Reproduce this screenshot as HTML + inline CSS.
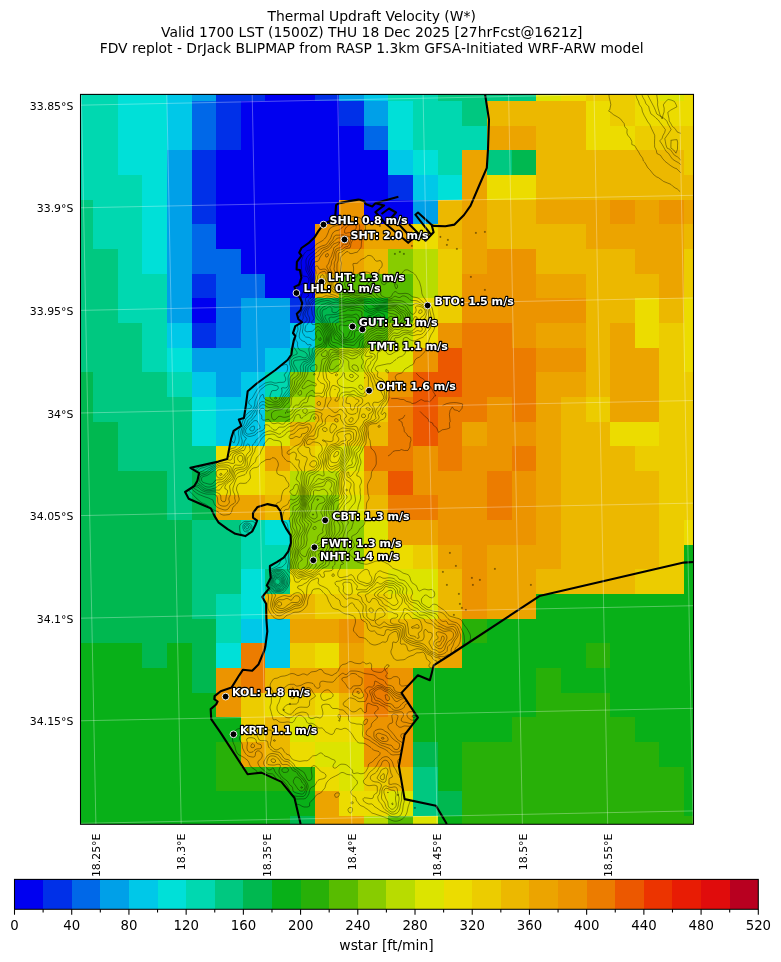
<!DOCTYPE html>
<html lang="en"><head><meta charset="utf-8"><title>Thermal Updraft Velocity (W*)</title>
<style>html,body{margin:0;padding:0;background:#fff}body{width:781px;height:962px;overflow:hidden}svg{display:block}text{font-family:"DejaVu Sans","Liberation Sans",sans-serif}</style></head><body>
<svg width="781" height="962" viewBox="0 0 781 962">
<rect width="781" height="962" fill="#fff"/>
<g font-size="13.89" text-anchor="middle" fill="#000">
<text x="371.7" y="20.9">Thermal Updraft Velocity (W*)</text>
<text x="371.7" y="36.9">Valid 1700 LST (1500Z) THU 18 Dec 2025 [27hrFcst@1621z]</text>
<text x="371.7" y="52.9">FDV replot - DrJack BLIPMAP from RASP 1.3km GFSA-Initiated WRF-ARW model</text>
</g>
<defs><clipPath id="ax"><rect x="80.5" y="94.4" width="613" height="729.9"/></clipPath></defs>
<g shape-rendering="crispEdges">
<rect x="80.5" y="94.4" width="613" height="729.9" fill="#08b018"/>
<rect x="80" y="94" width="38" height="7" fill="#00d8b0"/>
<rect x="118" y="94" width="49" height="7" fill="#00e0d8"/>
<rect x="167" y="94" width="25" height="7" fill="#00c8e8"/>
<rect x="192" y="94" width="24" height="7" fill="#00a0e8"/>
<rect x="216" y="94" width="49" height="7" fill="#0030e8"/>
<rect x="265" y="94" width="50" height="7" fill="#0000f0"/>
<rect x="315" y="94" width="24" height="7" fill="#0030e8"/>
<rect x="339" y="94" width="25" height="7" fill="#00a0e8"/>
<rect x="364" y="94" width="24" height="7" fill="#00c8e8"/>
<rect x="388" y="94" width="50" height="7" fill="#00d8b0"/>
<rect x="438" y="94" width="98" height="7" fill="#00c880"/>
<rect x="536" y="94" width="25" height="7" fill="#dce400"/>
<rect x="561" y="94" width="25" height="7" fill="#ecdc00"/>
<rect x="586" y="94" width="49" height="7" fill="#eccc00"/>
<rect x="635" y="94" width="24" height="7" fill="#ecdc00"/>
<rect x="659" y="94" width="25" height="7" fill="#dce400"/>
<rect x="684" y="94" width="10" height="7" fill="#ecdc00"/>
<rect x="80" y="101" width="38" height="25" fill="#00d8b0"/>
<rect x="118" y="101" width="49" height="25" fill="#00e0d8"/>
<rect x="167" y="101" width="25" height="25" fill="#00c8e8"/>
<rect x="192" y="101" width="24" height="25" fill="#0068e8"/>
<rect x="216" y="101" width="25" height="25" fill="#0030e8"/>
<rect x="241" y="101" width="98" height="25" fill="#0000f0"/>
<rect x="339" y="101" width="25" height="25" fill="#0030e8"/>
<rect x="364" y="101" width="24" height="25" fill="#00a0e8"/>
<rect x="388" y="101" width="25" height="25" fill="#00e0d8"/>
<rect x="413" y="101" width="49" height="25" fill="#00d8b0"/>
<rect x="462" y="101" width="25" height="25" fill="#00c880"/>
<rect x="487" y="101" width="99" height="25" fill="#ecb800"/>
<rect x="586" y="101" width="24" height="25" fill="#ecdc00"/>
<rect x="610" y="101" width="25" height="25" fill="#eccc00"/>
<rect x="635" y="101" width="59" height="25" fill="#ecdc00"/>
<rect x="80" y="126" width="38" height="24" fill="#00d8b0"/>
<rect x="118" y="126" width="49" height="24" fill="#00e0d8"/>
<rect x="167" y="126" width="25" height="24" fill="#00c8e8"/>
<rect x="192" y="126" width="24" height="24" fill="#0068e8"/>
<rect x="216" y="126" width="25" height="24" fill="#0030e8"/>
<rect x="241" y="126" width="123" height="24" fill="#0000f0"/>
<rect x="364" y="126" width="24" height="24" fill="#0068e8"/>
<rect x="388" y="126" width="25" height="24" fill="#00e0d8"/>
<rect x="413" y="126" width="74" height="24" fill="#00d8b0"/>
<rect x="487" y="126" width="49" height="24" fill="#eca400"/>
<rect x="536" y="126" width="50" height="24" fill="#ecb800"/>
<rect x="586" y="126" width="49" height="24" fill="#ecdc00"/>
<rect x="635" y="126" width="59" height="24" fill="#eccc00"/>
<rect x="80" y="150" width="38" height="25" fill="#00d8b0"/>
<rect x="118" y="150" width="49" height="25" fill="#00e0d8"/>
<rect x="167" y="150" width="25" height="25" fill="#00a0e8"/>
<rect x="192" y="150" width="24" height="25" fill="#0030e8"/>
<rect x="216" y="150" width="172" height="25" fill="#0000f0"/>
<rect x="388" y="150" width="25" height="25" fill="#00c8e8"/>
<rect x="413" y="150" width="25" height="25" fill="#00e0d8"/>
<rect x="438" y="150" width="24" height="25" fill="#00d8b0"/>
<rect x="462" y="150" width="25" height="25" fill="#eca400"/>
<rect x="487" y="150" width="25" height="25" fill="#00c880"/>
<rect x="512" y="150" width="24" height="25" fill="#00b850"/>
<rect x="536" y="150" width="148" height="25" fill="#ecb800"/>
<rect x="684" y="150" width="10" height="25" fill="#eccc00"/>
<rect x="80" y="175" width="62" height="25" fill="#00d8b0"/>
<rect x="142" y="175" width="25" height="25" fill="#00e0d8"/>
<rect x="167" y="175" width="25" height="25" fill="#00a0e8"/>
<rect x="192" y="175" width="24" height="25" fill="#0030e8"/>
<rect x="216" y="175" width="172" height="25" fill="#0000f0"/>
<rect x="388" y="175" width="25" height="25" fill="#0030e8"/>
<rect x="413" y="175" width="25" height="25" fill="#00c8e8"/>
<rect x="438" y="175" width="24" height="25" fill="#00e0d8"/>
<rect x="462" y="175" width="25" height="25" fill="#eca400"/>
<rect x="487" y="175" width="49" height="25" fill="#ecdc00"/>
<rect x="536" y="175" width="158" height="25" fill="#ecb800"/>
<rect x="80" y="200" width="13" height="24" fill="#00c880"/>
<rect x="93" y="200" width="49" height="24" fill="#00d8b0"/>
<rect x="142" y="200" width="25" height="24" fill="#00e0d8"/>
<rect x="167" y="200" width="25" height="24" fill="#00a0e8"/>
<rect x="192" y="200" width="24" height="24" fill="#0030e8"/>
<rect x="216" y="200" width="123" height="24" fill="#0000f0"/>
<rect x="339" y="200" width="25" height="24" fill="#ec9400"/>
<rect x="364" y="200" width="49" height="24" fill="#0000f0"/>
<rect x="413" y="200" width="25" height="24" fill="#00a0e8"/>
<rect x="438" y="200" width="24" height="24" fill="#ecb800"/>
<rect x="462" y="200" width="25" height="24" fill="#eca400"/>
<rect x="487" y="200" width="49" height="24" fill="#ecb800"/>
<rect x="536" y="200" width="74" height="24" fill="#eca400"/>
<rect x="610" y="200" width="25" height="24" fill="#ec9400"/>
<rect x="635" y="200" width="24" height="24" fill="#eca400"/>
<rect x="659" y="200" width="25" height="24" fill="#ec9400"/>
<rect x="684" y="200" width="10" height="24" fill="#eca400"/>
<rect x="80" y="224" width="13" height="25" fill="#00c880"/>
<rect x="93" y="224" width="49" height="25" fill="#00d8b0"/>
<rect x="142" y="224" width="25" height="25" fill="#00e0d8"/>
<rect x="167" y="224" width="25" height="25" fill="#00a0e8"/>
<rect x="192" y="224" width="24" height="25" fill="#0068e8"/>
<rect x="216" y="224" width="99" height="25" fill="#0000f0"/>
<rect x="315" y="224" width="24" height="25" fill="#ec9400"/>
<rect x="339" y="224" width="25" height="25" fill="#ec7c00"/>
<rect x="364" y="224" width="49" height="25" fill="#eca400"/>
<rect x="413" y="224" width="25" height="25" fill="#ecdc00"/>
<rect x="438" y="224" width="24" height="25" fill="#ecb800"/>
<rect x="462" y="224" width="25" height="25" fill="#eca400"/>
<rect x="487" y="224" width="99" height="25" fill="#ecb800"/>
<rect x="586" y="224" width="98" height="25" fill="#eca400"/>
<rect x="684" y="224" width="10" height="25" fill="#ecb800"/>
<rect x="80" y="249" width="38" height="25" fill="#00c880"/>
<rect x="118" y="249" width="24" height="25" fill="#00d8b0"/>
<rect x="142" y="249" width="25" height="25" fill="#00e0d8"/>
<rect x="167" y="249" width="25" height="25" fill="#00a0e8"/>
<rect x="192" y="249" width="49" height="25" fill="#0068e8"/>
<rect x="241" y="249" width="74" height="25" fill="#0000f0"/>
<rect x="315" y="249" width="24" height="25" fill="#ec9400"/>
<rect x="339" y="249" width="25" height="25" fill="#eca400"/>
<rect x="364" y="249" width="24" height="25" fill="#ecb800"/>
<rect x="388" y="249" width="25" height="25" fill="#88cc00"/>
<rect x="413" y="249" width="25" height="25" fill="#b8dc00"/>
<rect x="438" y="249" width="24" height="25" fill="#eccc00"/>
<rect x="462" y="249" width="25" height="25" fill="#eca400"/>
<rect x="487" y="249" width="49" height="25" fill="#ec9400"/>
<rect x="536" y="249" width="99" height="25" fill="#ecb800"/>
<rect x="635" y="249" width="49" height="25" fill="#eca400"/>
<rect x="684" y="249" width="10" height="25" fill="#eccc00"/>
<rect x="80" y="274" width="38" height="24" fill="#00c880"/>
<rect x="118" y="274" width="49" height="24" fill="#00d8b0"/>
<rect x="167" y="274" width="25" height="24" fill="#00a0e8"/>
<rect x="192" y="274" width="24" height="24" fill="#0030e8"/>
<rect x="216" y="274" width="49" height="24" fill="#0068e8"/>
<rect x="265" y="274" width="50" height="24" fill="#0000f0"/>
<rect x="315" y="274" width="24" height="24" fill="#ecb800"/>
<rect x="339" y="274" width="74" height="24" fill="#58bc00"/>
<rect x="413" y="274" width="25" height="24" fill="#b8dc00"/>
<rect x="438" y="274" width="24" height="24" fill="#eccc00"/>
<rect x="462" y="274" width="74" height="24" fill="#ec9400"/>
<rect x="536" y="274" width="50" height="24" fill="#eca400"/>
<rect x="586" y="274" width="73" height="24" fill="#ecb800"/>
<rect x="659" y="274" width="25" height="24" fill="#eca400"/>
<rect x="684" y="274" width="10" height="24" fill="#eccc00"/>
<rect x="80" y="298" width="38" height="25" fill="#00c880"/>
<rect x="118" y="298" width="49" height="25" fill="#00d8b0"/>
<rect x="167" y="298" width="25" height="25" fill="#00a0e8"/>
<rect x="192" y="298" width="24" height="25" fill="#0000f0"/>
<rect x="216" y="298" width="25" height="25" fill="#0068e8"/>
<rect x="241" y="298" width="49" height="25" fill="#00a0e8"/>
<rect x="290" y="298" width="25" height="25" fill="#0030e8"/>
<rect x="315" y="298" width="24" height="25" fill="#00b850"/>
<rect x="339" y="298" width="25" height="25" fill="#28b008"/>
<rect x="364" y="298" width="24" height="25" fill="#08b018"/>
<rect x="388" y="298" width="25" height="25" fill="#58bc00"/>
<rect x="413" y="298" width="25" height="25" fill="#ecdc00"/>
<rect x="438" y="298" width="24" height="25" fill="#eccc00"/>
<rect x="462" y="298" width="124" height="25" fill="#ec9400"/>
<rect x="586" y="298" width="49" height="25" fill="#ecb800"/>
<rect x="635" y="298" width="24" height="25" fill="#ecdc00"/>
<rect x="659" y="298" width="25" height="25" fill="#ecb800"/>
<rect x="684" y="298" width="10" height="25" fill="#ecdc00"/>
<rect x="80" y="323" width="62" height="25" fill="#00c880"/>
<rect x="142" y="323" width="25" height="25" fill="#00d8b0"/>
<rect x="167" y="323" width="25" height="25" fill="#00c8e8"/>
<rect x="192" y="323" width="24" height="25" fill="#0030e8"/>
<rect x="216" y="323" width="25" height="25" fill="#0068e8"/>
<rect x="241" y="323" width="49" height="25" fill="#00a0e8"/>
<rect x="290" y="323" width="25" height="25" fill="#00c8e8"/>
<rect x="315" y="323" width="49" height="25" fill="#28b008"/>
<rect x="364" y="323" width="24" height="25" fill="#58bc00"/>
<rect x="388" y="323" width="25" height="25" fill="#b8dc00"/>
<rect x="413" y="323" width="25" height="25" fill="#ecdc00"/>
<rect x="438" y="323" width="24" height="25" fill="#ec9400"/>
<rect x="462" y="323" width="50" height="25" fill="#ec7c00"/>
<rect x="512" y="323" width="24" height="25" fill="#ec9400"/>
<rect x="536" y="323" width="50" height="25" fill="#eca400"/>
<rect x="586" y="323" width="24" height="25" fill="#ecb800"/>
<rect x="610" y="323" width="25" height="25" fill="#eca400"/>
<rect x="635" y="323" width="24" height="25" fill="#ecdc00"/>
<rect x="659" y="323" width="25" height="25" fill="#eccc00"/>
<rect x="684" y="323" width="10" height="25" fill="#ecdc00"/>
<rect x="80" y="348" width="62" height="24" fill="#00c880"/>
<rect x="142" y="348" width="25" height="24" fill="#00d8b0"/>
<rect x="167" y="348" width="25" height="24" fill="#00e0d8"/>
<rect x="192" y="348" width="73" height="24" fill="#00a0e8"/>
<rect x="265" y="348" width="25" height="24" fill="#00c8e8"/>
<rect x="290" y="348" width="25" height="24" fill="#00c880"/>
<rect x="315" y="348" width="24" height="24" fill="#88cc00"/>
<rect x="339" y="348" width="25" height="24" fill="#b8dc00"/>
<rect x="364" y="348" width="49" height="24" fill="#dce400"/>
<rect x="413" y="348" width="25" height="24" fill="#ec9400"/>
<rect x="438" y="348" width="24" height="24" fill="#ec5800"/>
<rect x="462" y="348" width="74" height="24" fill="#ec7c00"/>
<rect x="536" y="348" width="50" height="24" fill="#ec9400"/>
<rect x="586" y="348" width="24" height="24" fill="#ecb800"/>
<rect x="610" y="348" width="49" height="24" fill="#eca400"/>
<rect x="659" y="348" width="25" height="24" fill="#eccc00"/>
<rect x="684" y="348" width="10" height="24" fill="#ecdc00"/>
<rect x="80" y="372" width="13" height="25" fill="#00b850"/>
<rect x="93" y="372" width="74" height="25" fill="#00c880"/>
<rect x="167" y="372" width="25" height="25" fill="#00d8b0"/>
<rect x="192" y="372" width="24" height="25" fill="#00c8e8"/>
<rect x="216" y="372" width="25" height="25" fill="#00a0e8"/>
<rect x="241" y="372" width="24" height="25" fill="#00c8e8"/>
<rect x="265" y="372" width="25" height="25" fill="#00d8b0"/>
<rect x="290" y="372" width="25" height="25" fill="#88cc00"/>
<rect x="315" y="372" width="24" height="25" fill="#ecdc00"/>
<rect x="339" y="372" width="25" height="25" fill="#dce400"/>
<rect x="364" y="372" width="24" height="25" fill="#eccc00"/>
<rect x="388" y="372" width="25" height="25" fill="#ec9400"/>
<rect x="413" y="372" width="49" height="25" fill="#ec5800"/>
<rect x="462" y="372" width="74" height="25" fill="#ec7c00"/>
<rect x="536" y="372" width="50" height="25" fill="#eca400"/>
<rect x="586" y="372" width="24" height="25" fill="#ecb800"/>
<rect x="610" y="372" width="49" height="25" fill="#eca400"/>
<rect x="659" y="372" width="35" height="25" fill="#eccc00"/>
<rect x="80" y="397" width="13" height="25" fill="#00b850"/>
<rect x="93" y="397" width="99" height="25" fill="#00c880"/>
<rect x="192" y="397" width="24" height="25" fill="#00e0d8"/>
<rect x="216" y="397" width="49" height="25" fill="#00c8e8"/>
<rect x="265" y="397" width="25" height="25" fill="#58bc00"/>
<rect x="290" y="397" width="25" height="25" fill="#b8dc00"/>
<rect x="315" y="397" width="24" height="25" fill="#ecb800"/>
<rect x="339" y="397" width="49" height="25" fill="#eccc00"/>
<rect x="388" y="397" width="25" height="25" fill="#ec7c00"/>
<rect x="413" y="397" width="25" height="25" fill="#ec5800"/>
<rect x="438" y="397" width="49" height="25" fill="#ec7c00"/>
<rect x="487" y="397" width="25" height="25" fill="#ec9400"/>
<rect x="512" y="397" width="24" height="25" fill="#ec7c00"/>
<rect x="536" y="397" width="25" height="25" fill="#eca400"/>
<rect x="561" y="397" width="25" height="25" fill="#ecb800"/>
<rect x="586" y="397" width="24" height="25" fill="#eccc00"/>
<rect x="610" y="397" width="49" height="25" fill="#eca400"/>
<rect x="659" y="397" width="35" height="25" fill="#eccc00"/>
<rect x="80" y="422" width="38" height="24" fill="#00b850"/>
<rect x="118" y="422" width="74" height="24" fill="#00c880"/>
<rect x="192" y="422" width="24" height="24" fill="#00e0d8"/>
<rect x="216" y="422" width="49" height="24" fill="#00c8e8"/>
<rect x="265" y="422" width="25" height="24" fill="#dce400"/>
<rect x="290" y="422" width="25" height="24" fill="#ecb800"/>
<rect x="315" y="422" width="49" height="24" fill="#eccc00"/>
<rect x="364" y="422" width="24" height="24" fill="#ecb800"/>
<rect x="388" y="422" width="25" height="24" fill="#ec7c00"/>
<rect x="413" y="422" width="25" height="24" fill="#ec5800"/>
<rect x="438" y="422" width="24" height="24" fill="#ec7c00"/>
<rect x="462" y="422" width="25" height="24" fill="#eca400"/>
<rect x="487" y="422" width="49" height="24" fill="#ec9400"/>
<rect x="536" y="422" width="25" height="24" fill="#eca400"/>
<rect x="561" y="422" width="49" height="24" fill="#ecb800"/>
<rect x="610" y="422" width="49" height="24" fill="#ecdc00"/>
<rect x="659" y="422" width="35" height="24" fill="#eccc00"/>
<rect x="80" y="446" width="38" height="25" fill="#00b850"/>
<rect x="118" y="446" width="98" height="25" fill="#00c880"/>
<rect x="216" y="446" width="49" height="25" fill="#ecdc00"/>
<rect x="265" y="446" width="25" height="25" fill="#eca400"/>
<rect x="290" y="446" width="25" height="25" fill="#eccc00"/>
<rect x="315" y="446" width="24" height="25" fill="#ecdc00"/>
<rect x="339" y="446" width="25" height="25" fill="#dce400"/>
<rect x="364" y="446" width="49" height="25" fill="#ec7c00"/>
<rect x="413" y="446" width="25" height="25" fill="#ec9400"/>
<rect x="438" y="446" width="24" height="25" fill="#ec7c00"/>
<rect x="462" y="446" width="50" height="25" fill="#ec9400"/>
<rect x="512" y="446" width="24" height="25" fill="#ec7c00"/>
<rect x="536" y="446" width="25" height="25" fill="#eca400"/>
<rect x="561" y="446" width="74" height="25" fill="#ecb800"/>
<rect x="635" y="446" width="59" height="25" fill="#eccc00"/>
<rect x="80" y="471" width="87" height="24" fill="#00b850"/>
<rect x="167" y="471" width="25" height="24" fill="#00c880"/>
<rect x="192" y="471" width="24" height="24" fill="#00b850"/>
<rect x="216" y="471" width="49" height="24" fill="#ecdc00"/>
<rect x="265" y="471" width="25" height="24" fill="#eccc00"/>
<rect x="290" y="471" width="49" height="24" fill="#b8dc00"/>
<rect x="339" y="471" width="25" height="24" fill="#ecdc00"/>
<rect x="364" y="471" width="24" height="24" fill="#eca400"/>
<rect x="388" y="471" width="25" height="24" fill="#ec5800"/>
<rect x="413" y="471" width="74" height="24" fill="#ec9400"/>
<rect x="487" y="471" width="25" height="24" fill="#ec7c00"/>
<rect x="512" y="471" width="24" height="24" fill="#ec9400"/>
<rect x="536" y="471" width="25" height="24" fill="#eca400"/>
<rect x="561" y="471" width="98" height="24" fill="#ecb800"/>
<rect x="659" y="471" width="35" height="24" fill="#eccc00"/>
<rect x="80" y="495" width="87" height="25" fill="#00b850"/>
<rect x="167" y="495" width="25" height="25" fill="#00c880"/>
<rect x="192" y="495" width="24" height="25" fill="#00b850"/>
<rect x="216" y="495" width="49" height="25" fill="#eca400"/>
<rect x="265" y="495" width="25" height="25" fill="#ecb800"/>
<rect x="290" y="495" width="49" height="25" fill="#88cc00"/>
<rect x="339" y="495" width="25" height="25" fill="#dce400"/>
<rect x="364" y="495" width="24" height="25" fill="#ecb800"/>
<rect x="388" y="495" width="50" height="25" fill="#ec7c00"/>
<rect x="438" y="495" width="49" height="25" fill="#ec9400"/>
<rect x="487" y="495" width="25" height="25" fill="#ec7c00"/>
<rect x="512" y="495" width="24" height="25" fill="#ec9400"/>
<rect x="536" y="495" width="25" height="25" fill="#eca400"/>
<rect x="561" y="495" width="98" height="25" fill="#ecb800"/>
<rect x="659" y="495" width="35" height="25" fill="#eccc00"/>
<rect x="80" y="520" width="112" height="25" fill="#00b850"/>
<rect x="192" y="520" width="49" height="25" fill="#00c880"/>
<rect x="241" y="520" width="24" height="25" fill="#00d8b0"/>
<rect x="265" y="520" width="25" height="25" fill="#00e0d8"/>
<rect x="290" y="520" width="74" height="25" fill="#88cc00"/>
<rect x="364" y="520" width="24" height="25" fill="#dce400"/>
<rect x="388" y="520" width="50" height="25" fill="#eca400"/>
<rect x="438" y="520" width="98" height="25" fill="#ec9400"/>
<rect x="536" y="520" width="25" height="25" fill="#eca400"/>
<rect x="561" y="520" width="98" height="25" fill="#ecb800"/>
<rect x="659" y="520" width="25" height="25" fill="#eccc00"/>
<rect x="684" y="520" width="10" height="25" fill="#ecdc00"/>
<rect x="80" y="545" width="112" height="24" fill="#00b850"/>
<rect x="192" y="545" width="49" height="24" fill="#00c880"/>
<rect x="241" y="545" width="49" height="24" fill="#00d8b0"/>
<rect x="290" y="545" width="74" height="24" fill="#88cc00"/>
<rect x="364" y="545" width="49" height="24" fill="#ecdc00"/>
<rect x="413" y="545" width="25" height="24" fill="#eccc00"/>
<rect x="438" y="545" width="24" height="24" fill="#eca400"/>
<rect x="462" y="545" width="25" height="24" fill="#ec9400"/>
<rect x="487" y="545" width="74" height="24" fill="#eca400"/>
<rect x="561" y="545" width="98" height="24" fill="#ecb800"/>
<rect x="659" y="545" width="25" height="24" fill="#eccc00"/>
<rect x="684" y="545" width="10" height="24" fill="#08b018"/>
<rect x="80" y="569" width="112" height="25" fill="#00b850"/>
<rect x="192" y="569" width="49" height="25" fill="#00c880"/>
<rect x="241" y="569" width="24" height="25" fill="#00e0d8"/>
<rect x="265" y="569" width="25" height="25" fill="#00c880"/>
<rect x="290" y="569" width="98" height="25" fill="#ecdc00"/>
<rect x="388" y="569" width="50" height="25" fill="#dce400"/>
<rect x="438" y="569" width="24" height="25" fill="#ecb800"/>
<rect x="462" y="569" width="25" height="25" fill="#ec9400"/>
<rect x="487" y="569" width="49" height="25" fill="#eca400"/>
<rect x="536" y="569" width="99" height="25" fill="#ecb800"/>
<rect x="635" y="569" width="49" height="25" fill="#eccc00"/>
<rect x="684" y="569" width="10" height="25" fill="#08b018"/>
<rect x="80" y="594" width="112" height="25" fill="#00b850"/>
<rect x="192" y="594" width="24" height="25" fill="#00c880"/>
<rect x="216" y="594" width="25" height="25" fill="#00d8b0"/>
<rect x="241" y="594" width="24" height="25" fill="#00e0d8"/>
<rect x="265" y="594" width="50" height="25" fill="#ecb800"/>
<rect x="315" y="594" width="73" height="25" fill="#eccc00"/>
<rect x="388" y="594" width="25" height="25" fill="#ecdc00"/>
<rect x="413" y="594" width="25" height="25" fill="#dce400"/>
<rect x="438" y="594" width="24" height="25" fill="#ecb800"/>
<rect x="462" y="594" width="25" height="25" fill="#ec9400"/>
<rect x="487" y="594" width="49" height="25" fill="#eca400"/>
<rect x="536" y="594" width="158" height="25" fill="#08b018"/>
<rect x="80" y="619" width="136" height="24" fill="#00b850"/>
<rect x="216" y="619" width="25" height="24" fill="#00d8b0"/>
<rect x="241" y="619" width="49" height="24" fill="#00c8e8"/>
<rect x="290" y="619" width="49" height="24" fill="#eca400"/>
<rect x="339" y="619" width="25" height="24" fill="#ec9400"/>
<rect x="364" y="619" width="74" height="24" fill="#ecb800"/>
<rect x="438" y="619" width="24" height="24" fill="#eca400"/>
<rect x="462" y="619" width="25" height="24" fill="#28b008"/>
<rect x="487" y="619" width="207" height="24" fill="#08b018"/>
<rect x="80" y="643" width="62" height="25" fill="#08b018"/>
<rect x="142" y="643" width="25" height="25" fill="#00b850"/>
<rect x="167" y="643" width="25" height="25" fill="#08b018"/>
<rect x="192" y="643" width="24" height="25" fill="#00b850"/>
<rect x="216" y="643" width="25" height="25" fill="#00e0d8"/>
<rect x="241" y="643" width="24" height="25" fill="#ec7c00"/>
<rect x="265" y="643" width="25" height="25" fill="#00c8e8"/>
<rect x="290" y="643" width="25" height="25" fill="#eccc00"/>
<rect x="315" y="643" width="24" height="25" fill="#ecdc00"/>
<rect x="339" y="643" width="25" height="25" fill="#eca400"/>
<rect x="364" y="643" width="74" height="25" fill="#ecb800"/>
<rect x="438" y="643" width="24" height="25" fill="#eca400"/>
<rect x="462" y="643" width="124" height="25" fill="#08b018"/>
<rect x="586" y="643" width="24" height="25" fill="#28b008"/>
<rect x="610" y="643" width="84" height="25" fill="#08b018"/>
<rect x="80" y="668" width="112" height="25" fill="#08b018"/>
<rect x="192" y="668" width="24" height="25" fill="#00b850"/>
<rect x="216" y="668" width="25" height="25" fill="#ec9400"/>
<rect x="241" y="668" width="24" height="25" fill="#ec7c00"/>
<rect x="265" y="668" width="25" height="25" fill="#ecb800"/>
<rect x="290" y="668" width="49" height="25" fill="#eca400"/>
<rect x="339" y="668" width="25" height="25" fill="#ec9400"/>
<rect x="364" y="668" width="24" height="25" fill="#ec7c00"/>
<rect x="388" y="668" width="25" height="25" fill="#ec9400"/>
<rect x="413" y="668" width="123" height="25" fill="#08b018"/>
<rect x="536" y="668" width="25" height="25" fill="#28b008"/>
<rect x="561" y="668" width="133" height="25" fill="#08b018"/>
<rect x="80" y="693" width="136" height="24" fill="#08b018"/>
<rect x="216" y="693" width="25" height="24" fill="#ec9400"/>
<rect x="241" y="693" width="24" height="24" fill="#eccc00"/>
<rect x="265" y="693" width="25" height="24" fill="#ecdc00"/>
<rect x="290" y="693" width="25" height="24" fill="#eccc00"/>
<rect x="315" y="693" width="24" height="24" fill="#ecdc00"/>
<rect x="339" y="693" width="25" height="24" fill="#ecb800"/>
<rect x="364" y="693" width="24" height="24" fill="#ec7c00"/>
<rect x="388" y="693" width="25" height="24" fill="#ec9400"/>
<rect x="413" y="693" width="123" height="24" fill="#08b018"/>
<rect x="536" y="693" width="74" height="24" fill="#28b008"/>
<rect x="610" y="693" width="84" height="24" fill="#08b018"/>
<rect x="80" y="717" width="161" height="25" fill="#08b018"/>
<rect x="241" y="717" width="24" height="25" fill="#eccc00"/>
<rect x="265" y="717" width="25" height="25" fill="#ecb800"/>
<rect x="290" y="717" width="25" height="25" fill="#dce400"/>
<rect x="315" y="717" width="49" height="25" fill="#ecdc00"/>
<rect x="364" y="717" width="49" height="25" fill="#ec9400"/>
<rect x="413" y="717" width="99" height="25" fill="#08b018"/>
<rect x="512" y="717" width="123" height="25" fill="#28b008"/>
<rect x="635" y="717" width="59" height="25" fill="#08b018"/>
<rect x="80" y="742" width="136" height="25" fill="#08b018"/>
<rect x="216" y="742" width="25" height="25" fill="#28b008"/>
<rect x="241" y="742" width="24" height="25" fill="#eca400"/>
<rect x="265" y="742" width="25" height="25" fill="#ecb800"/>
<rect x="290" y="742" width="25" height="25" fill="#ecdc00"/>
<rect x="315" y="742" width="49" height="25" fill="#dce400"/>
<rect x="364" y="742" width="49" height="25" fill="#ec9400"/>
<rect x="413" y="742" width="25" height="25" fill="#00b850"/>
<rect x="438" y="742" width="24" height="25" fill="#08b018"/>
<rect x="462" y="742" width="197" height="25" fill="#28b008"/>
<rect x="659" y="742" width="35" height="25" fill="#08b018"/>
<rect x="80" y="767" width="136" height="24" fill="#08b018"/>
<rect x="216" y="767" width="99" height="24" fill="#28b008"/>
<rect x="315" y="767" width="24" height="24" fill="#ecdc00"/>
<rect x="339" y="767" width="25" height="24" fill="#dce400"/>
<rect x="364" y="767" width="24" height="24" fill="#eccc00"/>
<rect x="388" y="767" width="25" height="24" fill="#ecb800"/>
<rect x="413" y="767" width="25" height="24" fill="#00c880"/>
<rect x="438" y="767" width="24" height="24" fill="#08b018"/>
<rect x="462" y="767" width="222" height="24" fill="#28b008"/>
<rect x="684" y="767" width="10" height="24" fill="#08b018"/>
<rect x="80" y="791" width="235" height="25" fill="#08b018"/>
<rect x="315" y="791" width="24" height="25" fill="#eca400"/>
<rect x="339" y="791" width="49" height="25" fill="#ecdc00"/>
<rect x="388" y="791" width="25" height="25" fill="#dce400"/>
<rect x="413" y="791" width="25" height="25" fill="#00c880"/>
<rect x="438" y="791" width="24" height="25" fill="#00b850"/>
<rect x="462" y="791" width="222" height="25" fill="#28b008"/>
<rect x="684" y="791" width="10" height="25" fill="#08b018"/>
<rect x="80" y="816" width="210" height="8" fill="#08b018"/>
<rect x="290" y="816" width="25" height="8" fill="#00b850"/>
<rect x="315" y="816" width="49" height="8" fill="#eca400"/>
<rect x="364" y="816" width="24" height="8" fill="#b8dc00"/>
<rect x="388" y="816" width="25" height="8" fill="#58bc00"/>
<rect x="413" y="816" width="25" height="8" fill="#dce400"/>
<rect x="438" y="816" width="24" height="8" fill="#08b018"/>
<rect x="462" y="816" width="232" height="8" fill="#28b008"/>
</g>
<g clip-path="url(#ax)"><defs><clipPath id="land"><path d="M360 199.7 L358.3 199.6 L349.1 201.1 L338.4 203.4 L336.1 205 L335.3 215.7 L331.5 220.3 L323.6 224.2 L318.4 231.1 L314.6 237.2 L309.2 242.6 L301.5 248 L299.2 252.6 L301.5 255.7 L296.9 261.8 L296.6 269.5 L299.9 270 L301.4 277.7 L299.1 284.6 L294.5 286.9 L296.4 292.6 L299.9 297.6 L302.2 303 L300.7 309.9 L296.8 313.8 L298.4 319.2 L302.2 322.2 L295.3 326.1 L293 333 L295.3 336 L293.7 340.7 L292.2 348.3 L291.4 354.5 L287.6 360 L275.4 370 L256.7 383.5 L247.7 391.2 L245.9 405.3 L243.9 418.1 L238.8 419.4 L241.3 425.8 L233.6 430.9 L231.1 438.6 L227.2 459.1 L218.3 461.6 L190.4 467.8 L199.1 473.1 L197.4 480.7 L194.3 486 L185.1 492 L188.7 498.7 L200 503.8 L210.8 508.4 L214.6 516.1 L218.4 522.3 L227.6 529.2 L235.3 533.8 L245.3 536.1 L252.2 531.5 L255.3 525.3 L257.1 520.7 L253 517.6 L253 513 L257.6 506.9 L267.6 504.1 L276.8 506.1 L280.6 511.5 L282.2 520.7 L286 528.4 L290.6 535.3 L290.9 543 L288.3 551.4 L283.7 557.6 L276.8 562.2 L269.9 566 L269.9 570 L270.7 577.7 L266.8 585.4 L269.1 588.4 L262.2 596.9 L266.1 603.8 L266.4 619.2 L267.3 631.4 L265.3 646.8 L264.5 650 L258.4 664.6 L252.2 670.7 L243 669.7 L239.2 675.3 L231.5 687.6 L220.7 691.2 L214.6 696.1 L214.3 699.2 L217.6 701.5 L216.1 704.5 L210.7 709.1 L211.2 719.1 L220.7 732.9 L247.6 774.2 L261.4 772.6 L281.4 781.9 L294.5 798 L300.6 824 L446.8 830 L446.8 824 L436 805.7 L404.6 799.1 L398.9 766.1 L404.6 734.9 L417.9 717.7 L401.5 692.9 L417.9 675.3 L429.9 680.3 L433.7 665.4 L449.9 655 L539.4 596.1 L683.7 562.6 L694 562 L700 562 L700 90 L485 90 L485.1 94.5 L489 119.7 L488 149.4 L486.8 167.9 L479.4 185 L470.6 205.7 L464 215 L454.5 224.6 L445.3 226.2 L433.7 225.9 L431.7 225 L409 224 L385 223 L375 212Z"/></clipPath></defs>
<g clip-path="url(#land)"><path d="M351 217L352 216.8L354 216.4L356 216.6L357.5 217L359 217.6L360 218L361.5 219L362.5 220L363.3 221L364 222.4L364.7 224L365 225.1L365.4 227L365.4 229L365.2 231L365 232.4L364.4 234L363.8 235L363 236.4L362.2 238L361.9 239L361.7 241L361.4 243L361.3 245L361.2 247L360.6 248L359.8 249L359 250L358 251.5L357 252.3L355 252.6L353.9 253L352 253.6L350 253.5L349 252.7L348 251.6L346 251.9L345.1 253L344 253.8L343 254.6L342 255.4L341 256.7L340.5 258L340.4 260L341 262L341.5 263L341.2 265L341 266.2L340.9 268L340.7 270L340.2 272L340.4 274L341.8 275L343 275.5L344 276.2L345.1 277L346.4 278L347.8 279L348.2 280L347.1 281L346 281.4L345 282.3L344.6 284L345 285.6L345.7 287L346.4 288L347 289L348 290.1L350 290.9L351 291.2L353 291.8L355 291.5L356.5 291L358 290.4L359 290L360.4 289L361.6 288L363 287L364 286.4L365 285.9L366.5 285L367.5 284L368.3 283L369 281.9L370 280.6L370.9 279L371.1 278L371 276.6L370.9 275L370 273L369 272.5L367 272.1L365 272L363 272.6L361 272.7L359 272.7L358 274L357.5 275L357 276.2L356 277.7L354.1 277L353.7 276L353.4 274L353.4 272L353.6 270L353.6 268L353.3 266L352.9 265L353 263.7L355 263.4L357 263.4L358 262.7L359 261.4L360 260.4L361 259.7L362.2 259L364 258.3L365 257.7L366 256.9L367 255.9L369 255.3L371 255.8L372 256.3L373 257.2L374 258.6L374.8 260L376 261L377 261.2L378.1 261L380 260.5L381 261.1L382 263L382.2 264L382.1 266L381.6 267L380.8 268L379.7 269L379 270.1L378.8 272L378.9 274L379.1 275L379.7 277L380.1 278L380.8 280L381 281L381.7 283L382.3 284L384 284.9L385.8 284L386.2 283L386 281.5L385.6 280L386 278.1L387 277.1L388 276.3L389 275.5L390 275L392 274.6L394 274.8L396 275L398 274.9L400 274.5L401.3 274L402.4 273L403 271.9L404 270.6L405 270L407 269.8L408 270L409.8 271L411 271.8L412 272.3L413.3 273L414.5 274L415.5 275L416.2 276L417 277.7L417.7 279L418.4 280L419.1 281L419.9 283L420.1 284L420.7 286L421 287.2L421.3 289L421.6 291L421.8 293L422 294L422.9 296L423.5 297L424.2 298L425 299.1L426 300.5L426.7 302L427.1 303L428 304.1L429.2 305L430.5 306L431.5 307L432.1 308L432.6 310L432.9 312L433.1 313L433.8 315L434 316.7L434.3 318L435 320L435.3 321L435.5 323L435.1 325L434.9 326L434.5 328L434 329.7L433.5 331L432.9 332L432 333.3L431 334.9L430.5 336L430 337.2L429.3 339L429 340L428.2 342L427.8 343L427.1 345L426.9 346L426.5 348L426 349.5L425.2 351L424.5 352L423.6 353L422.6 354L421.7 355L420.8 356L419.5 357L418 357.7L417 358.1L415.8 359L415 360L414.2 362L414 363L413 364.5L412 365L410 365.8L409 366.6L408 367.3L406.8 368L405 369L404 370L403.5 371L402.8 372L401.6 373L400 373.5L398 373.9L397 374.5L396 375.3L395.1 377L395.8 379L396.4 380L397 381.1L397.7 383L397.8 385L397.1 387L396.2 388L395 388.6L393 388.9L391.8 389L390.4 390L389.9 391L389 392.9L388.9 394L389 395L389.2 397L389 398L388.4 400L388 401L387 403L386.5 404L385.8 405L385 406.1L383.8 407L383 408.1L382.6 410L382 411.1L381 412.9L381 413.4L382 414.7L383.1 414L384 412.6L385.7 413L385.9 415L385.4 417L384.8 418L383.6 419L382 419.7L381 420L379.3 421L378.4 422L377.5 423L376 423.7L374 423.7L372 423.9L371 424.2L369.3 425L368.4 426L368 427.2L367.8 429L368 430.4L368.3 432L368.5 434L368.4 436L368.6 438L369.3 439L370 440.5L370.2 442L370.4 444L370.7 446L371 447.9L371.7 449L373 449.9L374 451L374.6 452L375.1 453L375.8 455L376 456L376.2 458L376.2 460L376.3 462L376.2 464L375.9 465L375 466.8L374.1 468L373.4 469L372.7 470L372 471.1L371.4 473L371.3 475L371.1 477L370.8 478L370 479.5L369.2 481L368.6 482L368 483.3L367.5 485L367.4 487L367.7 489L367.8 491L367.9 493L368.1 494L368.7 496L369 497.6L369 498.4L368.4 500L367.7 501L367 502L366.5 504L366.4 506L366.4 508L366 509.5L365.5 511L365 512.8L364.8 514L364.5 516L364.7 518L364.9 520L364.9 522L364.5 524L363.9 525L363 526L361.8 527L360.5 528L359.6 529L359 530.2L358 531.9L357.1 533L356 533.9L355 534.6L354 535L352.1 536L351.6 537L351.9 539L352.3 540L353 541.5L353.9 543L354.4 544L354.4 546L353.9 547L353 548.2L352 549.1L350.8 550L349.7 551L349 553L350 554.5L351 555.7L352 556.8L353 557.6L354 558.4L355 559.4L356 560.7L357 561.8L358 562.3L360 562.9L361 563.3L363 563.7L364.4 564L366 564.3L367.8 564L369 563.6L371 563L372 562.6L373.5 562L375 561.4L377 561L378 561L380 560.9L381.1 561L383 561.5L384.2 562L386 563L387 563.5L388.2 564L389.6 565L390.5 566L391.4 567L392.6 568L394 568.7L395 569.1L397 569.8L398 570.1L400 571L401 571.6L402 572.4L403 573.1L405 573.7L406.2 574L408 574.7L409 575.6L409.8 577L410.1 578L410.6 580L411 581L412 582.7L413 583.5L414 584L415.7 585L416.4 586L417 587.2L417.7 589L418 590.1L419 591.1L420 590.9L421.7 590L423 589.3L425 589.1L427 589.7L429 589.9L431 589.4L432.6 590L433.7 591L434.3 592L434.8 594L434.4 596L433.7 597L432 597.9L430 597.5L429 597L427.9 596L426.3 595L425.2 595L424 595.6L423 596.9L422.2 598L421.4 599L421.4 601L421.8 603L422.6 604L424 604.9L425 605.5L426 606.2L427 607L429 607.7L430.6 607L431 605.9L432 604.7L434 604.1L436 604.5L437.1 605L438.2 606L439.2 607L440.9 608L442 608.8L443 609.5L444 610.2L445 611L446 612L447 613.4L448 614.7L449 615.6L450 616.2L452 616.8L453 617L455 617.6L456.4 618L458 618.4L459.6 619L461 619.8L462 621L462.5 622L463 623.1L464 624.8L464.9 626L465.7 627L466.5 628L467.2 629L468 630.3L468.9 632L469.5 633L470 634L470.5 636L470.5 638L470.2 640L469.8 641L469 642.6L468.3 644L468 645L467.5 647L467.1 649L467 651L467 653L466.9 654L466.3 656L466 657.2L465.4 659L465 660L464 661.7L463 662.8L462 663.6L461 664.2L459.5 665L458 665.6L456.9 666L455 666.7L454 667.2L452.8 668L451.7 669L450.7 670L449.6 671L448.4 672L447 672.7L446 673.1L444 673.4L442 673.5L440 673.1L439 672.8L437 672L436 671.7L434.8 671L433.9 670L433 668.4L432 667.9L430 667.6L429 666.7L428.9 665L429.7 664L430.2 663L430 662L429 660.9L427.6 660L426.6 659L426 657L425.8 656L425 654.3L424.2 653L423 652L421 652.5L419 652.8L417 652.8L416 653.2L415 654L413.7 655L412 655.6L410.5 656L409 656.7L408 657.1L406.7 658L405.4 659L404 659.7L402 659.9L400 660L399 660.2L397 660.3L396 660L394.3 659L393.4 658L393 656.9L392 655.2L391.4 654L391 653L390.9 651L391.3 650L392 648.4L392.3 647L392.5 645L392.6 643L393 641.9L394 642.1L396 642.7L397 642L398 640.8L398.7 639L398.2 637L398 636L397.7 634L397 632.2L396 631.4L394 631.6L393 632.2L391.6 633L390.2 634L389.2 635L388.6 636L388 637.8L387.7 639L387.1 641L386.1 642L385 642.3L384 642L382.2 642L381 642.9L380 643.5L378.6 644L377 644.6L375.1 645L374.8 645L373 644.8L371 644L370 643.4L369 642.5L368 641.4L367 640.1L366 639.1L365 638.4L364 638L362 637.6L360 637.4L358.9 637L357.7 636L357 635L356 633.6L355 632.6L354 631.6L353.3 630L353.7 628L354.1 627L354.8 625L355.1 624L355.5 622L355.4 620L355 618L354.5 617L353.3 616L352 615.4L350.8 615L349 614.3L347 614.1L345.9 614L344 613.4L343 612.9L341.5 612L340.3 611L339 610.1L338 609.6L336 609.2L335 609L333 608.2L332 607.4L331.1 606L330.7 605L330 603.7L329 602L328.5 601L328 599.6L327.5 598L327 596.8L326 595.1L325 594.2L324 593.3L323 592.3L322.1 591L321.2 590L320 589.1L319 588.7L317 588.7L315 589L314 589.1L312.6 590L312 591.3L311.6 593L310.9 594L309.9 595L309 596.3L308.5 598L308 599.4L307.6 601L307.6 603L307.1 605L306.5 606L305.7 607L304.9 608L304 609L302.9 610L301.2 611L300 611.6L298.6 612L297 612.2L295 612.2L293 612.7L292 613.3L290.6 614L289 614.6L287.5 615L286 615.9L285 617L284 618L283 618.7L282 619L280 619.4L278 619.3L276.9 619L275 618.1L274 617.5L273 616.6L272 615.5L271 614.1L270.3 613L269.6 612L269 610.9L268.1 609L267.9 608L267.7 606L267.8 604L268 602.3L268.2 601L268.5 599L268.5 597L268.3 595L268 593.9L267.3 592L266.7 591L265.9 590L264.9 589L264 587.9L263 586L262.7 585L262.5 583L262.4 581L262.4 579L262.7 577L263 575.6L263.5 574L264 573L265 571.4L266 570.1L266.9 569L267.9 568L269 567.1L270 566.5L271.1 566L272.7 565L273.9 564L274.7 563L275.3 562L275.9 560L276 558.3L276.1 557L276.4 555L276.9 553L276.9 551L276.6 549L276.7 547L277 546L277.7 544L278 542.9L278.4 541L278.6 539L278.5 537L278.7 535L278 533.4L277 532.4L276 531.5L275 530.3L274.1 529L273.6 528L273 526L272.7 525L272 523.5L271 522L270.6 521L270.2 519L270.8 517L271.7 516L272.4 515L272.4 513L272.3 511L273 510L274.2 509L275.1 508L275.7 506L276 504.6L277 503L278 502.5L279.5 502L280.8 501L281.2 500L281.4 498L281.6 496L282 494.4L282.4 493L283 491.5L283.9 490L285 489.1L286 488.5L287.2 488L288.4 487L289 485.1L289 484.9L288.4 483L287.6 482L286.7 481L286 479.8L285.3 478L284.7 477L283.2 476L282 475.6L280 475.2L279 474.8L277.6 474L277 473L276.7 471L277 469L277.4 468L278 466.5L278.4 465L278.2 463L277.8 462L277 460.4L276 459.1L275 458.3L274 457.8L272 457.8L271 458.8L270 459.4L268 459.4L266 459.7L265 460.3L264 461.1L262.3 462L261 462.7L260 463.8L259.4 465L258.8 466L257.8 467L256 467.6L254 467.8L253 468.2L251.9 469L250.8 470L250 471.4L249.8 473L250 474.4L250.4 476L250.4 478L249.9 479L249 480.1L248 481.3L247 482.5L246 483.1L244 483.4L242 483.3L240 483.2L238.5 484L237.7 485L237 486.5L236.5 488L236.6 490L237 491.1L237.8 493L238.1 494L238.4 496L239 498L239.2 499L239 500.2L238 501.9L237.3 503L236.5 504L235.4 505L234.2 506L233.2 507L232.7 508L232.1 510L231.8 511L231 513L230.2 514L229 514.6L227 514.8L225.4 515L224 515.1L223 515L221 514.3L220 513.6L219 512.6L218 511.8L216.3 511L215 510.5L213.8 510L212.1 509L211 508.3L210 507.5L209 506.7L208 505.9L206.7 505L205 504L204 503.6L202.5 503L201 502.2L200 501.4L199 500.5L198 499.6L197 498.8L196 497.9L195 496.9L194 495.8L193 494.7L192 493.7L191 492.7L190 491.7L189 490.7L188 489.4L187.2 488L186.7 487L186 485.6L185.4 484L185.1 482L184.9 481L184.6 479L184.5 477L184.9 475L185.1 474L185.7 472L186.1 471L187 469.1L187.8 468L188.9 467L190 466.2L191 465.5L192 464.5L193 463.2L193.8 462L194.6 461L195.8 460L197 459.1L198 458.6L199.5 458L201 457.9L202 458.1L204 458.5L205.9 458L207 457.3L208 456.6L209.1 456L211 455L212 454.5L213.3 454L215 453.2L216 452.4L217 451.1L217.5 450L218.4 449L219.4 448L220.1 447L220.7 445L221 443.9L222 442L222.8 441L223.9 440L225 439.2L226 438.7L228 438.2L229.8 439L230.8 440L231.9 441L232.9 442L233.7 443L234.1 443L234.7 441L235.1 440L235.4 438L235.1 436L234.7 435L234.3 433L234.9 431L235.5 430L236.3 429L237.1 428L238 426.7L238.9 425L239.2 424L239.6 422L240 420L240.3 419L241 417.8L241.9 416L242.2 415L242.8 413L243.5 412L244.4 411L245.4 410L247 409L248 408.9L250 408.6L251 407.8L251.5 406L250.6 405L249.1 404L248.6 403L249 401L249.9 400L251 399.2L252 398.2L252.9 397L253.5 396L254 395L255 393.1L255.7 392L256.3 391L257 389.8L258 388.4L259 387.4L260 386.7L261.1 386L262.4 385L263.7 384L265 383.1L266 382.8L268 382.3L269.8 382L271 381.9L272 382.1L274 382.9L275 383.1L276.4 383L278 382.6L280 382.3L282 382.4L284 382.1L285 381.5L285.7 380L285.6 378L285 376.8L284.1 375L285 373.3L286 372.8L287 371.3L287.4 370L287.7 368L287.5 366L287 364.6L285 364.5L283.7 365L282 365.5L280 365.1L279.3 364L279 363L278.6 361L278.9 359L279.6 358L281 357.1L282 356.6L283.6 356L285 355L285.7 354L286.2 353L286.9 351L287.2 350L288 348.5L288.8 347L289.2 346L289 344.4L288 343.2L287 342.5L286 341.6L285.3 340L285.6 338L286 336.3L286.3 335L287 333L287.5 332L288 330.6L288.1 329L288 328L288 326L288.1 325L288.4 323L288.5 321L288.5 319L288.9 317L289.2 316L290 314.3L290.7 313L291.3 312L292 310L292.2 309L292.5 307L292.8 305L293.1 304L293.8 302L294.3 301L295 299.7L295.6 298L296 296L296.1 295L296.1 293L296.2 291L297 289L297.6 288L298.3 287L299.1 286L300.3 285L302 284L303 283.5L305 283.1L307 283.9L308.1 283L308.9 281L308.7 279L308 277.4L307 276.6L305 276.3L303 276.1L302.3 275L302 273.1L301.9 272L301.6 270L301.5 268L301.4 266L301.2 264L301.1 262L301.6 260L302.1 259L302.7 257L303 256L304 254L304.7 253L305.6 252L306.7 251L308 250.4L310 250.1L311 249.6L312 248.9L313 247.8L314 246.6L315 245.5L316 244.5L317 243.8L318.4 243L320 242.1L321 241.5L322 241L323.3 240L324.4 239L325.3 238L326.1 237L327 235.2L327.5 234L328 233L328.6 231L329 230L330 228.4L331 227.6L332 227L334 226.2L335 225.9L337 225.5L338.2 225L339.9 224L341 223.4L342 223L343.6 222L344.7 221L345.6 220L346.4 219L347.5 218L349 217.4L351 217ZM386 369.5L385.7 371L386.3 372L387.9 373L388.3 373L388.3 371L387.4 370L386 369.5ZM275 397.3L274.5 398L274.9 399L275 399.1L276 399.1L276.2 399L276.9 398L276 397.2L275 397.3ZM379 425L379.2 425L380.3 426L380 427.1L378 427.1L378 426.6L379 425ZM295 484.8L294.2 486L293.8 487L293.1 489L292 489.8L291 490.1L289.8 491L290 492.3L291 493.8L292 494.7L293 495.3L295 495.5L296 494.8L297 493L297.2 492L298 490L298.3 489L298.4 487L298 485.1L297 484.1L295 484.8ZM243.5 522L245 521.3L247 521.4L249 521.5L251 521.1L253 521.4L254 522L255 523.3L255.6 525L255.8 527L255.7 529L255.3 531L254.8 532L254 533.2L253 534.3L251.9 535L250 535.8L249 536L247 536L246 535.8L244 535.4L242.8 535L241.2 534L240.4 533L240 532L239.6 530L239.5 528L239.5 526L240 525L241 524L242.1 523L243.5 522ZM364 569.9L363 570.6L362 571.4L361 572.3L360 573.2L359 574.2L358 575.5L357.5 577L357.6 579L358.1 580L359.3 581L361 581.7L362.1 582L364 582.5L365 583L367 583.6L369 583.2L370 582.6L371 581.9L371.8 580L371.8 578L371 576.3L370 575L369.6 574L369.1 572L368.8 571L368 569.9L366 569.3L364 569.9ZM348.7 662L350 661.5L352 661.8L353 662.3L354.5 663L356 663.3L358 663.6L360 663.7L361.4 663L362.7 662L363.6 662L364.6 663L366 664L368 663.6L369.4 663L370.5 663L371.3 664L371.7 666L371.5 668L371.8 670L373 671L374 671.3L376 671.9L377 672.1L379 672.4L381 672.3L382 672L383.4 671L384.3 670L384.5 668L385 666.9L386 665.6L387 664.7L388.9 665L389.1 666L388.4 667L387.2 668L386 668.9L385.1 670L386 671.3L387 672.6L387.3 674L386.2 675L385.7 676L386 677.3L387 678.2L389 678.8L391 678.6L392 677.8L393 676.9L395 676.6L397 676.7L398 677.2L399 678.2L399.7 680L399.6 682L399.6 684L400.2 685L401.7 686L403 686.1L404 685.9L406 685.5L408 685.3L410 685.3L412 685.8L413 686.3L414.4 687L416 687.7L417 688.1L419 688.9L420 689.3L421.1 690L422.2 691L423 692L424 694L424.1 695L424.4 697L425 698.9L425.3 700L425.2 702L425.4 704L426 705.1L426.8 707L426.9 709L427 710L427.4 712L427.5 714L427.1 716L426.9 717L427 718.5L427.3 720L427.4 722L427.3 724L427.1 726L426.6 727L425.8 728L424.3 729L423 729.6L421 729.9L419 729.8L417.9 730L416.2 731L415.1 732L414 732.8L413 733.4L411.9 734L410.7 735L409.8 736L409 737.4L408.9 739L409.2 740L409.8 742L410 743.5L410.1 745L410.1 747L409.8 748L409 749.3L408 750.5L407 751.8L406.3 753L405.7 754L405 755.1L404 756.2L403 757.1L401.2 758L400 758.5L399 759L398 760L397.6 762L398 763.4L399 764.6L400 765.3L401.1 766L402.6 767L403.6 768L404.3 769L405 770.2L406 771.9L406.9 773L407.9 774L409 775L409.8 776L410.3 777L411 779L411.4 780L412 781.6L412.5 783L413 784.1L413.9 786L414.4 787L415 788.7L415.3 790L415.2 792L414.8 793L414 794.2L413 795.8L412.4 797L411.9 798L411 799.6L410.3 801L409.8 802L409.1 804L408.8 805L408.1 807L407.9 808L407.5 810L407.1 812L406.8 813L406 814.7L405.2 816L404.5 817L403.6 818L402.4 819L401 819.9L400 820.3L398 820.9L397 821.1L395 821.2L393.8 821L392 820.5L390.9 820L389 819.1L388 818.7L386.2 818L385 817.5L383.9 817L382 816.3L381 815.9L379 815.3L378 815L376 814.3L375 813.9L373 813.4L371.9 813L370.5 812L369.6 811L368.6 810L367 809L366 808.5L365 807.7L364 806.9L362 806.1L361 805.8L359.8 805L359 804L358 802.6L357 801.3L356.2 800L356 798.6L355.2 797L354 796.4L353 795.8L352 794.8L351 793.1L350.6 792L351 790.8L352 790L353 789L354 787.5L355 786.2L356 785.2L357 784.1L357.5 783L357.2 781L356.4 780L355.3 779L354.2 778L353.3 777L352.6 776L351.8 775L350 774.8L348 774.6L346.1 774L345 773.4L344 772.8L342 772.4L340.5 773L339.1 774L338 774.7L337 775.2L335.4 776L334 776.7L333 777.2L331.5 778L330 778.9L329 779.9L328 780.9L327.1 782L326.4 783L326 784.1L325.4 786L325 787.7L324.1 789L323.1 790L322.3 791L321.6 792L320.6 793L319 793.7L318 794L316.4 795L315.6 796L315 797L314 798.6L313 799.5L312 800.3L311 801.2L310 802.4L309.5 804L309.7 806L308 806.9L306.7 807L305 807L304 807L302 806.3L301 805.6L300 805L298 804.4L296 804.1L295 804L293 803.9L291 803.7L289.3 803L288 802L287.2 801L286.6 800L286 798.9L285 798L283.2 797L282 796.5L280.8 796L279 795.3L278 794.9L276.3 794L275.4 793L275 791.3L274.8 790L274.3 788L273.7 787L272.8 786L271 785L270 784.7L269.2 783L269.7 781L269 779.1L268 778.4L266.1 778L265 778L263 777.5L262 776.9L260.9 776L259.9 775L259 773.8L258 772.4L257 771.4L256 770.5L255 769.7L254 769L252.5 768L251.3 767L250.5 766L249.9 765L249.1 763L248.7 762L248 760.8L247 759.9L245.9 759L244.6 758L243.1 757L242 756.4L241 755.9L239.1 755L238 754.2L237.1 753L236.5 752L236 750.8L235.4 749L235.1 747L234.8 746L234 744.5L233.3 743L233 742L232.6 740L232.5 738L232.6 736L233 734.4L233.6 733L234.2 732L235 731L236 730L237.7 729L239 728.6L241 728.1L242 728L244 727.7L246 727.6L248 727.2L249 726.8L251 726.8L252 727.1L254 727.3L256 727.6L258 727.7L259.8 728L261 728.8L262 730L262.5 731L262.8 733L264 733L264.4 732L265.2 731L266.9 730L268 729.9L269.2 730L271 730.1L272 731.4L272.3 733L272.3 735L272 736L271.3 738L271.3 740L271 741L270.4 743L270.3 745L271 746.2L272 747.1L273 748.1L274 749.1L276 750L278 749.6L279 748.9L280.5 748L281.6 748L282.9 749L283.4 750L284 751.2L285 752.5L286 753.5L287 754.3L289 755L290 755.6L290.7 757L291.3 758L292.1 759L293.8 760L295 760.3L297 760.8L298 761.1L300 761.4L302 761.1L303 760.9L305 760.7L307 760.8L308.7 760L309.6 759L310.5 758L311.3 757L312.6 756L314 755.7L316 755.5L317.1 755L318.4 754L320 753L321 752.9L322 753.3L323 754.2L324 755.4L325 756.1L327 756.7L328 757L329.9 758L331 758.7L332 759.2L334 759.9L335 760.5L335.4 762L334.6 763L333.8 764L333 765.8L333 767L333.8 768L335 768.2L336 767.8L337.2 767L338.2 766L339.1 765L341 764.2L343 764.2L345 764.4L346.6 765L348 766L349 766.9L350 767.8L351 768.7L352 769.7L352.6 771L352.7 773L354 773.6L356 773.1L357 773L358 773L360 773.7L362 773.7L364 773.2L365 772.6L366 771.2L366.6 770L367.2 769L368 767.2L368.2 766L368.8 764L370 763L371 762.6L372.2 762L373.2 761L374.1 760L375 758.9L376.1 758L377.4 757L378.5 756L379.4 755L380.1 754L380 752.7L379 751.7L377.1 751L376 750.8L374 750.2L373 749.6L372 748.7L371 747.7L370 746.9L368.7 746L367.1 745L366 744.3L365 743.7L363 743.2L361 743.1L359.3 743L358 742.5L357 741.6L356 740.2L355.1 739L354.3 738L353.7 737L353 735.8L352 734.2L351.1 733L350.3 732L349.5 731L348.4 730L347 729L346 728.4L344 728.3L342.5 729L341 729.5L339 729.1L338 728.7L336 728.6L335 730L334.7 731L334 732.8L333 734L332 734.5L330 734.2L329 733.6L327.9 733L326 732.1L325 731.3L324.1 730L323.4 729L322.1 728L321 727.9L320 728.1L318.9 728L317.4 727L316.3 726L315.1 725L314 724.3L313 723.7L311 723.2L309 723.5L307.6 723L306.7 722L306 720.3L305.3 719L304.5 718L303.4 717L302.1 716L301 715.4L299 715.3L297.5 716L296.5 717L295.8 718L295 719.4L294.1 721L293.3 722L292 722.7L290 722.4L288.6 722L287 721.9L286 722.1L284 722.4L282 722.4L280 722.2L279 721.8L278 721L277 720L275 719.4L274 720.1L273 719.3L272.7 718L272.3 716L271.9 715L271.4 713L271 711.4L270.6 710L270 708L270.2 706L271 704L271.3 703L271.4 701L271.3 699L271.9 697L272.3 696L273 694.4L273.2 693L273 692L272 690.1L271.6 689L271 687.7L270.1 686L270.3 684L271 682.7L272 681L272.7 680L273.5 679L275 678.4L277 678.2L278 677.8L279.5 677L281 676.4L283 676.1L284.4 676L286 675.6L287.8 675L289 674.4L290 673.9L292 673.5L294 673.8L295 674.2L296.4 675L298 675.6L300 675.1L301 674.6L302.5 674L304 673.9L305 674.2L306.8 675L307.3 675L308.9 674L309.6 673L311 672.1L312 671.8L314 671.6L316 671.3L317 670.9L318.4 670L320 669.2L322 669.9L322.8 671L323.4 672L324.2 673L326 673.8L327 674L329 674.5L330 675.1L332 675.5L333 675L334.4 674L336 673.2L337 672.5L338 671.2L338.6 670L339 669L340 667L340.7 666L341.7 665L343 664.4L345 664.1L346 663.8L347.3 663L348.7 662ZM357 691.5L356.8 692L357 692.4L357.5 693L358 693.4L359 693.8L359.5 693L359 692.1L358.9 692L358 691.3L357 691.5ZM339 714.6L338 715L338 716.5L339 718L339.8 719L338.7 720L339 721.3L340 720.7L340 719L340.5 717L340.3 715L339 714.6ZM273.6 740L274 739.8L275 739.9L275.1 740L275.4 741L275 741.3L274 741.3L273.6 741L273.6 740ZM336.5 793L338 792.8L339.3 793L339.3 795L338.8 796L337.9 797L336 797.4L335 796.7L334.6 795L335 793.9L336.5 793ZM351.4 802L353 801.8L353.3 803L352.4 804L351.6 804L350.9 803L351.4 802ZM348.9 808L350 807.4L352 807.7L352.4 809L352.2 811L351.7 812L350.8 813L349.8 813L348.8 812L348 810.3L348 809.4L348.9 808ZM350.8 221L352 221L353 221.1L355 221.5L357 222L358 222.7L358.9 224L359.3 225L359.7 227L359.5 229L359 230.1L358 231.2L357 232.1L356 233.3L355 234.6L354.2 236L353.9 237L353.5 239L352.9 240L352 241.4L351.1 243L350.8 244L350.7 246L350 247.9L349 248.1L347 248.3L345.4 249L344.3 250L343.3 251L342 251.9L341 252.3L339 252.8L338.3 254L338.3 256L338.3 258L338.2 260L338 261L337.2 263L337 264L337 266L336.9 268L337 270L337.1 271L337 273L336.9 274L336.8 276L336 277.7L335.3 279L334.6 280L333.8 281L333 282.2L332.8 284L333 285.5L333.6 287L334.6 288L336 288.5L338 288.4L340 288L341 287.8L342 288L343.5 289L344.6 290L345.8 291L347 291.6L348.1 292L350 292.5L351.7 293L353 293.2L354.6 293L356 292.6L358 292L359 291.8L361 291.3L362 290.8L363.5 290L365 289.2L366 288.7L367.3 288L369 287.1L369.9 286L370.2 285L371 283.7L372.7 283L373.2 283L375 283.9L376 285L377 285.5L378.3 286L379.6 287L380.3 288L380.8 290L380.9 292L380.6 294L381 295.2L382 296L384 297L385 297.5L387 297.9L389 297.7L390.7 297L391.6 296L392 295L393 293.2L394 292.2L395 291.4L396.3 292L397.5 293L399 293.7L401 293.7L403 293.5L405 293.3L407 293.5L408.7 294L410 294.8L411 295.7L412 296.5L413 297L415 297.3L417 297.7L418 298L419.6 299L420.7 300L421.8 301L422.9 302L423.8 303L424.5 304L425.4 305L426.5 306L427.8 307L428.7 308L429.3 309L429.9 311L430.1 312L430.6 314L431 316L431 317L431.1 319L431.3 321L431.3 323L431 324.9L430.9 326L430.4 328L429.8 329L429 330L428 331L427 332.3L426 333.8L425.2 335L424.3 336L423.2 337L422 337.6L421 338L419 338.8L418 339.4L416.7 340L415 340.8L413 340.9L411 340.2L410 339.7L409 339L408 338L406 337.2L404 338L403.3 339L403.2 341L403 342.1L402.5 344L403 345.5L404 347L404.7 348L405.1 349L405.7 351L405.2 353L404.6 354L403.8 355L402.3 356L401 356.5L399.3 357L398 357.7L397 358.5L396 359.5L395 360.3L393.9 361L392.7 362L391.7 363L390 363.8L388 363.8L386.8 364L385 364.4L383 364.8L381.9 365L380 365.5L378 365.9L377 366.2L376 367L375.1 369L376 370.6L377.2 371L378 372L377.8 373L377.1 375L377.7 377L379 377.8L380 378.1L382 378.9L383 380L383.8 381L385 382L386 382.3L388 382.1L389 381.9L390.1 382L391.2 383L391 384.6L390 385.2L388 385.6L387 386L387 388L387.3 389L387 391L386.6 392L386.3 394L386.7 396L386.7 398L386.2 400L385.6 401L384.7 402L383.5 403L382.6 404L381.9 405L381.1 407L380.8 408L380 409.5L379 410.6L378 411.9L377.7 413L378 414.7L378.8 416L379.2 417L379 418.1L378 419.5L377 420.5L376 421.2L374 422L373 422.2L371 422.8L370 423.1L368.2 424L367.3 425L366.8 426L366.3 428L366.2 430L366.8 432L367 434L366.6 436L366.3 438L366.1 440L366 442L366 443L365.2 445L364.3 446L363.6 447L363 448L362.3 450L361.9 451L361 452.7L360 454L359.6 455L359.6 457L360 458.6L360.6 460L361 462L360.7 464L360 465.7L359.5 467L359 469L358.9 470L358.3 472L357.6 473L356.8 474L356.9 476L358 476.1L359.8 477L360.4 478L361 479.4L361.5 481L361.3 483L360.7 484L360 485L359.7 487L360 488L360.3 490L360.1 492L360.3 494L360.6 496L360.6 498L360.2 500L360 501L359.2 503L358.9 504L358.3 506L358 507.6L357.8 509L357.6 511L357.2 513L356.8 514L356 515.3L355 516.3L354 517L352.8 518L353 520L353.3 521L353.2 523L352.8 524L352.2 526L352 527L351.3 529L350.2 530L349 530.7L348 531.8L347.4 533L347 534.5L346.8 536L347 538L347.1 539L347.3 541L347.3 543L347 544.5L346.5 546L346 547.1L345.1 549L344.5 550L343.9 551L343 552.8L342.5 554L342 555.2L341.2 557L340.9 558L340.6 560L341 561.4L342 562.2L343.7 563L343 564.1L341 564.6L340.5 566L340.3 568L339.9 569L339 570.1L338 572L337.8 573L337.8 575L338.1 576L339 577.2L341 577.7L343 577.3L344.2 577L346 576.7L348 576.3L349 575.5L350 574.8L352 574.9L353 575.9L353.7 577L354.3 578L355 579.5L355.9 581L356.9 582L358 582.8L359 583.3L360.8 584L362 584.5L363.2 585L365 586L365.2 586L367 585.7L368.8 585L370 584.5L371 584L372.2 583L373.1 582L374 580L374.3 579L374.8 577L375 575.9L375.7 574L376.5 573L377.6 572L379 571L380 570.8L381 571L382.8 572L384 572.4L386 573L387 573.4L389 574L390 574.2L392 574.6L393.7 575L395 575.3L396.7 576L397.6 577L398.2 578L399 579.1L401 579.9L402 580L404 580.5L405 581.1L406 582.1L407 583.2L408 584.5L409 586L409.7 587L410.6 588L411.3 589L412 590.4L412.4 592L412.6 594L411.8 595L411 597L410.9 598L411.2 599L412 600L414 600.5L416 600.7L418 600.9L419 601.5L419.7 603L420.2 604L421 605.1L422 606L423.6 607L424.9 608L426 608.9L427 609.4L428.9 610L430 610.2L432 610.8L433 611.2L435 611.5L437 611.5L439 611.8L440 612.1L442 612.8L443 613.4L444 614.1L445 615.2L446 616.5L447 617.7L448 618.7L449 619.6L450 620.4L451 621.1L453 621.8L454 622.1L456 622.6L457 623.1L458.3 624L459.1 625L460 626.4L460.9 628L461.3 629L462 630.4L462.9 632L463.3 633L463.9 635L464.1 636L464.2 638L464.4 640L464.5 642L464 643.9L463.6 645L463 646.7L462.5 648L461.9 649L461 650L459.9 651L459 652.4L458.2 654L457.4 655L456 655.9L455 656.4L454 657.1L453 658L452 659L451 660L450 661.2L449 662.7L448 663.7L447 664.3L445.4 665L444 665.6L442.4 666L441 666.2L440 665.9L438.7 665L437.9 664L437.1 662L436.8 661L435 660.4L434 660L432.9 659L432 657L431 656L430 655.4L429 654.9L427.4 654L426.3 653L425.5 652L424.5 651L423 650.2L422 649.8L420 649.2L419 648.9L417 648.7L415.8 649L414 649.6L412.9 650L411 650.7L410 651.1L408.5 651L407.8 650L407.2 648L407 647L406 645.1L405 644.4L404 644L402.8 644L401 644.2L400.1 643L400.7 641L400.6 639L400 637.3L399.7 636L399.4 634L399 632L398.6 631L397.6 630L396 629.4L394 629.4L392.3 630L391 630.4L389.5 630L388 629.5L386 630L385.5 631L385.1 633L384.9 634L384 635.5L382 635.4L380.7 635L379 634.5L377.1 634L376.2 633L375.7 632L374.6 631L373.5 631L372 631.3L370.3 631L369 630.1L368.1 629L367.7 628L367.2 626L367 624.5L366.4 623L365.3 622L364 621.3L363 620.8L361.8 620L361 618.7L360.6 617L360.4 615L360 613.7L359.2 612L358.7 611L358 609.8L357 608.7L356 607.9L355 606.8L354.1 605L353.6 604L352.4 603L351.2 603L350 603.6L349 604.5L348 605.7L347 606.7L346 607.1L344 607.1L343 606.8L341.6 606L340.7 605L340.1 603L340 601.9L339.3 600L338 599L337 598.6L335.8 598L335 596.9L334 595.9L332.2 595L331 594.1L330.3 593L329.7 592L329 590.9L328 589.5L327 588.7L325.9 588L324 587L323 586.5L321.7 586L320 585.2L319 584.6L318 583L318.5 581L318.5 579L317.8 578L316.8 578L315 579L314 579.5L312.5 580L311 580.9L310 582L309.3 583L308.6 584L308 585L307.2 587L307 588L306.8 590L306.7 592L306.5 594L306.4 596L306 597.7L305.5 599L305 600L304.3 602L304 603.6L303.4 605L302.6 606L301.3 607L300 607.6L298.7 608L297 608.3L295 608.5L293.7 609L292 609.9L291 610.4L289.7 611L288 611.6L287 612L285.2 613L284 613.8L283 614.4L282 615L280 615.8L278 615.7L276.2 615L275 614.2L274 613.2L273.1 612L272.5 611L271.9 610L271.1 608L270.9 607L270.7 605L270.8 603L271 602L271.4 600L271.8 598L272 597L272.1 595L271.8 594L271 592.8L270 591.4L269.1 590L268.4 589L267.6 588L266.7 587L266 585.9L265.4 584L265.4 582L265.5 580L266 578L266.2 577L266.7 575L267 574L268 572L268.8 571L269.8 570L271 569.1L272 568.7L273.7 568L275 567.3L276 566.7L277.3 566L278.6 565L279.3 564L280 562.5L280.7 561L281.1 560L281.6 558L281.7 556L281.6 554L281.3 552L281 550.9L280.7 549L280.9 547L281.2 546L282 544.4L283 543.3L284 542.6L285 542L286 540.9L286.7 539L287 537.8L287.1 536L286.5 535L285.3 534L284.3 533L283.7 532L283.2 530L283.1 528L282.6 527L281.3 526L280 525.2L279.1 524L278.8 523L278.6 521L278.4 519L278.5 517L278.8 515L279 514L279.7 512L280.1 511L281 509.1L281.7 508L282.9 507L284 506.4L285 506L286.9 505L287.8 504L288.4 503L289 501.3L289.5 500L291 499L292.9 500L293.2 500L295 499.4L296 498.7L297 498L298 497L299 495.3L299.1 494L299.2 492L299.7 490L300 488.1L300.1 487L300 485L299.8 484L299 482.2L298 481.1L297 480.6L296.1 479L296.7 477L297.1 476L298 474.1L298.4 473L298 471.1L297.5 470L296.8 469L295.9 468L295 467L294 465.7L293 464.6L292 463.4L291 462.4L290 461.7L288 461.3L286.9 461L285.8 460L284.9 459L284 457.8L283 456.5L282.2 455L282 453.6L282 452L281.9 450L281.6 448L281.4 446L281.4 444L281 442.2L280 441.3L279 440.9L277 440.5L275 440.3L273.2 440L272 439.2L271 438.6L269 438.4L268 439.1L267 440.5L266 441.7L265 442.7L264.1 444L263.8 445L263.2 447L262.7 448L262 449.2L261.1 451L260.7 452L260 453.9L259.3 455L258.2 456L257.1 457L256.4 458L256 459.2L255.6 461L255 462.2L254 463.2L252.9 464L251.8 465L251 466L250 467.3L249 468.5L248 469.7L247.1 471L246.6 472L246 473.6L245 474.6L244 475L242 475.5L240.8 476L239 476.6L237.9 477L236.8 478L236 479.5L235.5 481L235 482L234.3 484L234 485L233.3 487L233 488.1L232.9 490L233.1 491L233.9 493L234.5 494L234.9 496L234.6 498L235 499.6L235.4 501L235 502.5L234 503.5L233 504L231.1 505L230.1 506L229.4 507L228.8 508L228 509.1L226 510L225 510L224 509.9L222 509.3L221 508.9L219 508.2L218 507.8L216.9 507L215.8 506L215 505L214 503.3L213.6 502L213 500.2L212 499.6L210.6 499L209 498.2L208 497.8L206 497.2L205 496.9L203 496.1L202 495.7L200.3 495L199 494.5L198 494L196.5 493L195.2 492L194 491.1L193 490.2L192 489.2L191.1 488L190.4 487L189.9 486L189 484.1L188.6 483L188.3 481L188.1 479L188.1 477L188.3 475L189 473L189.6 472L190.5 471L191.7 470L193 469.1L194 468.3L195 467.4L196 466.4L197 465.7L198.5 465L200 464.6L202 464.3L203.2 464L205 463L206 462.4L207 462L209 461.5L211 461.3L212 460.9L213.3 460L214.3 459L215.4 458L216.8 457L218 456.2L219 455.4L220 454.7L221.2 454L222.8 453L224 452L225 451.2L226 450.7L228 450.1L229 450L230.7 449L232 448.4L233.9 448L235 447.6L236 446.7L237 445.4L237.9 444L238.4 443L239 441.1L239.1 440L239.1 438L239 436.7L238.6 435L238.3 433L238.5 431L239 429.9L240 428.1L240.6 427L241.1 426L241.9 424L242.2 423L242.8 421L243.1 420L244 418.3L244.8 417L245.4 416L246.1 415L247 414L248 413L249.3 412L250.9 411L252 410L252.8 409L253.5 408L254 407L254.7 405L254.8 403L255 401.2L255.4 400L256 398.6L256.7 397L257.1 396L257.9 394L258.5 393L259 392L260 390.3L261 389.2L262 388.5L263 387.9L264 387L265 386L266.9 385L268 384.7L270 384.2L272 384.3L273.7 385L275 385.4L277 385.8L278 386.3L278.4 388L277.9 389L277 390L275 390.6L273 390.5L271.7 391L271 392.8L270.6 394L270 395.9L270 397L270.3 398L271.2 399L272.2 400L273.5 401L275 401.5L277 401.2L278 400.6L279 399.6L279.8 398L280.1 397L281 395L281.5 394L282 392.2L282 391L281.9 390L281.5 388L283 387.6L284.6 388L285.3 388L287 387.4L288 386.1L288.3 385L288.4 383L288.2 381L288 379L288.1 377L288.9 375L289.4 374L290 372.2L290.5 371L291 369.7L291 368.6L290.6 367L290 365.4L289.5 364L289.3 362L289.6 360L290.1 359L291 357.7L292 356.6L293 355.7L294.7 355L296 354.5L297.1 354L297.1 352L296.3 351L295.7 350L295 348.7L294 347.8L293.1 346L293.1 344L293 342.6L292.6 341L292.2 339L292.2 337L292.7 335L293 334L293.9 332L294.4 331L294.9 329L294.4 327L294 325L294 324L294.1 323L294.2 321L294.4 319L294.6 317L295 315.8L296 314.1L296.7 313L297.2 312L298 310.2L298.8 309L299.7 308L300.5 307L301.2 306L301.6 304L301.7 302L301.7 300L301.4 298L301.3 296L301.9 294L302.4 293L303 292L304 290.5L306 290.2L307.6 290L309 289.4L310 288.2L310.4 287L310.5 285L310.5 283L310.4 281L310.1 279L309.8 278L309 276.2L308.4 275L307.9 274L307 272.6L306.2 271L305.9 270L305.8 268L306 266.9L306.2 265L306 263L305.9 262L306 260L306.3 259L307 257.6L308 256.2L309 255.1L310 254.2L311 253.4L312 252.7L313 252L314.2 251L315.2 250L316.2 249L317.6 248L319 247.3L320 246.8L321.8 246L323 245.6L325 245.1L326 244.6L327 243.8L328 242.2L328.7 241L329.4 240L330.2 239L331 237.4L331.4 236L332 234.5L332.9 233L333.7 232L335 231.1L336 230.7L338 230.3L339.1 230L340.7 229L341.6 228L342.5 227L343.7 226L345 225.1L346 224.4L347 223.6L348 222.8L349 221.9L350.8 221ZM394.7 284L396 283.7L397 284.7L397.6 286L397.2 288L396 288.8L395.2 287L394.8 286L394.7 284ZM307 426.8L306 427.1L304 428L303 428.2L301 428.2L299 429L298 429.9L297 430.8L296 431.8L295 432.9L294 433.7L293 434.1L291 434.6L290 435.1L289 436.8L289 437.6L290 438.5L292 438.6L293.4 438L294.8 437L296 436.4L298 436.9L299 437.6L300.6 437L301.3 436L301.7 434L303 433.7L305 433.4L306 432.9L307.2 432L308 430.6L308.4 429L308 427L307 426.8ZM245.5 523L247 522.9L248 523.1L250 523.7L251 524.4L251.9 526L251.8 528L252 529.5L252 530.5L251.2 532L250 532.6L248 532L247 531.9L245 531.7L244 531L243.2 529L242.9 528L242.8 526L243.1 525L244 523.7L245.5 523ZM333 573.8L332 574.5L331.9 576L333 576.5L334.3 576L334 574L333 573.8ZM350.8 671L352 671L354 671L355 671L357 671.2L359 671.6L360.6 672L362 672.5L363 673L365 673.6L367 673.9L368 674L370 674.3L372 674.6L373.6 675L375 675.7L376 676.5L377 677.4L378 678.2L379.9 679L381 679.2L383 679.9L384 680.6L385 681.6L385.8 683L386.2 684L387.4 685L389 685.2L391 685.7L392 686.1L393.3 687L394 688.6L394.4 690L395.2 691L396.9 692L398 692.3L400 692.6L402 692.2L403 691.8L404.7 691L406 690.4L408 690.2L410 690.5L412 691L413 691.4L414.2 692L415.6 693L416.7 694L417.6 695L418.2 696L418.4 698L418.3 700L418.6 702L419 703.3L419.8 705L420.5 706L421.2 707L422 708.8L422.3 710L422.3 712L422 713.6L421.9 715L422 717L422.2 718L422.5 720L422.1 722L421.6 723L420.7 724L419.3 725L418 725.8L417 726.2L415.6 727L414 728L413 728.5L411.8 729L410 729.6L409 730L407.6 731L406.5 732L405 732.9L404 733.3L402 733.9L401 734.5L400.7 736L401.1 737L402 738.1L403 739.3L404 740.5L405 741.8L405.7 743L405.9 745L405.4 747L405 748L404 749.9L403.2 751L402.4 752L401.5 753L400.4 754L399 754.6L397 754.7L395 754.8L393 755L391 754.5L390 753.7L389 752.6L388 751.5L387 750.7L386 750L384.2 749L383 748.5L382 748L380 747.2L379 746.7L377.9 746L376.5 745L375.1 744L374 743.3L373 742.7L371.9 742L370.5 741L369 740L368 739.5L366.7 739L365 738.4L364 737.9L363 736.6L362.6 735L362.5 733L362.8 731L362.9 729L362.9 727L362.8 725L361 724.3L359 724.1L357 724.1L356 723.9L354 723.3L352 723.1L351 722.7L349.9 722L349 720.8L348.4 719L348.6 717L348.5 715L347.2 714L346 713L345.2 712L344.5 711L343 710L342 709.9L340 709.7L338.5 709L337 708.5L335 708.5L333 708.5L331.9 708L331 707L330 705.2L329 704.6L327 704.2L325 704.2L323 704.7L322 705L321.5 707L322 708.4L322.4 710L322.8 712L322.9 714L322.4 716L321.8 717L320.1 718L319.8 718L318 717.5L316 717.1L314 718L313 718.4L311 718.6L309.4 718L308.7 717L308.2 715L307.9 714L306.8 713L305 712.4L303 712.1L301 712.2L299 712.8L298 713.1L296 714L295 714.7L294 715.7L293 716.5L292 717.2L290 717.8L288 717.8L286 717.4L285 716.8L284 715.8L282.8 715L281 714.3L280 713.8L279 713L278 711.5L277.2 710L277 709L277 707L277.2 706L278 704.1L278.7 703L279.2 702L279.7 700L280 699L280.7 697L281 695L280.8 693L281 691.8L281.9 690L282.7 689L283.8 688L285 687.1L286 686.4L287 685.6L288 684.9L290 684.3L292 684.3L294 684.2L295 685.1L296.6 686L297.7 686L299 685.8L301 685.3L302 684.8L303.4 684L305 683.3L306 682.9L308 682.6L310 682.8L311.4 683L313 683.5L314 684.6L314.7 686L315.4 687L316.7 688L318 688.3L319.1 688L320 686.5L320 685.6L319.7 684L320 682.4L321 681.5L323 681.1L325 681.5L327 681.9L328.4 682L330 682.1L332 682.2L333 682L334.2 681L335 680L336 678.8L337 677.6L338 676.6L339 675.8L340 675L341.2 674L343 673L344.4 674L346 674.7L347.4 674L348.2 673L349 671.9L350.8 671ZM293 687.5L292 688.3L291.1 690L292 691.3L293 690.9L293.9 689L293 687.5ZM356 688.6L355 689.2L354 690.3L353.1 692L352.6 693L352.6 695L354 696L355 696.3L356.6 697L358 697.9L359 698.4L361 698.3L362 697.9L363.2 697L363.8 695L363 693.4L362.2 692L361.7 691L361 689.4L360 688.5L358 688.2L356 688.6ZM292 695.8L291 696.5L290.9 698L292 698.7L294 698.2L294.1 697L293.4 696L292 695.8ZM367 719L366 719.1L364.7 720L363.9 721L363.1 723L364 724.9L366 724L366.6 723L367.2 722L367.8 720L367 719ZM251.9 733L253 732.6L255 732.9L256 733.7L257 734.9L257.4 736L258 737.7L258.7 739L259.2 740L261 740.7L263 740.6L265 740.6L267 741L267.7 742L268 744L268.1 745L268.6 747L269.4 748L270.5 749L271.4 750L272.7 751L274 751.5L276 751.8L277.3 752L279 752.3L280.2 753L281.1 754L282 755.4L283 757L283.8 758L285 759L286 759.3L288 759.6L289 760L290.4 761L291.5 762L292.8 763L293.7 764L294.3 765L295 766.4L296 767.4L297 768.1L298.7 769L300 769.9L301 770.5L302 771L303.6 772L304.3 773L305 774.1L305.9 776L306.3 777L307 778.7L307.9 780L309 780.8L310.8 780L311.4 779L312 777L312 776L311.9 775L311.6 773L311.3 771L311.1 769L311.6 767L312.5 766L314 765.5L315.2 766L316.6 767L317.7 768L318.6 769L319.4 770L320.2 771L321.8 772L323 772.5L324.1 773L325.3 774L326 775.6L326 776.2L325 778L324 778.5L322.3 779L321 779.2L319 779.7L318 780.4L317 781.6L316.2 783L315.8 784L315 785.4L314 786.2L312 787L311 787.7L310.1 789L309.7 790L309.2 792L309 793.4L308.2 795L307.6 796L307 797L306 798.1L304 798.9L302 798.9L300 798.9L298.4 799L297 799.1L295.4 799L294 798.8L292 798.4L291 797.8L290 796.7L289 795.5L288 794.4L287 793.6L286 793L284.7 792L283.7 791L282.8 790L282 788.9L281 787.1L280.3 786L279.5 785L278.8 784L278.1 782L277.8 781L277 779.6L276 778.3L275.1 777L274.4 776L273.8 775L272.7 774L271 773.7L269 773.7L267.2 773L266 772.2L265 771.3L264 770.3L263 769.4L262 768.7L261 767.9L260 767L259 765.7L258.2 764L257.9 763L258 761.4L259 760.6L260 759.9L261 758.7L262 757L262.3 756L262.2 754L261.6 753L260.7 752L259.2 751L258 750.8L257 751L255.8 752L255.4 754L255.1 756L254.2 757L253 757.1L252 757L250 756.6L248.2 756L247 755.2L246 754.2L245.1 753L244.4 752L244 751L243 749L242.5 748L242.4 746L242.1 744L241.5 743L240.9 742L240 740.4L239.5 739L239.6 737L240.2 736L241.1 735L242.5 734L244 733.3L246 733.1L248 733.3L250 733.4L251.9 733ZM383.8 757L385 756.7L387 756.7L388 757.1L389.1 758L390.2 759L391.1 760L392 761.4L392.7 763L393 764.1L393.5 766L394 767.1L395 768.5L396 770L396.4 771L397 772.4L398 773.8L399 775L399.5 776L400 777.4L400.9 779L401.9 780L402.6 781L403 782.3L403.7 784L404.9 785L406 785.7L407 786.7L407.7 788L407.7 790L407.4 792L407 793.1L406 794.7L405.1 796L404.6 797L404.4 799L404.3 801L404 802.2L403.5 804L403.1 806L403 807L402.8 809L402.5 811L402 812.3L401.3 814L400.7 815L399.8 816L398 816.9L397 817.1L395 817L394 816.9L392 816.6L390.5 816L389 815.1L388 814.3L387 813.6L385.9 813L384 812.2L383 811.8L381.2 811L380 810.3L379 809.6L378 808.9L376.8 808L375 807L374 806.1L373.1 805L372.1 804L371 803.8L370 804L368.7 804L367 803.4L366 802.9L364.5 802L363.6 801L363 799.4L363 798.8L364 797.8L366 797.9L367 798L369 798.3L371 798.7L373 798.1L373.3 797L373.9 795L374.9 794L376 793.4L377 792.8L377.4 791L377.3 789L377.3 787L377 786L375 785.2L373 785.2L371 785.5L369 785.7L367 785.3L366 784.8L364.7 784L363.8 783L363.3 781L364 779.7L365 778.9L366 778L367 776.5L367.8 775L368.4 774L369.1 773L370 772L371.1 771L372.5 770L373.7 769L374.7 768L375.5 767L376.3 766L377 764.9L377.9 763L378.4 762L379 761L380 759.9L381 758.8L382 757.9L383.8 757ZM351.9 224L352.6 224L354 224.1L355.7 225L356.3 226L356.2 228L355.7 229L355 230L354 231L352.6 232L351 232.6L349 232.6L347 233L346 233.3L344.7 233L344.5 231L345 229.2L345.7 228L346.5 227L347.6 226L348.9 225L350 224.5L351.9 224ZM341.1 235L343 234.8L344 235.1L346 236L347 236.1L349 236.4L350 237.1L350.8 239L350.3 241L349.9 242L349.3 244L349 245.1L348 246.3L346 246.8L345 247.1L343.9 248L342.7 249L341 249.9L340 250L338 250.2L336.9 251L336 252.9L335.8 254L335.8 256L335.9 258L335.5 260L335 261L334.1 263L334.4 265L334.3 267L334 268.6L334 269.2L334.6 271L335.1 272L335.3 274L335 275.7L334.4 277L333.8 278L333 279.1L332 280.3L331.2 282L331.3 284L331.6 286L332 287.4L332.9 289L334 289.8L335 290.2L337 290.6L338.8 291L340 291.4L341.9 292L343 292.2L345 292.6L346.6 293L348 293.3L350 293.9L351 294.2L353 294.6L355 294.2L356 293.9L358 293.6L360 293.8L362 293.8L364 293.6L366 293.4L367.2 293L368.7 292L370 291.1L372 291.5L373.5 292L375 292.6L376 293.5L376.7 295L377.5 296L378.9 297L380 297.5L381.2 298L383 298.7L384 299.2L386 299.7L388 299.4L390 299L391 298.7L392.4 298L393.5 297L395 296.1L397 296.9L398 297.4L400 297.5L401 296.8L402.3 296L404 295.9L405 296.2L406.7 297L408 297.9L409 298.8L410 299.8L411 300.3L413 300.5L415 300.5L417 300.9L418 301.4L419 302.1L420.5 303L422 303.9L423 304.7L424 305.7L425 306.5L426 307.4L427 308.4L428 310L428.3 311L428.5 313L428.5 315L428.4 317L428.3 319L427.8 320L426 321L425 321.5L424 322.4L423.2 324L423.7 326L424.6 327L425.6 328L425.4 330L424.8 331L424 332.1L423 333.2L421.9 334L420 334.7L418 334.6L416 334.9L415 335.3L413 335.7L411 335.2L410 334.7L408.3 334L407 333.8L405.8 334L404 334.6L403 335L401.4 336L400 336.9L399 337.4L397 337.7L395 337.8L394 338.9L394 339.1L395 340.5L396 341.4L397 343L397.5 344L398 345.4L398.6 347L399 348.3L399.3 350L398 350.9L397 351.2L395 351.9L394 352.5L393 353.2L391.7 354L390 354.6L388 354.2L387 353.3L386.1 352L385.4 351L384.7 350L383 349.4L382 350.1L380.5 351L379 351.6L378 352L377.3 354L377.4 356L377.3 358L377 359.3L376.1 361L375.3 362L374.7 363L374 364.4L373.4 366L372.9 367L372 368.5L371.2 370L371.7 372L372.7 373L373.8 374L374.3 375L374.9 377L375.4 378L376.3 379L378 379.9L379 380.3L380.7 381L381.7 382L382.3 383L382.5 385L382 387L382.7 389L383.9 390L384.4 391L384.4 393L384.8 395L385.1 396L385.2 398L385 399L384 400.5L383 401.4L382 402.2L381 403.2L380 404.6L379.1 406L378.3 407L377.3 408L376.6 409L376 410.2L375.5 412L375.1 414L375.3 416L376 417.8L376 418.1L375 419.4L374 420.1L372 420.9L371 421.3L369.3 422L368 422.5L367 423.1L366 424.5L365.3 426L364.9 427L364.1 429L364.7 431L365.1 432L365.4 434L365 435.6L364.6 437L364.4 439L364.1 441L363.8 442L363 443.4L362 444.9L361.4 446L361 447L360.4 449L360 450L359 451.1L357.5 452L356.6 453L356.7 455L357 456L357.6 458L358 459.6L358.3 461L358.2 463L357.8 464L357 465.8L356.7 467L356.4 469L356 470.1L355 471.3L354 472.3L353 473.7L352.1 475L351 476L350 476.6L349 475L348.9 474L348.6 472L347.7 472L346.9 473L346.9 475L347 476.4L348 477.3L349.9 478L350.6 479L351.4 480L352.4 481L353.3 482L354 483.7L354.1 485L354 486L354 488L354 489L354.1 491L354.5 493L354.8 495L355 496.5L355.3 498L355.5 500L355.1 502L354.6 503L353.8 504L352.9 505L352 506L351 507.4L350 508.6L349 510L348.7 511L348 512.6L347.3 514L346.6 515L345.8 516L345 517.8L345 518.2L346 519.6L347 520.3L348 521.1L348.4 523L347.7 524L346.9 525L346.1 527L345.9 528L345.4 530L345 531.1L344.3 533L343.9 534L343.3 536L343 537.2L342 538.7L341 539.3L340 540.1L339.4 542L339 543.1L338.2 545L338.6 547L339 548.2L339.2 550L339 551.5L338.4 553L337.7 554L336.6 555L335.8 556L335 558L334.8 559L334.6 561L335 563L335 564L334.5 565L333.3 566L332.4 567L333 569L333 569.1L332 570.3L330 570.9L329 571.1L327 571.2L325 571.3L323.8 572L324 573.8L324.6 575L324.1 577L323 577.4L321.5 577L320.8 576L320 574.2L319 573.8L318 574L316.6 575L315.5 576L314.2 577L313 577.6L311.8 578L310 578.8L309 579.9L308.3 581L307.4 582L306 582.9L305 583.3L303.8 584L302.5 585L301 585.6L299 585.8L298 586.1L297.5 588L299 589L300 589.4L301.1 590L302.2 591L303 592.1L304 594L304.3 595L304.4 597L304 598.2L303.2 600L302.8 601L302.2 603L301.7 604L300.7 605L299 605.7L297 605.9L295.6 606L294 606.6L293 607.2L291.8 608L290 609L289 609.4L287.3 610L286 610.6L285 611.2L283.4 612L282 612.5L280 612.9L278 612.9L276.1 612L275.1 611L274.4 610L273.7 609L273 607.4L272.7 606L272.5 604L272.9 602L273.2 601L273.9 599L274.4 598L275 597L275.7 595L274.8 594L273.7 593L272.6 592L271.7 591L270.9 590L270 588.8L269 587.4L268 586.1L267.3 585L267 583.8L266.9 582L267 580.6L267.3 579L268 577.5L268.5 576L269 574L269.3 573L270 572L271.1 571L273 570L274 569.5L275.2 569L277 568.2L278 567.8L280 567.4L281.8 567L283 566.2L284 565.1L285 564.1L286 563L286.3 562L286 560L285.6 559L285.5 557L286 555.5L286.3 554L286 552.6L285 551L284.5 550L284.3 548L285 546.9L286.2 546L287.2 545L288 543L288.2 542L288.5 540L288.7 538L289 537L289.5 535L289.7 533L289.2 531L288.9 530L288.1 528L287.9 527L287.6 525L287 523.3L286 522.4L285 521.9L283 521.3L282 520.2L281.8 519L282 518L282.6 516L283 514L283.3 513L284 511.1L284.7 510L286 509.4L288 509.4L289 508.7L289.5 507L290 505.7L291 504.5L292 503.9L293.8 503L295 502.3L296 501.8L297.3 501L298.3 500L299 499L300 497.4L300.6 496L300.7 494L300.6 492L300.9 490L301.1 489L301.4 487L301.5 485L301.5 483L301.2 481L301 479.7L300.8 478L300.9 476L301.1 475L301.8 473L302 472L301.9 471L301 469.8L300 468.6L299.1 467L298.8 466L298.9 464L299.3 463L299.5 461L299 459.8L297 459.9L296 460L295.5 459L296 457.2L296.4 456L296.3 454L295.8 453L294 452L292 452.5L291 453.3L290 454.1L288 454.3L287 453.1L287 452.8L288 451L289 450.4L290 449.9L291.4 449L292.5 448L293.7 447L295 446.2L296 445.7L297.6 445L299 444.2L300 443.6L301 442.7L302 441.2L302.5 440L303 438.9L304 437.3L305 436.1L306 435.2L307 434.4L308 433.5L309 432.3L309.9 431L310.4 430L311 428.5L311.3 427L311 425.7L310 424.4L309 423.9L307.1 424L306 424.5L305 425.1L303 425.7L301 425.2L300 424.9L298.6 425L297.2 426L296.3 427L295.4 428L294.5 429L293.5 430L292 430.9L291 431.1L289 431.1L287.3 432L286.3 433L285.7 434L284.8 435L283.2 436L282 436.8L281 437.3L279 437.5L277.8 437L276.5 436L275.3 435L274 434.3L272 434L270 434.3L268 434.5L266 434.8L265 435.3L264 436.1L263 437.2L262 438.3L261 439.6L260.1 441L259.5 442L259 443.2L258.2 445L257.2 446L256 447L255.3 448L255 449.3L254.8 451L254 452.7L253.1 454L252.6 455L252 456.1L251.2 458L250.9 459L250.3 461L250 462.2L249.6 464L249 465.6L248.2 467L247.5 468L246.5 469L245.5 470L244 471L243 471.3L241 471.6L239.9 472L238 473L237 473.6L236 474.8L235.5 476L235 477.2L234.4 479L233.9 480L233 481.5L232 482.8L231 484L230.1 485L229.6 486L229.7 488L230 489.1L230.3 491L230.5 493L230.3 495L229.9 496L229 497.8L228.8 499L229 500.2L229.5 502L229 503.1L228 504.6L227 505.5L225.9 506L224 506.2L222.2 506L221 505.7L219.5 505L218.5 504L218 503L217.6 501L217.7 499L217.2 497L216.6 496L215.7 495L214 494.2L212 494.1L210 494.1L208 494.2L206 494L205 493.8L203 493.2L202 492.8L200.1 492L199 491.4L198 490.8L196.8 490L195.1 489L194 488.3L193 487.5L192 486.3L191.3 485L190.8 484L190.3 482L190 480L189.9 479L190 477.3L190.2 476L190.8 474L191.5 473L192.5 472L193.8 471L195 470.2L196 469.5L197 468.7L198 467.8L199.4 467L201 466.5L203 466.1L204 465.8L205.6 465L207 464.3L208 463.9L210 463.7L212 463.2L213 462.7L214 462L215.1 461L216.2 460L217.4 459L218.9 458L220 457.2L221 456.6L222 456L224 455.1L225 454.6L226 454L227.6 453L229 452.3L230 451.8L231.6 451L233 450.5L235 450.2L236 449.9L237.6 449L238.9 448L240 447.2L241 446.2L241.5 445L242 443.2L242.2 442L242.1 440L241.7 439L241.1 437L241 435.8L240.8 434L240.9 432L241 431L241.6 429L242 428L243 426L243.5 425L244 424L244.7 422L245 420.7L245.8 419L246.6 418L247.6 417L249 416L250 415L250.7 414L251.5 413L252.4 412L253.2 411L254 410L255 408.4L256 407L256.7 406L257.2 405L257.6 403L258 401.2L258.6 400L259.2 399L260 397.3L260.7 396L261.5 395L263 394.3L263.6 396L263.9 398L264.8 399L266 399.8L267 400.4L269 401L270 401.2L271.7 402L273 402.7L274 403L276 403.1L277 402.9L278.8 402L280 401L280.7 400L281.3 399L282 397.5L283 396L283.6 395L284.3 394L285 393L286 391.6L287 390.3L288 389L288.7 388L289.2 387L289.9 385L290.1 384L290.1 382L290 381L289.9 379L290 378L291 376.2L292 375.3L293 374.6L294 373.3L294.4 372L294.3 370L294 369L293 367.2L292.3 366L291.9 365L291.2 363L291.3 361L292 359.7L293 358.7L294.2 358L296 357.3L297.1 357L299 356.5L301 356.7L302 357.2L304 357.9L306 357.7L307 356.7L307.3 355L306.9 354L306 353L304.8 352L303 351.1L302 350.8L300 350.2L299 349.4L298.2 348L297.8 347L297.4 345L297.7 343L297 341.6L296 340.4L295.5 339L295.7 337L296 335.6L296.4 334L297 332.4L297.7 331L298 329.4L298 328.8L297.6 327L297.5 325L297.8 323L297.9 321L298 319.7L298.6 318L299.3 317L300 316L300.6 314L301 312.8L301.8 311L302.5 310L303.4 309L304.3 308L305.1 307L306 305.4L306.4 304L306.1 302L305.7 301L305.4 299L306 297.7L307 296.8L308.7 296L308 294.2L308 293.8L309 292.5L310 291.8L311 291L312 289L312.1 288L312.2 286L312.1 284L311.9 283L311.6 281L311.2 279L311 277.9L310.4 276L310 275L309.2 273L308.6 272L308 270.6L307.7 269L307.8 267L308 266L308.4 264L308.6 262L309 260.2L309.6 259L310.4 258L311.3 257L312.3 256L313.4 255L314.6 254L316 253L317 252.2L318 251.2L319 250.3L320 249.4L321 248.8L322.5 248L324 247.5L325.5 247L327 246.3L328 245.6L329 244.4L329.9 243L330.7 242L331.7 241L332.6 240L333.1 239L333.9 237L334.5 236L336 235.1L338 235.2L340 235.1L341.1 235ZM349 395.9L348 396.3L347 397.2L346.4 399L346 401L345.9 402L346.1 403L348 403.5L350 403.7L350.5 405L350.5 407L350.8 409L351.6 410L353 410.1L354 409.2L354.4 408L354.8 406L355.2 405L356 403.9L357.5 403L358.6 402L359 401L358.8 400L357 399.1L355.8 399L354.6 398L353.7 397L352 396L351 395.8L349 395.9ZM314 416.9L313.9 417L313.5 418L313.7 419L314 419.4L315 419.3L315.4 419L316 418L315.6 417L315 416.6L314 416.9ZM244.5 525L246 524L248 524.3L249.4 525L250.1 526L250.3 528L250 529.2L249 530.1L247 530.3L245.8 530L244.7 529L244 527L244.5 525ZM378 577L379 576.6L380.7 577L382 577.8L383 578.2L385 578.3L386.7 578L388 577.8L390 577.8L391.3 578L393 578.3L394.5 579L395.6 580L396.6 581L398 582L399 582.5L400.8 583L402 583.3L403.2 584L404.4 585L405.3 586L406 587L406.8 589L406.8 591L406.2 593L406.8 595L407.3 596L408 597.8L408.4 599L409 600.3L410 601.4L411 602L413 602.6L415 603L416 603.5L417 604.1L418 605L419 606L420 607L421.1 608L422.5 609L424 610L425 610.6L426 611.1L428 611.9L429 612.2L431 612.7L432.4 613L434 613.3L436 613.9L437 614.7L437.9 616L438.4 617L439 618.4L440 619.5L441 620.4L442 621.2L444 621.5L445 621L446 621.1L447.1 622L447.9 624L449 624.4L451 624.2L453 624.2L455 624.8L456 625.4L457 626.4L457.9 628L458.4 629L459 630.8L459.5 632L460 633.2L460.6 635L460.7 637L460.3 639L460.2 641L460 642L459.1 644L458.7 645L458 646L456.6 647L455.6 648L455 649.5L454.8 651L454 652.9L453.2 654L452.4 655L451.3 656L450 656.9L449 657.4L447.8 658L446.5 659L445.4 660L444.5 661L443 661.9L441.3 661L440.9 660L440 658.4L439 657.9L437 657.6L435 657L434 656.3L433 655.4L432 654.7L430.5 654L429 653.4L428 652.7L427 651.8L426 650.6L425 649.7L423.9 649L422 648L421 647.5L419.9 647L418 646.6L416 646.3L414.9 646L413 645.5L411.4 645L410 644.5L409 643.8L407.5 643L406 642.2L405 641.4L404 640.5L403 639.4L402 638L401.6 637L401.2 635L401.1 633L401 631.7L400.6 630L399.9 629L398 628.1L397 627.9L395 627.6L393 627.5L391 627.6L389 627.4L387.7 627L386 626.6L384 626.3L382.7 627L381 628L380 628L379 627.9L377 627L376 626.5L374 626.2L372 626L371 625.2L370.4 624L369.8 623L369 621.8L368 620.7L367 619.9L365.7 619L364.5 618L363.7 617L363 615L362.9 614L362.7 612L362.8 610L363.1 609L363.3 607L363 605.7L362 604.3L361 603L360.3 602L359.6 601L358.5 600L357 599.6L355 599.2L354 598.8L352 598L351 597.9L349 598L348 598.4L347 599.3L345.7 599L344.8 598L344 597L343 595.8L342 594.6L341 593.4L340 592.2L339.2 591L338.9 590L339 589L339 587.5L338 586.6L336.8 586L335.7 585L335 583.3L335 582.7L336 581.5L338 581.2L340 581.1L341 580.7L342.4 580L344 579.5L346 579.6L348 579.8L350 579.6L352 579.9L353 580.8L353.9 582L354.7 583L355.6 584L356.6 585L357.4 586L357 587.8L356.2 589L357 590L358 589.8L360 589.7L362 589.8L364 589.9L366 589.7L367.1 589L368 587.8L369 586.8L370.5 586L372 585.2L373 584.3L374 583L374.6 582L375.2 581L376 579.5L377 578.1L378 577ZM350.6 674L352 673.5L354 673.5L356 674L357 674.7L358 675.8L359 676.6L360 677L362 677.9L362.2 679L362.2 681L362 683L361.8 684L361 685.1L359 685.7L357 685.8L355 685.8L353.6 686L352 687L351.6 688L350.7 689L349.7 689L348.1 688L347.3 687L346.8 686L346 684.7L345 683.3L344 682.2L343 681.2L342 680L341.8 679L342.4 678L344 677.4L346 677.2L347 676.9L348.5 676L349.4 675L350.6 674ZM374.9 681L375.2 681L377 681.8L378 682.4L379 683.1L380.4 684L382 684.7L383 685.4L384 686.2L385 687L387 687.7L389 687.6L390.3 688L391.4 689L392.1 690L393 691.2L394 692.1L395.5 693L397 693.8L398 694.2L400 694.5L402 694.1L403 693.8L405 693.4L407 693.1L409 693.1L411 693.7L412 694.4L413 695.4L414 696.8L414.7 698L415.2 699L415.9 701L416.3 702L417 703.9L417.4 705L418 706L419 707.5L419.9 709L420.2 710L420.4 712L420.3 714L420.4 716L420.5 718L420.3 720L419.8 721L419 722L417.5 723L416 723.7L415 724.3L414 725L412 726L411 726.2L409 726.3L407 726.1L405.9 726L404.2 726L403 726.4L401.9 727L400 727.3L399 727L397.6 726L396.7 725L396 723L396.7 721L397.1 720L397.6 718L398 716.4L398 715.8L397 714.9L395 714.2L394 713.9L393 714.1L391.9 715L391.9 717L392.2 718L392.5 720L392.7 722L392 723.1L390 723.5L389 724.2L388 725.7L387.8 727L388.1 728L389 729.3L390 730.3L391 731.3L392 732.4L393 733.6L394 734.8L394.9 736L395.6 737L396.3 738L397 739.1L398 740L399.6 741L401 741.8L402 742.5L403 743.9L403.1 745L402.7 746L402 747.5L401.4 749L400.9 750L400 751.1L398.2 752L397 752.1L395 752L394 751.9L392.2 751L391.2 750L390.2 749L389 748.2L388 747.9L386 747L385 746.6L383.5 746L382 745.6L380.6 745L379 744L378 743.1L377 742.1L376 741.4L375 740.8L373.8 740L372.5 739L371.4 738L370.3 737L369 736.3L368 735.9L366.6 735L366 733.6L366 732.8L366.6 731L367.2 730L368.3 729L369.8 728L370.9 727L371.2 726L371.5 724L372 723L373 722L374.1 721L375.1 720L376.3 719L377.5 718L377 716L376 715.6L375 714.7L374.5 713L375 712L376.2 711L377.5 710L378.3 709L378 707L377 706.1L376 705.6L374 705.3L372.7 705L371 704.3L370 703.8L368 703.1L367 704L366.7 706L366.5 708L366.4 710L366.3 712L365 712.8L363.6 712L362.6 711L362 709.6L361 708.1L359 709L358 709.8L357 710.6L356 711.3L354 711.9L352 711.7L350.6 711L349.6 710L349 708.9L348 707.7L346.6 707L345 706.4L344 705.8L343 704L343 704L344 702.1L345 701.5L346 700.8L347 699.8L348 698.7L349.1 698L351 697.9L352 698.2L354 698.8L355 699.2L356.1 700L357.2 701L359 701.7L361 701.6L363 701.5L365 701.5L366 700.7L366.4 699L367 697.7L367.8 696L367.4 694L366.5 693L365.5 692L364.9 691L365 689.7L366 688.6L367 687.8L368 686.9L370 686.8L371 687.1L372.5 687L373.7 686L374.2 685L374.5 683L374.9 681ZM306.1 688L308 687.4L310 688L311 688.9L311.7 690L312.2 691L313 692.4L314 693.8L315 695L315.5 696L314.8 697L313.2 698L312 698.7L311 699.3L310 700.3L309.5 702L309.6 704L309.1 706L308 707L307 707.3L305 707.3L303 707.2L301 707.1L299 707.3L297.3 708L296 708.9L295 709.8L294 711L293.3 712L292.5 713L291.3 714L290 714.3L288 714L287 713.4L286 712.7L284.9 712L283.6 711L283 710L283 708.9L284 707.3L285 706.4L286 705.5L287 704.8L289 704.2L291 704.2L293 704.1L295 704.1L296.3 704L297.7 703L298.2 702L298.7 700L299 698.7L299.6 697L300.1 696L301 694.2L301.3 693L301.8 691L303 690.1L304 689.5L305 688.8L306.1 688ZM326.3 690L328 689.8L329 690.2L330 691.1L331 692.2L332 693.2L333 694.2L333.1 696L332.4 697L331.3 698L330 698.6L328.3 699L327 699.6L326 700.1L324 700.5L322.5 700L321.6 699L321 697.3L320.5 696L321 694.1L321.9 693L322.8 692L323.8 691L325 690.4L326.3 690ZM248.3 738L250 737.7L252 737.7L253.3 738L255 738.7L256 740L256.2 741L256.6 743L258 743.9L259 744L261 744.7L261.5 746L261.3 748L260 748.8L258 748.8L256.6 749L255 749.8L254 750.7L253 751.7L252 752.2L250 752.4L248.9 752L247.8 751L247.1 749L246.9 748L247 746.3L247.2 745L247.5 743L247 741.1L246.5 740L247 738.7L248.3 738ZM269.8 754L271 753.6L273 753.5L275 753.9L276 754.2L278 754.8L279 755.6L280 757L280.7 758L281.5 759L282.5 760L283.9 761L285 761.3L287 761.5L288.3 762L289.4 763L290.6 764L291.8 765L292.6 766L293.1 767L294 768.5L295 769.3L296.4 770L297.8 771L298.6 772L299.3 773L300 774.1L301 775.2L302 776.1L303 777.1L304 778.3L305 779.8L305.8 781L306.5 782L307.1 783L307.9 785L308.1 786L308 787.4L307.6 789L307 790.2L306.3 792L306 793.2L305.2 795L304.2 796L303 796.5L301 796.4L299 796.3L297 796.3L295 796.1L294 795.8L292.3 795L291.4 794L290.8 793L290 791.3L289.4 790L289 789L288 787L287.4 786L286.8 785L286 784L285 782.9L284 781.7L283 780.6L282 779.6L281 778.6L280 777.7L279 776.6L278 775.5L277 774.3L276 773.2L275.2 772L274.5 771L274 769L273.1 768L272.7 768L271.3 769L270.4 770L269 770.1L268 769.4L267 768.5L266 767.4L265 766.2L264.2 765L263.7 764L263.7 762L264.1 761L265 759.6L265.8 758L266.4 757L267.1 756L268.1 755L269.8 754ZM383 761L385 760.1L387 760.7L388 761.6L388.9 763L389.3 764L389.5 766L389.8 768L390 769L390.5 771L390.9 773L391.4 774L392.1 775L392.4 777L391 777.7L389.9 778L389 779.6L389 780.5L389 782L388.9 783L389 784.1L391 784.5L392.6 784L394 783.8L396 783.9L397 784.2L398.5 785L399.7 786L400.9 787L402 788L402.6 789L402.2 791L401.8 792L401.5 794L401.5 796L401.6 798L401.6 800L401.1 802L400.8 803L400.4 805L400.1 807L400 808L399.3 810L398.8 811L398 812.2L397 813.1L395 813.9L394 814.1L392 814.1L391 813.8L389.6 813L388.3 812L387 811.1L386 810.4L385 809.7L384 808.7L383 807.1L382.4 806L382 805L381 803.6L380 802.5L379 801.3L378.4 800L378 798.9L377.7 797L378 796L379 794.8L379.8 793L379.9 791L380 790L380.8 788L381.2 787L381.5 785L380.9 784L379.7 783L378 782.2L376.9 782L375 781.9L373 781.3L372 780.8L371 779.8L370.2 778L370.8 776L371.8 775L373 774.3L374 773.9L375.4 773L376.5 772L377.2 771L378 769.6L378.8 768L379.6 767L380.5 766L381.2 765L381.8 763L382.2 762L383 761ZM338.3 238L340 237.8L341.5 238L343 238.5L345 238.8L347 238.6L348.2 239L348.5 241L348 242.9L347.4 244L346 244.5L344.4 244L343.5 244L342.5 245L342 246.1L341 247.4L339 248L338 248.1L336 249L335.4 250L335 251.1L334.3 253L334 254.6L333.8 256L333.3 258L332.8 259L332 260.4L331.5 262L331.3 264L331 265.3L330 267L329.9 268L330.1 269L331 271L331.8 272L332.7 273L333.2 274L333 276L332.5 277L331.9 278L331 279.1L330 280.5L329.6 282L329.9 284L330.2 285L330.5 287L331 288.6L331.6 290L332.1 291L333.5 292L335 292.4L336.5 293L338 293.9L339 294.4L341 294.9L343 294.4L345 294.2L347 294.5L349 294.9L350 295.3L352 296L353 296.1L354 295.9L356 295.4L358 295.3L360 295.9L361 296.1L363 296.1L364 295.9L366 295.3L367 295L369 294.4L371 294.1L373 295L374 296L374.9 297L376 297.9L377 298.6L378 299.1L380 299.9L381 300.1L383 300.7L384 301L386 301.1L387 300.9L389 300.5L391 300.3L393 300.1L395 300.1L397 300.4L399 300.6L401 300.8L402 301L404 301.9L405 302.6L406 303.3L407 304.1L408.3 305L410 305.6L412 305.4L413 304.9L414.2 304L416 303.3L418 303.8L419 304.2L420.8 305L422 305.6L423 306.4L424 307.2L425 308L426 309.1L426.9 311L427 312L426.9 313L426.3 315L425.9 316L425.2 318L424.3 319L423.1 320L422.1 321L421.4 322L420.9 323L420.5 325L421 326.6L421.8 328L422.4 329L422 330.6L421 331.4L419.1 331L418 330.5L416.3 331L415 331.9L414 332.6L412.6 333L411 333L410 332.8L408 332.3L406 332.2L404 332.5L402.4 333L401 333.9L400 334.7L399 335.3L397 335.6L395 335.5L393 335.9L392 336.8L391.3 338L390.8 339L390 340.7L389 341.8L388 342.6L387 343.2L385 343.9L383 344L381 343.6L379 343.4L378.2 345L378.4 347L377 347.8L376 348.3L374.5 349L373 349.8L372 350.2L370.3 351L369.4 352L370 353.2L372 353.4L373.9 354L374.9 355L375.2 356L375 357.5L374 359L373 359.8L372 360.5L371 361.5L370.6 363L370 364.7L369 365.3L368 366L367.7 368L368 369.2L368.6 371L369.1 372L370 373.1L371 374.2L372 375.4L372.8 377L373.2 378L374 379.9L374.6 381L375 382.1L375.4 384L375.8 386L376.9 387L378 387.4L379 388.4L380 389.9L380.7 391L381.2 392L382 393.5L382.8 395L383.4 396L383.8 398L383 399.4L382 400.3L380.9 401L379.3 402L378 402.5L376 402.3L374 402.2L373 403L372.6 405L373.1 406L374 407.5L374.3 409L374.1 411L373.8 412L373 413.8L372.2 415L371.6 416L371.1 418L370.7 419L369.7 420L368 420.9L367 421.3L365.9 422L365 423.2L364.2 425L363.6 426L362.8 427L362 428.5L362 430L362.6 431L363.3 432L363.7 434L363.1 436L362.8 437L362.6 439L362.1 441L361.6 442L360.8 443L360 444.2L359.1 446L358.8 447L358 448.6L357 449.4L356 450.2L355 451.4L354.6 453L354.8 455L355.2 456L355.8 458L356 459L356.2 461L356 462.2L355.3 464L354.9 465L354 466.7L353 467.3L351 467.5L349.1 468L348 468.7L347 469.5L346 470.4L345 471.8L344.7 473L344.5 475L344.5 477L345 478.6L346 479.8L347 480.5L348 481L349.7 482L350.7 483L351.1 484L351 485.5L350.6 487L350 488.8L349.4 490L349.7 492L350.1 493L350.9 495L351.2 496L351.3 498L351 499.2L350 500.7L349 501.6L348 502.3L346.9 503L345.9 504L345 505L344 507L343.9 508L344 510L343 511.3L341 511.7L340.5 513L340.5 515L340 516.4L339.6 518L339.6 520L340.2 521L341.3 522L342.3 523L343 525L343.1 526L343.1 528L343 529.2L342.4 531L341.9 532L341 533.4L340 534.6L339 535.5L338 536.5L337 537.7L336.2 539L335.3 540L334 541L333 541.8L332.4 543L332.4 545L332.5 547L332.2 549L331.9 550L331.3 552L331 553L330.1 555L329.4 556L328.9 557L328.9 559L329.1 560L329.4 562L329.1 564L328.5 565L327.5 566L326 566.9L325 567.2L323 568L322 568.7L321 569.7L320 570.7L319 571.4L317.9 572L316.5 573L315.5 574L314.5 575L313 576L312 576.3L310 576.8L309 577.1L307.4 578L306.2 579L305 579.2L304 579L302.2 579L301 579.7L300 581L299 581.9L298 582.2L296 582.1L295 581.5L294.4 580L294.2 578L293.8 577L293 575.4L292 574.1L291 573.3L290 572.7L289 571.9L288 570.5L287.6 569L287.5 567L287.7 565L288.1 564L288.5 562L288.4 560L288.2 558L288.4 556L288.8 554L288.6 552L288.3 550L288.9 548L289.3 547L289.7 545L289.8 543L289.9 541L290 539L290.1 538L290.9 536L291.5 535L292 533.8L292.4 532L292 530.4L291.4 529L290.9 528L290.4 526L290.3 524L290 522.4L289.4 521L289.2 519L290 517.4L291 516.4L292 515.1L292.5 514L292.9 512L293 510L292.9 508L293 507L294 505.9L296 505L297 504.8L298.3 504L299.1 503L299.8 501L300.1 500L301 498L301.4 497L301.9 495L301.8 493L301.8 491L302 489.9L302.4 488L302.8 486L303 484.5L303.2 483L303.1 481L303 479.6L302.8 478L302.9 476L303 475L303.7 473L304.2 472L304.7 470L304.4 468L304.9 466L305.4 465L305.8 463L306.2 462L307 460L307.3 459L307 457.6L306 456.9L304 456.4L303 455.9L301.8 455L300.5 454L299.5 453L298.8 452L298 450.4L297.6 449L298.4 448L299.7 447L300.7 446L301.5 445L302.3 444L303 443L303.8 441L304.2 440L305 438.6L306 437.3L307 436.3L308 435.5L309 434.6L310 433.6L311 432.6L312 431.4L313 430.2L314 429L314.6 428L315.2 427L315.8 425L316.1 424L317 422.5L318 421.6L319 420L318.7 418L318.2 416L317.6 415L316.1 414L315 413.8L313.5 414L312.1 415L311.5 416L311 417.5L310.5 419L310 420L308 420.9L307 421.2L306 422L304.7 423L303 423.6L301 423.2L300 422.8L298 422.7L297 423.1L295.8 424L294.6 425L293 425.9L292 426.1L290 426.3L288.4 427L287.4 428L286.4 429L285.1 430L284 430.7L283 431.4L282 432.3L281 433.3L280 434.1L278.4 434L277 433.3L276 432.8L274 432.1L273 431.8L271 431.1L270 430.8L268.6 431L267 431.6L266 432L264 432.7L263 433.2L262 434.2L261 435.4L260 436.6L259 437.7L258 438.5L257 439.2L256 440.1L255.2 442L254.5 443L253.3 444L252.6 445L252.2 447L252.6 449L252.6 451L252 452.3L251 454L250.3 455L249.5 456L248.2 457L247.5 458L247 459.8L247 460.6L247.2 462L247.4 464L247 466L246.5 467L245.6 468L244 468.9L243 469.1L241 469.2L239 469.7L237.5 470L236 470.6L235 471.9L234.6 473L234.1 475L233.9 476L233.3 478L232.7 479L231.8 480L230.3 481L229 481.8L228 482.6L227 483.4L226 484.5L225.2 486L224.8 487L225 488.9L226 489L227.3 490L227.6 492L227 493.8L226.5 495L226.1 497L226 498L225.7 500L225 501.6L223 501.7L221.8 501L221 499.7L220.8 498L220.8 496L220 494.3L219 493.6L217.9 493L216 492.1L215 491.9L213 491.8L211 492L210 492.1L208 492.2L206 492.1L205 491.8L203 491L202 490.5L201 489.9L200 489L199 487.9L197.8 487L196 486.8L194 486.3L193 485.4L192.2 484L191.9 483L191.5 481L191.4 479L191.6 477L192 475.9L193 474L194 473L195 472.4L196 471.8L197.3 471L198.5 470L199.6 469L201 468.2L202 467.9L204 467.5L205.3 467L207 466.2L208 465.8L210 465.4L211.4 465L213 464.3L214 463.7L215 463L216.1 462L217.2 461L218.6 460L220 459.1L221 458.5L222 458L224 457.1L225 456.8L227 456.4L229 456.8L230 456L230.8 454L231.9 453L233 452.4L234.1 452L236 451.5L237.4 451L239 450L240 449.4L241 448.9L242.4 448L243.1 447L243.7 445L244 443L244.2 442L245 440.1L246 439.4L246.3 438L245 437.2L244 436.4L243 435L242.7 434L242.5 432L242.8 430L243.1 429L244 427.1L244.9 426L245.8 425L246.5 424L247 422.5L247.5 421L248.1 420L249.3 419L250.8 418L251.6 417L252.2 416L253 414.4L254 413L254.6 412L255.1 411L256 409.5L257 408L257.7 407L258.4 406L259 404.6L259.8 403L260.8 402L262 401.6L264 401.7L265 402.2L266.2 403L267.6 404L269 404.6L271 404.8L273 404.8L275 404.9L277 405L279 404.2L280 403.3L281 402.3L281.9 401L282.5 400L283.1 399L284 397.5L285 396.1L285.9 395L286.8 394L287.7 393L288.5 392L289.1 391L290 389.2L290.5 388L291 387L291.9 385L292.1 384L292.1 382L292.1 380L293 378.6L294 378L295.6 377L296.9 376L297.8 375L298.2 374L298 372L297.6 371L297 369.8L296 368L295.4 367L294.7 366L294 364.6L293.4 363L293.9 361L295 360.4L297 360.1L298.8 360L300 359.9L302 359.7L304 359.7L306 359.5L307.3 359L308.3 358L309 356.6L309.4 355L309.5 353L309 351.1L308.8 350L309 348.1L309.4 347L310.4 346L311.4 345L310 344.3L308 345L308 345L306.6 344L306 342.9L305 341.8L303 341.1L302 340.7L301 339.9L300 338.7L299.2 337L299.3 335L299.6 333L300 331.2L300.3 330L300.8 328L300.8 326L300.9 324L301 323L301.6 321L302.2 320L303 319L303.3 317L303 315L303 314L303.2 313L304 311.2L304.8 310L305.4 309L306.1 308L307 306.4L307.7 305L308 303.6L308.1 302L308.3 300L309.4 299L311 298.3L312 297.3L312.5 296L312.8 294L313.2 293L314 291.5L314.3 290L314 288.7L313.8 287L313.8 285L313.4 283L313 281.8L312.5 280L312.2 278L312 276.5L311.7 275L311 273.3L310.3 272L309.7 271L309.1 269L309.4 267L310 265.4L310.7 264L311 262.7L311.5 261L312.1 260L313.1 259L314.3 258L315.5 257L317 256.2L318 255.7L319.1 255L320.1 254L321 252.6L321.9 251L323 250L324 249.5L325.4 249L327 248.4L328 247.7L329 246.8L330 245.6L331 244L331.9 243L333 242.2L334 241.4L335 240.4L336 239.2L337 238.4L338.3 238ZM320 337.6L319 338.6L318.9 340L320 340.7L321.1 340L321 338.1L320 337.6ZM337 358.9L336 359.3L334 359.9L333 360.3L332 361.1L331.1 363L330.7 364L330 365.3L329.5 367L329.7 369L331 369.9L333 369.5L334 368.9L335 367.9L336 366.4L337 366L339 365.1L339.9 364L340.4 363L340.8 361L340 359.7L338.8 359L337 358.9ZM335 389L334.9 389L335 389.6L335.1 389L335 389ZM346 394.8L345 395L343.2 396L342.9 397L343.1 398L343.6 400L343.2 402L342.9 403L342.7 405L343.1 406L344 407L345.1 408L346 409.3L346.5 411L347 412.1L348 413.1L349.8 414L351 414.4L353 414.3L354.2 414L356 413.5L357 412.5L357.6 411L357.6 409L357.6 407L358 406L359.5 405L361 404.2L362 403.4L362.6 402L362.8 400L362 398.3L361 397.6L359.5 397L358 396.6L356.6 396L355 395.2L354 394.7L352 394.3L350 394.3L348 394.4L346 394.8ZM351 417.6L350 418.5L349 419.7L348.9 421L349.9 422L351 422.1L352 421.6L353 420.1L353.1 419L352.8 418L351 417.6ZM313 460.8L312 461.2L311 462L310 463.7L309.7 465L310.5 466L312 466.7L313 467.1L314.2 467L315.6 466L316.3 465L316.8 463L316 461.3L315 460.8L313 460.8ZM346 489.1L345.7 490L346 490.8L346.8 491L347 491L347 491L347.6 490L347 489.2L346 489.1ZM245.7 526L247 525.5L248.2 526L248.7 528L247 528.8L245.8 528L245.7 526ZM275.8 570L277 569.5L279 569.2L281 569.3L283 569.8L284 570.3L285 571.2L286 572.5L287 573.9L287.9 575L288.6 576L289.2 577L289.8 579L289.9 581L289.5 583L289 584.3L288.3 586L287.8 587L287 588.2L286 589.6L285 590.8L284 591.9L283 592.7L281.6 593L280 593.1L278.6 593L277 592.9L275 592.1L274 591.5L273 590.6L272 589.5L271 588.3L270.1 587L269.3 586L268.6 585L268 583.1L267.9 582L268 580.8L268.5 579L269 578L269.9 576L270.1 575L270.9 573L271.9 572L273 571.3L274 570.9L275.8 570ZM385.8 581L387 580.6L389 580.5L391 580.9L392 581.1L394 581.6L395 582.2L396.2 583L397.7 584L399 584.8L400 585.2L401.5 586L402.7 587L403.3 588L403.2 590L402.6 591L402.4 593L403.2 594L404.1 595L405 596.3L405.8 598L406.2 599L406.9 601L407.7 602L408.8 603L410 604L411 604.7L412 605.4L413 606.2L414 607.1L415.9 608L417 608.4L418 609.1L419 610.1L420 611.2L422 611.9L423 612.1L425 612.8L426 613.2L428 614L429 614.4L430.6 615L432 615.6L433 616.1L434 617.1L435 618.5L435.9 620L436.6 621L437.7 622L439 623L440 623.8L441 624.4L442 625L444 625.9L445 626.4L446.1 627L448 627.4L450 627L451 626.6L453 626.4L454.5 627L455.5 628L456.1 629L457 631L457.4 632L458 634L458.1 635L458 636L457 637.9L456.1 639L455.3 640L454.7 641L454 642.6L453.5 644L453 645.6L452.4 647L451.7 648L451 650L451.3 652L451 653.2L450 654.3L448 654.8L447 655.1L445.3 656L444 656.7L442 656.7L440 656.4L438 656.2L437 656L435.3 655L434 654.1L433 653.6L431.4 653L430 652.4L429 651.8L428 651L427 649.8L426 648.8L424.9 648L423.7 647L422.3 646L421 645.3L420 645L418 644.5L416 644.1L415 643.8L413 643.3L411.8 643L410 642.3L409 641.9L407 641L406 640.4L405 639.4L404 638.2L403.3 637L402.9 636L402.8 634L402.8 632L402.6 630L402 628.2L401 627.2L400 626.8L398 626.3L396 626L395 625.9L393 625.7L391 625.5L389 625.1L388 624.6L386.9 624L385.9 623L384.4 622L383.8 622L382.3 623L381.5 624L380.5 625L379 625.4L377.9 625L376.5 624L375.7 623L375 621L375 620.9L376.3 620L378 619.2L379 618.5L380 617.8L382 617.1L383 616.8L384.1 616L385 615L385 613.4L384.1 612L383.3 611L382.8 610L382 608.9L380 608.1L378 609L377 610L376.4 611L375.9 612L375.2 614L375.2 616L375 617.6L374.8 619L374 620.5L372 620.3L371 619.9L369.4 619L368 618L367.1 617L366.7 616L366.9 614L366.4 612L366 610.5L366 609L366.1 608L366.2 606L365.8 605L364.8 604L363.7 603L362.8 602L362 600.1L361.8 599L361.1 597L360 596.1L359 595.8L357.6 595L358 593L359 592.5L360.8 592L362 591.9L364 591.9L366 591.9L368 591.1L369 590.1L369.9 589L371 588L372 587.4L373 586.7L374 585.7L375 584.5L376 583.2L377 582.2L378.6 583L379.8 584L381 584L382 583.5L383 582.7L384 582L385.8 581ZM343.1 583L345 582.1L347 582.2L349 582.2L350.8 583L351.4 584L351.7 586L352 588L352.1 589L352.4 591L352.1 593L351.6 594L350 594.9L349 595L348 594.9L346 594.2L345 593.6L344 592.7L343.1 591L343.4 589L343.7 587L343 585L342.8 584L343.1 583ZM295.5 593L297 592.7L299 592.8L300 593.2L301 594L302 595.4L302.4 597L302 598.9L301.6 600L301 601.8L300.3 603L299 603.9L298 604.1L296 604.2L294 604.6L293 605L291.7 606L290.3 607L289 607.7L288 608.1L286 609L285 609.5L284 610L282 610.6L280 610.6L278 610.1L277 609.5L276 608.6L275 607.4L274.3 606L274.1 604L274.6 602L275 600.9L276 599.3L277 598.5L278 597.9L280 597L281 596.6L282.6 596L284 595.6L286 595.8L287 596.1L289 596.5L291 596.2L292 595.3L293 594.2L294 593.6L295.5 593ZM376.5 686L378 685.5L380 685.8L381 686L383 687L384 687.7L385 688.5L386.3 689L388 689.3L390 689.9L391 690.9L391.9 692L392.9 693L394 693.9L395 694.6L396 695.3L397.3 696L399 696.3L400.7 696L402 695.6L404 695.2L405.3 695L407 694.8L409 695L410 695.5L411 696.5L411.9 698L412.5 699L413 700L413.9 702L414.2 703L414.9 705L415.2 706L416 707.4L417 708.5L418 709.7L418.5 711L418.9 713L419 714.1L419.2 716L419.1 718L418.8 719L418 720.2L416.8 721L415 721.7L414 722.2L412.7 723L411 723.6L409 723.3L408 723L406 722.4L404 722.2L403 722L401.3 721L401.3 719L402 717.9L403 716.5L403.5 715L403.2 713L402 712L401 711.8L399 711.9L398 712.1L396 712.1L394.7 712L393 711.8L391 711.8L389 711.7L388 710.6L387 709.5L386 708.5L385 707.4L384 706.7L382.7 706L381 705.4L380 704.9L378.8 704L377 703.2L375 703.1L373.9 703L372.1 702L371.6 701L371.8 699L371.6 697L371 695.6L370.3 694L369.9 693L369.5 691L370.3 690L372 689.2L373 688.8L374.3 688L375.4 687L376.5 686ZM376.3 730L378 729.4L380 729.1L382 729.3L383.4 730L384.7 731L386 731.8L387 732.3L388.1 733L389.1 734L390 735.3L391 736.8L392 738L393 738.9L394 739.7L395 740.5L396 741.2L397.3 742L398.8 743L399.6 744L399.6 746L399 747.9L398.3 749L397 749.6L395 749.4L394 748.8L393 747.5L392.1 746L391 745.2L389.4 745L388 744.7L386 744L385 743.8L383 743.5L381.2 743L380 742.3L379 741.5L378 740.7L377 739.9L375.6 739L374.6 738L374 736.8L373.8 735L373.9 733L374 731.8L375 730.6L376.3 730ZM251.8 744L253 743.6L254 744.6L254.8 746L254 747.3L252 747.8L250.9 747L251 745.5L251.8 744ZM270.6 756L272 755.8L273.7 756L275 756.4L276.4 757L277.8 758L278.6 759L279.3 760L280 761L281 762.8L281.4 764L283 764.7L285 764.4L287 764.5L288 765L289.8 766L290.8 767L291.2 768L292 769.6L293 770.5L294.1 771L296 771.8L297 772.8L297.7 774L298.3 775L299.2 776L300.4 777L301.6 778L302.5 779L303.3 780L304 781.1L305 782.6L305.8 784L306.3 785L306.5 787L306 789L305.5 790L305 791L304 793L303 793.9L302 794.1L301 794L299 793.6L297 793.2L296 792.9L294 792L293.2 791L292.8 790L292.7 788L292 786.6L291 785.9L289.9 785L289 783.7L288 782L287.2 781L286 780.1L285 779.4L284 778.6L283 777.8L282 776.9L281 775.6L280 774L279.4 773L279 772L279 770.1L279.3 769L280 767.4L280.5 766L280 764.7L278 764.2L276 764.7L274.8 765L273 765.1L272 765L270 764.9L268 764.6L267 763.6L266.8 762L267.1 761L267.8 759L268.2 758L269 756.9L270.6 756ZM385.4 768L386.5 768L387.3 769L388 771L387.7 773L387 774.9L386.6 776L386.2 778L386.1 780L385.8 781L385 782.2L383 782.3L382 781.9L380.3 781L379 780.2L378 779.5L377 778L378 776L378.6 775L379.3 774L380 772.8L380.8 771L381.3 770L382.9 769L384 768.6L385.4 768ZM384.4 786L386 785.7L387 786.2L388.7 787L390 787.4L392 787.4L393.5 787L395 786.9L396 787.3L397 788.2L397.5 790L397.6 792L398 793.9L398.3 795L398.9 797L399.1 798L399 800L398.8 801L398.4 803L398.3 805L398 806.5L397.5 808L397 809L396 810.4L395 811.2L393.3 812L392 812.1L391 811.8L389.8 811L388.6 810L387.5 809L386.6 808L386 807L385.3 805L385 803.7L384.1 802L383.3 801L382.4 800L381.8 799L381.4 797L381.7 795L381.8 793L381.8 791L382 790L382.8 788L383.4 787L384.4 786ZM338.1 242L339.6 242L339 243.3L338 244.9L337 245.5L336 246.1L334.6 247L333.8 248L333.4 250L333 251.6L332.4 253L332 254.4L331.5 256L331 257.1L330 258.7L329.5 260L329 262L328.7 263L328 264.3L327 265.7L326.7 267L327.2 268L328 269.2L328.9 271L329.3 272L330 273.9L330.4 275L330.3 277L329.8 278L329 279.2L328 281L327.8 282L328 283.6L328.4 285L328.9 287L329.1 288L329.4 290L329.1 292L330 293.9L331 294.3L333 294.8L334 295L336 295.9L337 296.4L338 297L339.7 298L341 298.5L342.4 298L343.6 297L345 296.4L347 296.3L349 296.7L350 297.2L351.5 298L353 298.2L354 297.9L356 297.1L357 297L358 297.1L360 297.6L362 297.8L364 297.7L366 297.2L367 296.9L369 296.4L371 296.6L372 297.2L373 298.2L374 299.3L375 300.2L376.2 301L378 301.9L379 302.1L381 302.2L383 302.4L385 302.5L387 302.2L388 302L390 301.9L391 302.1L393 302.4L395 302.8L397 302.9L399 302.9L400 303L402 303.5L403.2 304L404.9 305L406 305.8L407 306.9L407.7 308L408.1 309L409 310.4L410 311.9L410.7 313L411.6 314L413 314.4L414 313.9L415 313L416 311.2L416.2 310L416 309L415.4 307L416.7 306L418 306L419 306.2L421 306.8L422 307.2L423.1 308L424.2 309L425 310L425.4 312L425 313.2L424 315L423.1 316L422 316.7L421 317.3L420.1 319L419.8 320L419 322L418.5 323L418 324L417 325.9L416.3 327L415.4 328L414.5 329L413.5 330L412 331L411 331.2L409.3 331L408 330.6L406 330.1L404 330.2L402 330.6L401 331L399.7 332L398.7 333L397 333.5L395.1 333L394 332.9L393 333.4L392 334.2L391 335.2L390 336.3L389 337.7L388.4 339L387.8 340L386.8 341L385 341.9L383 341.8L381 341.1L380 340.8L378 340.8L377 341.4L376 342.3L375 343.8L374.5 345L374 346.1L373 347.1L371.7 348L370 348.8L369 349.3L368 350.2L367 351.6L366.1 353L365.5 354L365 355L365.1 356L367 356.6L369 356.4L370.1 356L371.9 356L372.3 357L371 357.9L370 358.1L368 358.9L367 359.7L366.1 361L365.9 362L365.4 364L365 365.1L364.6 367L365 368L366 369.7L366.6 371L367.1 372L368 373.4L369 374.5L370 376L370.4 377L370.9 379L371 380L371.8 382L372.3 383L372.8 385L373 386.6L373.2 388L373.2 390L372 390.9L370 390.8L369 391L367.4 392L366.8 393L366.3 395L365.9 396L364 396.4L362.4 396L361 395.6L359.3 395L358 394.3L357 393.5L356 392.3L355 391.2L354 390.6L352 391L351 391.7L350 392.1L348 392.1L346 392L344 392.2L342 392.8L341 393.4L340 394.9L339.5 396L339.1 398L339 399L338 400.6L337 401.3L335.2 401L334.9 400L335.4 399L336.5 398L337.2 397L337.6 395L338 393.3L338.9 392L339.5 391L339.7 389L339 388L337.3 387L336 386.3L335 385.8L333 385.4L332 386L331 388L330.7 389L330.1 391L329.9 392L329.8 394L330 395.6L330.5 397L331 398.1L331 399.5L330.1 401L329.4 402L328.8 403L328 404.3L327.2 406L328 407.6L329 408.3L330.2 409L331.5 410L332.5 411L333.3 412L335 412.8L337 412.1L338 411.3L339 410.2L340 409L342 410L342.9 411L343.5 412L344.3 413L345.3 414L346.3 415L346.3 417L345 417.7L344.1 419L344.8 421L345.4 422L346.2 423L347.3 424L349 424.6L351 424.7L353 424.2L354 423.8L355.3 423L356 422L357 420.5L358 419.2L358.6 418L358.9 416L359 414.9L359.5 413L360 411L360.2 410L360.7 408L361.7 407L363 406.2L364 405.4L365 404.7L366 403.9L367.2 403L369 402.8L369.2 404L370 405.9L371 406.9L372 407.9L372.6 409L372.5 411L371.9 412L370.5 413L369 413.8L368.5 415L368.4 417L368 418.2L367 419.3L365.3 420L364 421L363.6 422L363 423.7L362.2 425L361.3 426L360.5 427L360 428.3L359.9 430L360.3 431L361 432L361.8 434L361.3 436L361 437.4L360.8 439L360 441L359.2 442L358.4 443L357.7 444L357 445.2L356 446.8L355 448L354 448.9L353.3 450L353 451.1L352.9 453L353 454.5L353.2 456L353 458L352.5 459L351.8 460L352 461.9L352.5 463L352 464.6L351 465.1L349 465.5L348 466.1L347 467.2L346 468.3L345 469.4L344 471L343.6 472L343 473.9L342.8 475L342.7 477L343 478.2L343.7 480L344.1 481L344.6 483L344.2 485L343.9 486L343.2 488L343.2 490L343.7 492L344.2 493L345 494L346.2 495L347 496.5L347 497.2L346 498.9L345.1 500L344.5 501L343.9 502L343 503.6L342 505L341.3 506L340.7 507L340 508L339 509.6L338.2 511L337.8 512L337.3 514L337.2 516L337.3 518L337.3 520L337.8 522L338.4 523L339.2 524L339.9 526L340 528L339.8 530L339 532L338.2 533L337.3 534L336.5 535L335.7 536L334.9 537L334 538L332.8 539L331.6 540L330.6 541L330 542L330 544L330.1 545L330 546.7L329.7 548L329 549.7L328.3 551L327.6 552L326.8 553L325.6 554L324 555L323.6 556L324 557L325 558.5L325.6 560L325.9 562L325.4 564L324.4 565L323 565.8L322 566.4L321 567.1L320 568L319 569.1L317.9 570L316.6 571L315.6 572L314.6 573L313.5 574L312 574.7L310.6 575L309 575.3L307 575.9L306 576.4L304 576.8L302.6 577L301 577.4L299.5 578L298 578.4L297 578L296 577L295 575.6L294 574L293.1 573L292 572.1L291 571.2L290.1 570L289.6 569L289.1 567L289.2 565L289.7 563L289.9 561L289.9 559L290 557.8L290.4 556L290.5 554L290.3 552L290.3 550L290.9 548L291.3 547L291.6 545L291.4 543L291.4 541L291.5 539L292 537.5L293 536.1L294 535.1L294.8 534L295.2 533L295 531L294.5 530L293.8 529L293 527.8L292.5 526L292.7 524L292.7 522L292.5 520L293 518.1L293.5 517L294.1 516L294.7 514L295 512L295.2 511L296 509.6L297 508.7L298 508L299 507L300 505.3L300.5 504L301 502L301.1 501L301.6 499L302 498L302.8 496L302.9 494L302.7 492L302.9 490L303.1 489L303.7 487L304.1 486L304.7 484L304.8 482L304.8 480L304.8 478L304.8 476L305 474.8L305.9 473L307 472.1L308 471.4L309.1 471L311 470.5L313 470.1L314 469.7L315.1 469L316.2 468L317 466.9L318 465.1L318.5 464L318.8 462L318 460.1L317.1 459L316.4 458L315.6 457L314 456.5L312 456L311.1 455L310.5 454L310 452.6L309.7 451L309.9 449L309 447.6L307 447.4L305.6 447L304.4 446L304.4 444L304.9 442L305.2 441L306 439.4L307 438.2L308 437.4L309 436.7L311 436.1L313 436.2L314 435.8L315 434.1L315.2 433L315.7 431L316.1 430L317 428.3L317.7 427L318.5 426L320 425L321 424.5L322 423.8L322.6 422L322.2 420L321.8 419L321 417L321.8 415L322.2 414L321.4 413L320 412.5L318.6 412L317 411.6L315 411.5L313 411.7L311.7 412L310 412.4L308.6 413L307.4 414L306.1 415L305 415.4L304 416.4L303 417.4L302 418.3L300.4 418L300.2 416L299.9 415L298 414.1L296.2 415L295.4 416L294.8 417L294.1 419L293.8 420L293 421.3L292 422.3L290.9 423L289 423.7L288 424.2L286.9 425L285.7 426L284 427L283 427.1L281 427.1L279 427.1L278 428L277 429.4L276 430.1L274 430.1L273 429.5L272 428.5L271 427.4L270 426.4L269 425.6L268 425L266 424.7L264.5 425L264.9 427L264.2 429L263.1 430L262 430.6L261 431.1L259 431.7L258 432.1L257 433L256 434.2L255 435L253 435.7L252 436L250 436.5L248 436.2L247 435.8L245.5 435L244.5 434L244 433L243.9 431L244.1 430L244.9 428L245.8 427L246.9 426L247.8 425L248.5 424L249 423L250 421.5L251 420.5L252 419.7L253 418.8L254 417.4L255 416L256 415.1L256.7 414L256.8 412L257 411L258 409.1L258.8 408L259.6 407L260.4 406L261.4 405L263 404.6L264.4 405L265.9 406L267 406.8L268 407.3L270 407.6L272 407.3L273 407L275 406.7L277 406.8L279 406.5L280 405.9L281 404.8L282 403.6L283 402.1L283.8 401L284.4 400L285.1 399L286 397.6L287 396.5L288 395.5L289 394.2L289.8 393L290.6 392L291.3 391L292 389.7L292.7 388L293.2 387L294 385.7L294.5 384L294.5 382L295 380.4L296 379.2L297 378.4L298 377.6L299 376.7L300 375.3L300.3 374L300.6 372L300.8 370L300.2 368L300.5 366L301.1 365L302 363.3L303 362.1L304 361.6L306 361.1L307 360.9L308.5 360L309.3 359L310 357.8L310.9 356L311.4 355L312 353.7L312.3 352L312.2 350L313 348.1L314 347.4L315 346.9L317 346.2L318 345.6L319.3 345L321 344.3L322 343.7L323 342.4L323.5 341L323.8 339L323.2 337L322.6 336L322 335L321 333L320.6 332L320 331L318.5 330L317.8 330L316.6 331L315.9 332L315.5 334L316 335L316.5 337L316 338.3L315 339.7L314 340.4L312.6 340L311.2 339L310 338L309 337.4L307 337.2L305.7 337L304.5 336L304 334.9L303 333.4L302.4 332L302.6 330L303 328.5L303.2 327L303.1 325L304 323L305 322.3L306 321.7L307 320.4L307.1 319L306.8 318L306 316.9L305 315.2L304.8 314L305.1 313L305.9 311L306.3 310L307 308.7L308 307.1L308.6 306L309 305L309.5 303L310 301.4L311 300.4L312 299.7L313 299L314 297.5L314.5 296L315 294.7L316 293.7L318 293.2L320 293.2L322 293.2L323 292.9L324.4 292L324.9 290L324 288.2L323 287.8L321 287.9L319.9 288L318 288.2L317 287.9L316 286.5L315.8 285L315.2 283L314.8 282L314 280.4L313.7 279L313.7 277L313.7 275L313 273L312.5 272L311.8 271L311 269.1L311 268.1L311.4 267L312.1 266L313 264.3L313.6 263L314.3 262L316 261.6L318 261.2L319 260.1L319.3 259L320 257.5L320.9 256L321.7 255L322.5 254L323.2 253L324.2 252L326 251L327 250.7L328.4 250L329.7 249L330.8 248L331.5 247L332 245.9L333 244.5L334 243.8L336 243.1L337 242.7L338.1 242ZM337 356L336 356.2L334.1 357L333 357.5L331.8 358L330.7 359L330 360.4L329.6 362L329 363.6L328.4 365L328 366L327.5 368L327.7 370L328.2 371L329 372L330.5 373L332 373.8L333.2 373L335 372.3L336.9 372L338 371L338.7 370L339.5 369L340.5 368L341.7 367L342.5 366L342.8 364L343.2 363L343.6 361L343 359.8L342 358.7L341 357.9L339.7 357L338 356.2L337 356ZM337 373.7L336.4 374L336 374.2L335 375L336 376L337 375.6L337.8 375L337.3 374L337 373.7ZM350 374.5L349.4 376L350 377.1L352 377.9L353.2 377L353.1 375L352 374.3L350 374.5ZM304 408.6L303 409.7L302.6 411L303 412.3L304 413.2L306 413.4L307 412L307.3 411L307 409.3L306 408.6L304 408.6ZM247.6 444L248.4 444L249.3 445L249.6 447L250 448.5L250.2 450L249.9 451L249 452.2L248 453L247 454.1L246.1 456L245.8 457L245.6 459L245.4 461L245.2 463L245 464.9L244.6 466L243.2 467L242 467.1L240 467.5L238 468L237 468L235 468.7L234.1 470L233.7 471L233.1 473L232.9 474L232.5 476L232 477.2L231 478.4L230 479.2L228.9 480L227.8 481L226.6 482L225.4 483L224.4 484L223.6 485L222.6 486L221.8 487L221 488.2L220 489.7L219 490.2L217 490.1L215 490L213 490.2L211 490.5L209 490.8L207 490.7L205 490.3L204 489.9L202.7 489L201.5 488L200.4 487L199.3 486L198 485.3L196 485.1L194.8 485L193.7 484L193 482.1L192.9 481L192.8 479L193 478L194 476.4L195.3 476L196.7 475L197.6 474L198.8 473L200 472.2L201 471.8L202.6 471L204 470.2L205 469.6L206.1 469L208 468.1L209 467.6L210.5 467L212 466.4L213 465.9L214.4 465L215.8 464L217 463L218 462.2L219 461.5L220.1 461L222 460.4L223.6 460L225 459.6L227 459.5L228.8 460L230 460.2L231 460L232 458.8L232.5 457L233 455L233.8 454L235 453.4L236 453L238 452.2L239 451.7L240.4 451L242 450.7L244 450.5L244.9 449L245.2 448L245.9 446L246.4 445L247.6 444ZM276.1 571L278 570.4L280 570.5L281.6 571L283 572L283.9 573L284.6 574L285.3 575L286 576L287 577.4L287.7 579L288 581L287.7 583L287.1 585L286.7 586L286 587.2L285 588.7L284 589.7L283 590.4L281.9 591L280 591.6L278 591.7L276 591.3L275 590.8L273.9 590L272.9 589L272 587.9L271 586.6L270 585.2L269.2 584L268.9 583L268.9 581L269.1 580L270 578L270.5 577L271 575.8L271.7 574L272.5 573L274 572L275 571.5L276.1 571ZM385.4 583L387 582.6L388.7 583L390 583.3L392 583.2L394 583.6L395 584.3L396 585.2L397.1 586L398.7 587L399.8 588L400.3 589L400 590.3L399.7 592L400 593.3L401 594.5L402 595.4L403 596.4L403.9 598L404.3 599L404.5 601L405 602.8L406 603.7L407 604.4L408 605.7L408.6 607L409.2 608L410.5 609L412 609.7L413 610.2L415 610.8L416 611.1L417.1 612L418 613.4L419 614.5L420 615.1L422 615.2L423.3 615L424.5 615L426 615.5L427 616L428.3 617L429.3 618L430.1 619L431 620.1L432 621L433.4 622L434.5 623L435.4 624L436.2 625L437.5 626L439 626.4L440.8 627L442 627.7L443 628.3L444.7 629L446 629.1L448 629.1L449.5 629L451 628.8L452.7 629L454 630L454.7 631L455.3 632L456 633.8L456.2 635L456 636L455 637.5L454 639L453.3 640L452.6 641L452 642L451 643.6L450 644.7L449 645.3L448 646.3L447.4 648L447.3 650L447 651.3L446 652.4L445 653L443.1 654L442 654.4L440 654.8L438 654.6L436.9 654L435.5 653L434 652.4L432.6 652L431 651.4L430 650.7L429 649.7L428 648.4L427 647.2L426 646L425 645.1L424 644.4L423 643.9L421 643.2L420 643L418 642.7L416 642.4L414.5 642L413 641.5L411.5 641L410 640.4L408.9 640L407 639.2L406 638.3L405 637L404.6 636L404.3 634L404.2 632L404.1 630L404 629L403.5 627L402.8 626L401 625.2L400 625L398 624.4L396 624.2L394 624.2L393 624L391 623L390.4 622L390.5 620L391 619L393 618.2L395 618.1L396 618L397.4 617L397.8 615L397 614L395 613.8L393.3 613L392 612.2L391 611.9L389 611.8L387 611.1L386 610L385.4 609L384.6 608L383.5 607L382 606.2L381 605.7L379.9 605L379 603.7L378.3 602L377.8 601L377 600L375.8 599L374 598.3L372 598.8L371.2 600L370.8 601L370 602.3L368 602.2L367 601.1L366.7 600L366.3 598L365.7 597L365.2 595L366.8 594L368 593.6L369 592.9L370.2 592L371.4 591L373 590L374 589.5L375 588.8L376 588L378 587.2L379.1 587L381 586.5L382 585.8L383 584.9L384 583.9L385.4 583ZM295 596L296 595.7L298 596L299 596.6L299.9 598L300 599L299.9 600L299 601.7L298 602.3L296 602.5L294 602.5L292 602.4L290.7 603L289.4 604L288 604.9L287 605.6L286 606.5L285 607.4L284 608.1L282 608.7L280 608.3L279 608L277 607.1L276 606L275.6 605L275.7 603L276.1 602L277 600.7L278.2 600L280 599.6L282 599.8L284 599.6L285 598.9L287 598.4L288.6 599L290 599.9L291 600.4L292 599.7L293 598.2L293.8 597L295 596ZM370.4 608L371.2 608L372.7 609L373.3 610L373 612L372 612.9L370.1 612L369.3 611L368.8 610L369 609L370.4 608ZM376.7 688L378 687.3L380 687.1L382 687.7L383 688.4L384 689.2L385.4 690L387 690.5L388.5 691L390 692L390.8 693L391.8 694L392.9 695L394 696L395 697L396 697.9L397 698.4L399 698.2L400 697.8L402 697.1L403 696.9L405 696.4L407 696.2L409 696.7L410 697.8L410.7 699L411.1 700L411.3 702L410.5 703L409 703.4L407 703.7L406 704L405 705.1L404.3 707L403.6 708L402 708.9L401 709.3L399 710L398 710.2L396 710.4L394 710.1L393 709.7L392 708.8L391 707.6L390 706.7L388.4 706L387 705.6L385.3 705L384 704.4L383 704L381.5 703L380.3 702L379 701.2L378 700.9L376 700.6L375 700L374.2 698L373.8 697L373 695.6L372.2 694L371.9 693L372 691.8L373 690.6L374 689.9L375.3 689L376.7 688ZM408.7 712L410 711.7L412 711.6L414 711.8L416 712L417 712.8L417.5 714L418 716L417.6 718L417 719L415 719.9L414 720.1L412 720.2L411 719.9L409.4 719L408.4 718L407.6 717L407 715.5L406.9 714L407.3 713L408.7 712ZM376.6 734L378 733.1L380 733.3L381.4 734L383 734.5L384.6 735L386 735.6L387 736.5L387.8 738L388.2 739L388 740.4L387 741.2L385 741.5L383 741.5L381.3 741L380 740.2L379 739.4L378 738.6L377 737.9L376 736.1L376 735.7L376.6 734ZM271.7 759L273 758.8L274.1 759L275.6 760L275.3 762L274 762.7L272 762.1L271.1 761L270.9 760L271.7 759ZM283.4 768L285 767.6L287 767.9L288 768.6L288.6 770L288 771.6L287 772.1L285 772.5L283 772.2L282 771.1L281.8 770L282.2 769L283.4 768ZM382.9 774L384 773.7L384.4 775L384.3 777L384.1 779L383 779.9L381 779.2L380.2 778L380.7 776L381.6 775L382.9 774ZM295.6 777L297 777L298 777.5L299 778.2L300.1 779L301 780.2L301.8 782L302.4 783L303.5 784L304.4 785L305 786.3L305 787.6L304.5 789L303.8 790L302.5 791L301 791.1L300 790.8L298.8 790L297.9 789L297 787.7L296 786.2L295.2 785L294.4 784L293.6 783L293.2 781L294 779.4L294.8 778L295.6 777ZM384.7 789L386 788.2L388 788.6L389 789L391 790L392 790.2L394 790.4L395 791.2L395.7 793L396 795L395.6 797L395.5 799L395.7 801L396 802.2L396.3 804L396.1 806L395.5 807L394.7 808L393.4 809L392 809.4L391 809L389.7 808L388.8 807L388 805L388 804L387.7 802L387 800.8L386 799L385.6 798L385 796L384.7 795L384 793L383.9 792L384 790.5L384.7 789ZM326.3 254L328 253.6L328.6 255L328 256.1L327 257L325.9 257L325.4 255L326.3 254ZM315.8 266L317 265.9L318 266.5L318.6 268L319 269L321 269.6L323 269.1L325 269.1L326.6 270L327.3 271L327.8 273L328 274L328.3 276L328 277.5L327.4 279L326.9 280L326.1 282L325.8 283L325 284.5L324 285.2L322 285.7L320 285.5L319 285L318 284L317 282.3L316.4 281L315.8 280L315.4 278L315.7 276L316 274L316 273L316 272L315.5 270L314.9 269L314.8 267L315.8 266ZM324.9 296L326 295.7L328 296L329 296.2L331 296.4L333 297L334 297.4L335.6 298L337 298.4L338.1 299L339.6 300L341 300.9L342 301.1L343 300.9L344.5 300L346 299.2L347 298.9L348 299L350 300L351 300.5L353 301L354.8 300L356 299.1L357 298.8L359 298.9L360 299.1L362 299.2L364 299.3L366 299.3L367.8 299L369 299L370 299.2L371.3 300L372.6 301L374 302L375 302.7L376 303.3L377.7 304L379 304.1L380 304L382 303.9L384 303.8L386 303.7L388 303.6L390 303.7L392 303.9L393.1 304L395 304.2L397 304.5L398.5 305L400 305.8L401 306.4L403 306.9L404 307.3L405 308.3L406 310L406.8 311L407.9 312L408.8 313L409.3 314L410 316L410.2 317L410.4 319L411 321L412 321.2L413 320.2L413.4 319L414 317.4L415 316.6L416.9 317L417.1 318L417.3 320L417 321L416 322.3L415 323.4L414 324.4L413 325.1L411.6 326L410.6 327L409 327.6L407 327.2L405 327.1L403 327.9L402 328.4L400.7 329L399 329.6L397 329.6L395 329.1L393.2 330L392.5 331L391.8 332L391 333L390 334.1L389 335.1L388 336.1L387 337.6L386.1 339L385 339.9L384 340.1L383 340L381 339.2L380 338.8L378 338.9L377 339.3L376 340L374.7 341L373.6 342L372.6 343L371.9 344L371 345.1L370 346L368.7 347L367.7 348L366.8 349L366 350.2L365 351.7L364 352.9L363.1 354L362.3 355L361.7 356L361.5 358L362.2 359L363 360.1L363.4 362L363 363.3L362 364.6L361.3 366L361.7 368L362.6 369L363.7 370L364.4 371L365 372.5L366 374L367 374.9L367.9 376L368.3 377L368.5 379L368.4 381L368.4 383L368.4 385L368.3 387L368 388L367 389.2L366 390.2L365 391.7L364.3 393L363.2 394L362.3 394L361 393.5L360 392.8L359 391.9L358 390.8L357 389.7L356 388.9L354 388.1L353 387.8L351 387.5L349 387.6L347 387.8L345 387.7L343 387.3L342 386.8L340.4 386L339 385.3L338 384.5L337.5 383L337.2 381L338 379.5L339 378.7L340 377.9L341 377L342 375.8L342.8 374L343 372.6L344.4 373L344.4 375L344.8 377L345.3 378L346.2 379L348 379.9L349 380.3L350.3 381L352 381.7L353.6 381L354.8 380L355.8 379L357 378.1L358 377.4L358.6 376L357.6 375L356 374L355 373.2L354 372.4L353 371.8L351.6 371L350.2 370L349.4 369L349 367.2L348.9 366L348.7 364L348.9 362L348 360.3L347 359.6L346 358.9L344.5 358L343 357.1L342 356.5L341 355.9L339.5 355L338 354.4L336 354L334 354.6L333 355.2L331.9 356L330.6 357L329.6 358L328.9 359L328.1 361L327.9 362L327 363.9L326.4 365L326 366L325.7 368L325.6 370L325.8 372L326 373.1L326.4 375L326.5 377L327 378.9L327.8 380L328.9 381L329.7 382L329.5 384L329.4 386L329 388L328.5 389L327.9 390L327 391.4L326.4 393L326.5 395L326.6 397L326 398.7L325.4 400L325.4 402L325.1 404L324.8 405L324.1 407L323.9 408L323 409.5L322 410L320.4 410L319 409.5L317.9 409L316 408.3L315 407.9L313.4 407L312 406.3L311 406L309.5 406L308 406.2L306 406.2L304 406.1L302.6 407L301.6 408L300.6 409L299.4 410L298 410.8L297 411.3L296 412L295 413.1L294 414.6L293.2 416L292.6 417L291.8 418L290.3 419L289 419.6L288 420.1L286.2 421L285.2 422L284.7 423L283.8 424L282 424.2L281 423.9L279 423.1L278 422.9L277 423L275 423.6L273 423.6L271.7 423L270.6 422L270 420.9L269 419.4L267 419.4L265.7 420L264 420.2L262.8 420L261.7 419L261.9 417L261.4 415L260.4 414L259.5 413L259.2 411L260 409.5L261 408.7L263 408.2L264.3 409L265.2 410L266.2 411L267.6 411L269 410.1L270 409.8L272 409.3L273 409L275 408.4L277 408.4L279 408.3L280 408L281.5 407L282.3 406L283 405L284 403.5L285 402.1L285.9 401L286.7 400L287.4 399L288.2 398L289 397L290 395.3L290.8 394L291.7 393L292.6 392L293.3 391L294 389.4L294.6 388L295.2 387L296 385.9L296.8 384L297 382.5L297.6 381L298.5 380L299.7 379L300.9 378L301.7 377L302.2 376L302.3 374L302.9 372L303.3 371L303.5 369L303.1 367L303.5 365L304.2 364L305.8 363L307 362.7L308.5 362L309.5 361L310.3 360L311 358.7L311.9 357L312.5 356L313.1 355L313.9 353L314.3 352L315 350L316 349L317 348.5L318.1 348L320 347L321 346.5L322 346L323.3 345L324 344L324.7 342L325 341L325.3 339L325 337L324.5 336L323.9 335L323.2 333L322.9 332L322 330.2L321.1 329L320.3 328L319.3 327L318 326.4L316.6 327L315.6 328L314.7 329L313.9 330L312.8 331L311 331.5L309 331.5L307 331.9L305.1 331L304.9 330L305.1 329L305.5 327L306 325.4L307 324.4L308 323.7L309 322.1L309.4 321L309.7 319L309.2 317L308.5 316L307.9 315L307.6 313L307.8 311L308 309.9L309 308L309.6 307L310.1 306L310.7 304L311.1 303L312 301.7L313 301L314.5 300L315.7 299L316.8 298L318 297.4L320 297.5L322 297.3L323 297L324.9 296ZM419.6 310L421 309.7L422 310.4L422.2 312L421.4 313L420 313.6L418.6 313L419 311L419.6 310ZM365.9 408L367 407.5L368.9 408L370 408.8L370.3 410L369 410.4L367.8 410L366.4 409L365.9 408ZM362.5 414L364 414L365 414.5L365.8 416L365 417.3L363 417.8L361.7 417L361.6 415L362.5 414ZM336.9 415L338 414.5L340 414.7L340.6 416L340.3 418L341 419.7L341.8 421L342.5 422L343.1 423L344 424.5L345 425.5L346 426.1L348 426.6L350 426.8L352 426.6L354 426.3L356 426.5L357 427L357.9 429L358 430.1L358.6 432L359 433L359.4 435L359 437L358.8 438L358 439.8L357.2 441L356.5 442L355.7 443L354.9 444L354 445.3L353 446.7L352 448L351.5 449L351.2 451L351.3 453L351.2 455L351 456.2L350.2 458L349.5 459L348.8 460L348 461.5L347 462.9L346.4 464L345.9 465L345 466.9L344.4 468L343.8 469L343 470.4L342.3 472L341.8 473L341 475L340.9 476L341 477L341.5 479L341.8 481L341.8 483L341.7 485L341.6 487L341.6 489L341.8 491L342 492.1L342.8 494L343.4 495L344 496.6L344 497.3L343.3 499L342.6 500L342 501L341 502.5L340 503.7L339 504.2L338 505.8L337.8 507L337 509L336.3 510L335.6 511L335 512.5L334.9 514L335 515.2L335.2 517L335.1 519L334.9 520L334.2 522L333.9 523L334 524.6L334.5 526L334.8 528L334.8 530L335 532L334.5 534L334 535L333 536.5L332 537.7L331 538.6L330 539.5L329 540.4L328 541.7L327.7 543L328 545L327.7 547L327 548.6L326.2 550L325.5 551L324.2 552L323 552.5L321 552.9L320 553.1L318.3 554L318.8 556L319.1 557L320 558.6L321.6 559L323 559.9L323.5 561L323.1 563L322 563.8L321 564.1L319.8 565L319 566.1L318 567.4L317 568.3L316 569.2L315 570.3L314 571.5L313 572.4L311.9 573L310 573.4L308 573.9L307 574.2L305 575L304 575.3L302 575.7L300.7 576L299 576.3L297.7 576L296.5 575L295.7 574L294.9 573L293.9 572L292.7 571L291.6 570L290.9 569L290.3 567L290.4 565L290.8 563L291 562L291.3 560L292 558.5L292.7 557L292.6 555L292.1 553L291.9 552L292 550.4L292.5 549L293 547.8L293.7 546L293.7 544L293.3 542L293.3 540L294 538.3L294.9 537L295.7 536L296.4 535L297 533.6L297.2 532L297 530L296.8 529L296.4 527L296 525.9L295.4 524L295 522.4L294.7 521L294.7 519L295 518L296 516.3L296.7 515L297 514L297.4 512L298 510.9L299 509.7L300 508.4L300.7 507L301.1 506L301.8 504L302 502.6L302.1 501L302.5 499L303 497.9L303.7 496L303.9 494L303.7 492L303.8 490L304.1 489L305 487L305.5 486L306 485L306.4 483L306.5 481L306.7 479L306.9 477L307.1 476L308 474.2L309 473.5L310.4 473L312 472.6L313.6 472L315 471.1L316 470.3L317 469.4L318 468.3L318.8 467L319.3 466L320 464.5L320.6 463L320.8 461L320 459.5L319 458.1L318.6 457L318.7 455L319.4 454L320.4 453L321.3 452L322 451L322.3 449L322 447.4L321.5 446L321 445L320 443.9L318.7 443L317 442.4L315 442.1L314 441.9L312.9 442L311.5 443L310.3 444L309 444.5L307 444.3L306.4 443L306.9 441L307.6 440L309 439.1L310 438.9L311 439.2L313 439.7L314.8 439L316 438.4L317 437.7L317.8 436L317.9 434L318 432.7L318.2 431L318.8 429L319.4 428L320.5 427L322 426.3L323 425.8L324.4 425L325.3 424L325.3 422L325.2 420L326 418.1L327 417L328 416L329 415.2L330.4 416L332 416.8L334 416.5L335.1 416L336.9 415ZM253.8 421L255 420.5L257 420.8L257.9 422L258.3 423L259 424.9L259.6 426L260.2 427L260 428.4L258.8 429L257 429.6L256 430.7L255 432L254 432.8L253 433.1L251 433.6L249.7 434L248 434.2L247 433.9L245.9 433L245.5 431L246 429.2L246.9 428L248 427L249 426L250 425L250.9 424L251.7 423L252.5 422L253.8 421ZM332 423.7L331.3 425L330.8 426L330 427.8L329.9 429L330 431L330.2 432L331 433.1L332 432.8L333 431.9L334 430.4L335 429.2L336 428.1L336.7 427L336 425.2L335 424.5L334 423.9L332 423.7ZM240.1 453L241.5 453L243 453.8L243.9 455L244.2 456L244.3 458L244.1 460L243.9 461L243.1 463L242.6 464L241.2 465L240 465.3L238 465.3L236.6 465L235 465L234 466L233.5 467L233 468.3L232.6 470L232 472L231.7 473L231.2 475L230.6 476L229.9 477L228.9 478L228 479L227 480.1L226 481L224.8 482L223.5 483L222.1 484L221 484.5L219 485L218 485.7L217 486.8L216 487.7L215 488.1L213 488.5L211.7 489L210 489.4L208 489.4L206.1 489L205 488.5L204 488L202.7 487L201.6 486L200.4 485L199 484L198 483.3L197 482.5L196.5 481L197.2 480L198 478L198.3 477L199 475.6L200 474.5L201 474L203 473.3L204 473L205.9 472L207 471.2L208 470.4L209 469.7L210.1 469L212 468L213 467.5L214 466.9L215.3 466L216.7 465L218 464.1L219 463.5L221 463.1L223 463.1L224 462.9L226 462.3L228 462.3L230 463L231 463.3L233 463.5L234.5 463L234.5 461L234.2 459L234.6 457L235 456L236 455L237.8 454L239 453.4L240.1 453ZM318 559.9L318 560L318 560.3L318.1 560L318 559.9ZM276.5 572L278 571.6L280 571.8L281 572.2L282 573L283 574.1L284 575.6L284.7 577L285.2 578L286 580L286.3 581L286.3 583L286 584.4L285.4 586L284.9 587L284 588.1L283 589L281.4 590L280 590.5L278 590.8L276 590.3L275 589.6L274 588.6L273 587.4L272 586.2L271 585L270.3 584L269.9 583L269.8 581L270 580L270.9 578L271.5 577L272 576L273 574.4L274 573.5L275 572.8L276.5 572ZM384.8 585L386 584.4L388 584.8L389 585.2L391 585.3L393 585.3L394.1 586L395 587L396 588L397 589L397.6 591L397.8 593L398.1 594L399 595.4L400 596.1L401.2 597L402 598L402.5 600L402.2 602L401.9 603L401 604.6L400 605.7L399 607L398.4 608L397.4 609L396 609.7L394 609.6L392.2 609L391 608.3L390 607.5L389 606.8L387.2 606L386 605.5L384.9 605L383.4 604L382.6 603L382 601.7L381 600.2L380 599.6L379 599L377.3 598L376 597L375 596.1L374.2 595L375 593L376 592.3L377 591.4L378 590.5L379 589.7L380.6 589L382 588.1L383 587L383.8 586L384.8 585ZM278 602L279 601.6L280.6 602L281.5 603L281.6 605L280.2 606L279 606L278 605.6L277 604.5L277 603.5L278 602ZM403.8 609L405 608.3L406.5 609L408 609.9L409 610.4L410.1 611L411.5 612L412.6 613L413.8 614L415 614.8L416 615.4L417 616L418.8 617L420 617.5L421.6 618L423 618.4L424.1 619L424.9 621L425.5 622L427 622.8L428 623L430 623.5L431.5 624L433 625L433.7 626L434.4 627L435.3 628L437 628.6L439 628.9L440 629.3L441.2 630L442.9 631L444 631.3L446 631.3L447 631L449 630.7L451 630.9L452 631.5L453 632.7L453.5 634L453.4 636L453 637.2L452 638.9L451 639.7L450 640.3L448.7 641L447.7 642L447 643.1L446 645L445.6 646L445 648L444.7 649L444 650.2L442.9 651L441.1 652L440 652.4L438.4 652L437.3 651L436 650.1L435 649.8L433 649.4L432 648.7L431.3 647L430.7 646L430 644.7L429.1 643L429 642L429.4 641L430.3 640L431 638.9L431.9 637L432.3 636L432.2 634L431.8 633L430 632.3L428 632.2L427.2 631L426.6 630L425 629.3L424 631L423.9 632L423.9 634L424.1 635L424.1 637L423.8 638L423 639.9L422 640.5L420 641L419 641.1L417.2 641L416 640.6L414.8 640L413.4 639L412 638.5L410 638.1L409 637.9L407.5 637L406.7 636L406.1 634L406 633L405.8 631L405.8 629L405.6 627L405.1 625L404.4 624L403 623.3L401 623.1L400 622.7L398.8 622L398.8 620L399.5 619L400.2 618L401 616.6L402 615L402.6 614L403.1 613L403.5 611L403.8 609ZM378.3 689L380 688.7L381.3 689L382.6 690L384 691L385 691.4L386.8 692L388 692.6L389 693.3L390 694.5L391 695.6L392 696.8L392.9 698L393.6 699L394.3 700L395 701L397 701.7L398.1 701L399.7 700L401 699.3L402 698.9L404 698.6L406 698.1L407 697.8L408 698L409 699L409 701L408 701.2L406 701.1L404.1 702L403 702.9L402 703.8L401 704.8L400.1 706L399.2 707L398 707.7L397 708L395.4 708L394 707.1L393.4 706L392.7 705L391.1 704L390 703.6L388 703.5L386 703.3L385 702.9L383.7 702L382.8 701L381.8 700L380 699L379 698.6L377 698.1L376 697.1L375.3 696L374.6 695L374 693.8L374 692.2L375 691L376 690.4L377 689.7L378.3 689ZM412 716L413 715.5L415 715.6L415.4 717L414 717.7L412.4 717L412 716ZM381.2 738L382 737.3L383 737.4L384 737.9L384.1 738L384 738.6L383.9 739L383 739.2L382 739L382 739L381.2 738ZM300.8 787L301 786.8L302 786.7L302.4 787L302.4 788L302 788.3L301 788.1L300.9 788L300.8 787ZM387.8 792L388 792L388 792L388.1 793L388 793.1L387.9 793L387.8 792ZM391.9 803L392 802.9L392.3 803L393 803.4L393.2 804L393 804.6L392 804.6L391.7 804L391.9 803ZM321.7 272L323 271.5L325 271.4L326 272.9L326.1 274L326.3 276L326.1 278L325.7 279L325 280.7L324.2 282L323.3 283L322 283.5L320.3 283L319.3 282L318.7 281L318 279.8L317.5 278L317.7 276L318 275L319 273.6L320 272.8L321.7 272ZM323.8 299L325 298.5L327 298L329 298.2L331 298.4L332.4 299L334 299.8L336 300L337 300.1L338.6 301L340 302L341 302.5L343 302.7L345 302.1L346 301.8L348 301.6L349.7 302L351 302.4L353 302.6L355 302L356 301.3L357 300.7L359 300.4L361 300.3L363 300.6L364.5 301L366 301.3L368 301.3L370 301.7L371 302.1L372.6 303L374 304L375 304.9L376 305.7L377 306L378 305.9L380 305.4L382 305.2L384 305.1L386 305.1L388 305.4L390 305.4L392 305.2L394 305.3L396 305.6L397 306.1L398.2 307L399 308L400 309.1L401.8 310L403 310.3L404.2 311L405.5 312L406.7 313L407.4 314L407.9 316L407.9 318L407.7 320L407 321.9L406.4 323L405.4 324L404 324.8L403 325.4L402 326L400.4 327L399 327.5L397 327.5L395 327.1L393 327.8L392.1 329L391.5 330L390.9 331L390 332.2L389 333.3L388 334.2L387 335.2L386 336.3L385 337.4L383.5 338L383 338L381 337.4L379.1 337L378.9 337L377 337.4L375.8 338L374.3 339L373 339.9L372 340.6L371 341.6L370 342.8L369 344L368 345L367.2 346L366.4 347L365.7 348L365 349.1L364 350.7L363 352L362 353L361 353.9L360 354.6L359 355.3L358 356.4L357 357.3L355.8 358L354 358.7L352 358.9L350 358.4L349 357.9L347.3 357L346 356.4L345 356L343 355.1L342 354.6L340.7 354L339 353.4L338 353L336 352.4L334 352.1L332 352.2L331 353.5L330.4 355L329.7 356L328.9 357L328 358.1L327 359.3L326 360.6L325.2 362L324.8 363L324 364.7L323.6 366L323.4 368L323.2 370L323 372L323.1 374L323.3 376L323.7 378L324 379L325 380.5L326 381.7L326.9 383L327.3 384L327.4 386L327 387.8L326.3 389L325.7 390L325 391.5L324.6 393L324.3 395L324 396L323 397L321.8 397L320 396L319 395.8L317 396L316 396.3L314 396.4L312.5 396L311 395.2L309.1 396L308.7 397L308.1 399L307.8 400L307.3 402L306 402.9L304 402.7L303 403.1L302 404.4L301.1 406L300.2 407L299 407.8L298 408.2L296 408.9L295 409.8L294.2 411L293.5 412L292.7 413L291.7 414L290.7 415L289.5 416L288 416.6L286.7 417L285 417.3L283 417.2L282 416.8L280 416.2L278 416.8L277 418L276.1 419L275 419.8L274 420L273 419.7L272 418.1L271.6 417L271.4 415L271.7 413L272.6 412L274 411.1L275 410.6L277 410.1L278.1 410L280 409.8L282 409.4L283 408.7L284 407.1L284.7 406L285.5 405L286.7 404L288 403.1L288.8 402L289.1 401L289.7 399L290.1 398L291 396.1L291.6 395L292.5 394L293.5 393L294.4 392L295 390.9L295.9 389L296.6 388L297.4 387L298.1 386L299 384.4L299.8 383L300.5 382L301.3 381L302 380L303 378.7L304 377L304.3 376L304.7 374L305 373L305.6 371L305.7 369L305.6 367L306 365.7L307 364.9L308.6 364L309.8 363L310.7 362L311.4 361L312 359.8L312.9 358L313.4 357L314 356L315 354.4L315.8 353L316.3 352L317.1 351L318.6 350L320 349.4L321 348.9L322.2 348L323.5 347L324.5 346L325.1 345L325.7 343L326 341.7L326.4 340L326.7 338L326.4 336L325.9 335L325 333L324.7 332L324 330.4L323.2 329L322.5 328L322 327L321 325.5L320 324.2L319 323.4L317 323.5L316 324L314 324.7L312 324.2L311.6 323L312 321.5L313 320.3L313.9 319L314 318L313.6 317L313 315.9L312.1 314L312.1 312L311.9 311L311.5 309L311.8 307L312 305.8L312.6 304L313.2 303L314.6 302L316 301.3L317 300.9L319 300.2L320 299.9L322 299.4L323.8 299ZM352.9 365L354 364.8L355.2 365L357 365.8L357.8 367L358.1 368L358.5 370L358 371.2L356.3 371L355 370.3L354 369.7L353 369L352 367.2L352 366.2L352.9 365ZM364.2 378L365 377.3L365.2 378L365 378.2L364.2 378ZM360.6 385L361.1 385L362.2 386L363 387.6L363 388.5L362 389.7L360.3 389L359.3 388L358.7 387L359 385.5L360.6 385ZM317.7 402L319 401.2L320.1 402L320.6 404L320 405.2L318 405.3L317 404.4L317 403.1L317.7 402ZM334.8 419L336 418.5L337.3 419L338 420.2L338 421.6L337 422.1L336 421.9L334.7 421L334.8 419ZM253.8 426L254.1 426L254.6 428L254 430L253 430.8L252 431L251 430.8L249.8 430L250 428.2L251 427.1L252 426.5L253.8 426ZM323.3 428L325 427.5L326.3 428L327 429.1L327 430.4L326 431.5L324 431.3L323 430.7L322.2 429L323.3 428ZM342.4 428L344 428L345 428.2L347 428.4L349 428.7L351 428.9L352 429.1L354 429.2L355.2 430L356 431.3L356.5 433L356.5 435L356 437L355.9 438L355.5 440L354.9 441L353.8 442L352.4 443L351.6 444L351 445.3L350.4 447L350 448L349.6 450L349.7 452L349.5 454L349 456L348.6 457L348 458.2L347 459.6L346 461L345.4 462L344.9 463L344 464.9L343.5 466L343 467.2L342.3 469L341.9 470L341 471.7L340 473L339.2 474L338.8 475L339 476.4L339.4 478L339.8 480L339.9 482L339.9 484L339.9 486L339.9 488L340 489.4L340.1 491L340.5 493L341 494.3L341.8 496L341.6 498L340.8 499L339 500L338 500.3L336 500.9L335 501.6L334.1 503L333.8 504L333.5 506L333.7 508L333.3 510L333 511.1L332.9 513L333.2 514L333.5 516L333.3 518L333 519L332 520.8L331.6 522L331.5 524L331.8 526L331.8 528L331.7 530L332 531.6L332.3 533L332 534.6L331.4 536L330.7 537L329.7 538L328.4 539L327.3 540L326.5 541L326 542L325.4 544L325 545.4L324.3 547L323.9 548L323 549.5L322 550.2L320 550.7L318 550.8L316.5 551L315.1 552L314.8 553L315 554.4L315.6 556L315.6 558L315 559.6L314.8 561L315 562L315.9 564L316.2 565L316 566L315 567.1L314 568.2L313 569.5L312 570.5L310.8 571L309 571.5L307.9 572L306 573L305 573.4L303.3 574L302 574.3L300 574.6L298 574L297 573.2L296 572.2L295 571.3L294 570.5L293 569.6L292 568.3L291.6 567L291.8 565L292.2 564L292.8 562L293 561L294 559L294.4 558L294.5 556L294.2 554L293.9 553L293.8 551L294.1 550L295 548L295.5 547L296 545.2L296 544.4L295.7 543L295.4 541L296 539L296.5 538L297.1 537L298 535.3L298.5 534L299 532.6L299.5 531L300 529.8L300.5 528L300 526.3L299.1 525L298.1 524L297.4 523L296.9 522L296.6 520L297 518.6L298 517.2L298.9 516L299.1 515L299.2 513L300 511L300.6 510L301.2 509L302 507L302.3 506L302.8 504L303 502.6L303.1 501L303.5 499L304 497.8L304.7 496L304.9 494L304.6 492L304.8 490L305.2 489L306 487.7L307 486.4L307.9 485L308.3 484L308.5 482L308.9 480L309.2 479L309.7 477L310.1 476L311.5 475L313 474.4L314 473.9L315.3 473L316.7 472L318 471.1L319 470.5L320 469.5L320.9 468L321.3 467L321.7 465L322 463.7L322.5 462L322.5 460L322 458.8L321 457.3L320.8 456L321.3 455L322 454L323 452.8L324 451.5L324.8 450L325 449L326 447L326.6 446L327.1 445L327 443.6L326 442.3L325 441.4L323 441.1L322.3 440L323.7 440L325 440.9L326 441L328 441.3L330 441.7L332 441.3L333 440.6L333.1 439L333 438L333.1 437L333.8 435L334.3 434L335 432.7L336 431.5L337 430.9L338.9 430L340 429.3L341 428.6L342.4 428ZM238.7 456L240 455.3L242 455.9L242.6 457L242.8 459L242 461L241 462L240 462.1L239 461.5L238 460L237.6 459L237.8 457L238.7 456ZM223.7 465L225 464.9L227 465L228 465.2L229.9 466L230.9 467L231.2 468L231.1 470L230.9 471L230.3 473L229.8 474L229 475.1L228 476.3L227 477.7L226 479L225 480L224 480.8L223 481.5L221.3 482L220 482L219.8 482L218 482.3L216.8 483L215.9 484L214.8 485L213 486L212 486.3L210 487L209 487.1L207.3 487L206 486.7L204.6 486L203.3 485L202 484.1L201 483.3L200 482.1L199.7 481L199.7 479L200 477.4L200.8 476L202 475.3L203 475L205 474.4L206.1 474L207.7 473L208.9 472L209.9 471L211 470.2L212 469.6L213.3 469L214.8 468L216 467L217 466.3L218 465.7L220 465.1L222 465.1L223.7 465ZM275.5 574L277 573.3L279 573.1L281 574L282 574.9L282.8 576L283.3 577L284 578.9L284.5 580L284.9 582L284.7 584L284 585.8L283.3 587L282.5 588L281.2 589L280 589.5L278 589.9L276.1 589L275 588L274 587L273 586L272.1 585L271.4 584L270.9 583L270.6 581L271 579.7L271.8 578L272.5 577L273.2 576L274.1 575L275.5 574ZM384.9 587L386 586.3L388 586.9L389 587.4L391 587.6L392.7 588L394 589L394.9 590L395.4 591L395.8 593L395.6 595L395.8 597L396.3 598L397 599.5L397.8 601L398.1 602L397.9 603L397 604.1L395.7 605L394 605.6L392 605L391 604.3L390 603.4L389 602.6L388 602L386.7 601L385.5 600L384.2 599L383 598.2L382 597.7L380 597.3L378.9 597L377.7 596L377.9 594L378.9 593L380 592L381 591.4L382 590.8L383.1 590L384 588.5L384.9 587ZM405.6 614L407 613.3L408.4 614L409.4 615L410.2 616L411 617.1L412 618.3L414 618.5L416 618.4L417.9 619L419 619.6L420 620.4L420.8 622L421 623L421.7 625L422 626.3L422.1 628L422 629L421.1 631L420 631.8L419 632.2L418.1 634L418.9 636L419.2 637L419 638L417 638.4L416 637.4L415 636.5L413.2 636L412 635.9L410 635.3L409 634.2L408.6 633L408.3 631L408.3 629L408 627.2L407.7 626L407.4 624L407 622.1L406.1 621L405 620L404.3 619L404 617.5L404 616.9L404.7 615L405.6 614ZM437 632L439 631.8L440 632.1L442 632.8L443 633.1L445 633.9L446 634.7L446.7 636L447 637.8L447 638L446.4 640L445.9 641L445 642.9L444.4 644L443.9 645L443 646.6L442 648L441 648.7L439 648.7L437.4 648L436 647.3L435 646.5L434 645.4L433.4 644L433.8 642L434.4 641L435.7 640L437 639.4L438 638.5L438.1 637L437.4 636L436.5 635L436.1 633L437 632ZM385.1 695L387 694.6L388 695.4L389 696.8L389.4 698L389.2 700L388 700.8L386.3 700L385.9 699L385.4 697L385.1 695ZM321.6 275L323 274.7L324 275.9L324.1 277L324 278L323 279.6L321 279.2L320.3 278L320.6 276L321.6 275ZM324.4 301L326 300.6L328 300.4L329.9 301L331 301.6L332 302.2L334 302.6L336 302.1L338 302.5L339 303L341 303.9L342 304.1L344 304L345 303.8L347 303.5L349 303.5L351 303.9L353 303.9L355 303.4L356 303L358 302.1L359 301.8L361 301.6L363 302L364 302.4L365.3 303L367 303.4L369 303.7L370.2 304L372 304.8L373 305.5L374 306.4L375 307L377 307.4L378.9 307L380 306.7L382 306.4L384 306.3L386 306.7L387 307L389 307.2L390 307L392 306.6L394 306.5L395.9 307L397 307.8L397.9 309L398.7 310L399.9 311L401 311.6L402 312L403.8 313L404.9 314L405.5 315L405.7 317L405.6 319L405 320.9L404.3 322L403.3 323L402 323.9L401 324.5L400 325L398 325.6L396 325.4L394 325.3L392.8 326L391.9 327L391 328.5L390.1 330L389.3 331L388.4 332L387.3 333L386.2 334L385 335L384 335.7L382 335.9L380 335.5L378 335.3L376 335.9L375 336.3L373.8 337L372.2 338L371 338.9L370 339.9L369 341L368.2 342L367.4 343L366.7 344L366 345.1L365 346.7L364.2 348L363.5 349L362.9 350L362 351.1L361 352.1L359.4 353L358 353.6L357 354L355 355L354 355.5L352 355.9L350 355.1L349 354.4L348 353.9L346 353.9L344 353.6L342.1 353L341 352.7L339 352.1L338 351.8L336.1 351L335 350.6L333.3 350L332 349.5L330 349.6L329.1 351L328.9 352L328.8 354L328.1 356L327.2 357L326 358L325 358.4L323 358.9L322 359.7L321.8 361L321.6 363L321.1 365L320.9 366L320.9 368L320.6 370L320 371.6L319.5 373L319 375L318.8 376L318 377.5L317.3 379L318 380.1L319 381.3L320 382.4L321 383.1L323 383.6L324.1 384L324.9 386L324.4 388L324 389.1L323.3 391L322.9 392L322 393.3L320 393.3L318 393.2L316 393.3L314.3 393L314 392L313 390.3L311 390.6L310 391.4L309 392.1L307.8 393L306.9 394L306.2 396L306 397.1L305 399L304 399.6L303 400L301.4 401L300.5 402L300 403L299 404.8L298 405.2L296.2 405L296 405L294.3 406L293.5 407L293 408.5L292.4 410L291.6 411L290 411.8L289 412L287 412.4L286.7 411L287 410L288 408.7L289 407.7L290 406.7L291 405.1L291.2 404L291.2 402L291.2 400L291.7 398L292 397L293 395.6L294 394.7L295 393.7L296 392.3L296.7 391L297.4 390L298.2 389L299 387.9L300 386.1L300.7 385L301.4 384L302.2 383L303 381.9L304 380.3L304.9 379L305.5 378L306 377L307 375L307.6 374L307.9 372L307.8 370L307.9 368L308.2 367L309 366L310.1 365L311.3 364L312.4 363L313.1 362L313.9 360L314.3 359L315 357.6L316 356.4L317 355.3L317.8 354L318.4 353L319.5 352L321 351.4L322 350.8L323 350L324 348.9L325 348L326.1 347L326.8 345L326.9 343L327 342L327.5 340L327.8 338L328 336L327.5 334L326.9 333L326 331.2L325.4 330L324.9 329L324 327.1L323.5 326L322.8 325L322 324L321 322.7L320 321.3L319 320.3L318 319.7L317 318.9L316.1 317L315.6 316L315 314.4L314.8 313L314.6 311L314.5 309L314.4 307L314.8 305L315.9 304L317 303.5L318.1 303L319.8 302L321 301.4L323 301.1L324.4 301ZM285 413L285 413L286 412.8L286.1 413L286 413L285 413L285 413ZM346.4 431L348 430.8L350 430.9L351 431.2L352.5 432L353.4 433L353.6 435L353.5 437L353.7 439L353 440.4L352 441.2L350.6 442L349.7 443L349.2 445L348.9 446L348.3 448L348.1 450L348.1 452L348 453.2L347.5 455L347 456.4L346.2 458L345.7 459L345 460.1L344 461.9L343.4 463L342.9 464L342 465.9L341.5 467L341 468.5L340.2 470L339.2 471L338 471.8L337 472.4L336 474L335.9 475L336.2 476L337 477.4L337.7 479L338 480.1L338.3 482L338.3 484L338.1 486L338 487.2L337.9 489L337.9 491L338 492L338.8 494L339.2 495L339.2 497L338.1 498L337 498.4L335.3 499L334 500L333.4 501L332.9 502L332.2 504L331.8 505L331.2 507L331.1 509L331 511L331 512L331.2 513L331.9 515L332.1 516L332 517.1L331 519L330.2 520L329.8 521L329.7 523L329.8 525L329.9 527L329.7 529L329.7 531L329.9 533L329.7 535L329 536.5L328 537.6L327 538.5L326 539.4L325 540.7L324.4 542L324 543L323 544.9L322.1 546L321.2 547L320 547.9L319 548.3L317 548.4L315.3 549L314.3 550L313.6 551L313 552.3L312.7 554L313 555.6L313.1 557L312.9 558L312.7 560L313 561.9L313.1 563L313 564L312 565.2L311 566.4L310 568L309 569L308 569.7L307 570.4L306 571.1L304.5 572L303 572.6L301 573L299 572.7L297.9 572L296.7 571L295.4 570L294.3 569L293.6 568L293.4 566L294 564.3L294.4 563L295 561L295.4 560L296 558.4L296.1 557L296 555.7L295.7 554L295.5 552L295.8 550L296.2 549L297 547.6L298 546L298.3 545L298.2 543L298 541.4L298 540.7L298.3 539L299 537L299.4 536L300 534.7L301 533.1L302 532L302.7 531L303.1 530L303.1 528L302.9 527L302 525L301.2 524L300.4 523L299.8 522L299.5 520L300 518.8L300.8 517L301.1 516L301 514.7L300.9 513L301.1 512L302 510.2L302.5 509L303 507.5L303.4 506L303.8 504L304 502.1L304.1 501L304.6 499L305 498L305.9 496L306.1 495L306 493.7L305.7 492L306 490.1L306.7 489L307.6 488L308.6 487L309.5 486L310.2 485L311 483.7L311.9 482L312.5 481L313.1 480L314 478L314.6 477L315.5 476L316.8 475L318 474.5L320 474.8L321 475.3L322 476L323.6 476L324.2 475L324 473.6L323.7 472L323.7 470L323.8 468L323.6 466L323.4 464L323.9 462L324.1 461L324.1 459L323.8 458L323.2 456L323.9 454L324.7 453L325.6 452L326.3 451L327 449.5L327.7 448L328.3 447L329.2 446L330.5 445L332 444.4L333.5 444L335 443.6L336.4 443L337.5 442L338.3 441L339 439L338 437L337.1 436L336.7 435L337 433.5L338 432.6L339.7 432L341 431.7L343 431.4L345 431.2L346.4 431ZM218.9 467L220 466.9L221.8 467L223 467L224 467L225.2 467L227 467.2L228.8 468L229.5 469L229.6 471L229 472.6L228 473.8L227 474.7L226 475.8L225.1 477L224.2 478L223 478.9L222 479.5L220 479.8L218 479.9L216.4 480L215 480.6L214.1 482L213.3 483L212 483.9L211 484.2L209 484.2L208 483.9L206 483.3L204.8 483L203 482.3L202 481.4L201.5 480L201.6 478L202.3 477L204 476.3L205.2 476L207 475.5L208 474.9L209.3 474L210.5 473L211.5 472L213 471L214 470.5L215 469.8L216 468.9L217 468L218.9 467ZM276.2 575L278 574.5L279.9 575L281 575.8L282 577L282.5 578L283 579.3L283.6 581L283.7 583L283 585L282.4 586L281.5 587L280.2 588L279 588.5L277 588.2L276 587.5L275 586.7L274 585.8L273 584.7L272 583.2L271.6 582L271.8 580L272.2 579L273 577.6L274 576.5L275 575.6L276.2 575ZM387.8 591L389 590.5L391 590.2L392.3 591L392.3 593L391.9 594L391.6 596L391.7 598L390 598.8L388 598.4L387 597.9L385.7 597L384.6 596L383.8 595L384 593.8L385 593L386.5 592L387.8 591ZM415.7 625L417 624.4L418.3 625L419 626L419.1 628L418 628.3L416.2 628L415 627.7L413.2 628L412 628.3L411.4 627L413 626.3L414.1 626L415.7 625ZM442.3 636L443.2 636L444.1 637L444.2 639L443.8 640L443 641.3L442 642.3L441.1 644L440.6 645L439.6 646L438 646.2L437 645.7L436 644.4L436 643L437 642.2L438 641.9L440 641.7L441 640.1L441.2 639L441.6 637L442.3 636ZM326.6 303L328 302.6L329.5 303L331 303.7L332 304.2L334 304.9L335 305L336 304.9L338 304.8L339 305L341 305.5L343 305.6L345 305.2L346.6 305L348 304.9L349.6 305L351 305.3L353 305.2L354 304.9L356 304.3L357 304L359 303.4L360.5 303L361.4 303L363 303.6L364 304.2L365.1 305L366.1 306L367 307.4L368 308.5L369 309L371 309.2L372 308.9L374 308.5L376 308.6L378 308.3L379.3 308L381 307.6L383 307.6L385 307.9L386 308.2L388 308.7L390 308.5L392 308L393 307.9L394 308L396 309L396.9 310L397.8 311L399 312L400 312.7L401 313.2L402 314L403 315.7L403.3 317L403.4 319L403 320.4L402 321.7L401 322.4L399.5 323L398 323.3L396 323L395 322.6L393 322.3L392 323.6L391.4 325L390.9 326L390 327.8L389.2 329L388.3 330L387.1 331L386 331.9L385 332.6L384 333.1L382 333.5L380 333.2L379 333L377.3 333L376 333.5L375 334L373 334.9L372 335.4L371 336.1L370 337.1L369 338.3L368 339.4L367 340.4L366 341.5L365.1 343L364.7 344L364 345.7L363.3 347L362.7 348L362 349L361 350.2L360 351L358 352L357 352.3L355 352.8L353.6 353L352 353.1L351 352.7L349.1 352L348 351.9L346 352L344 351.8L342 351.4L340 351.1L339 350.8L337.2 350L336 349.3L335 348.8L333.2 348L332 347.4L331 346.8L329.9 346L329 344.9L328.3 343L328.4 341L328.7 339L329 337.1L329.2 336L329.1 334L328.7 333L328 331.8L327 330L326.4 329L325.9 328L325.1 326L324.6 325L323.8 324L322.8 323L322 321.9L321 320L320.4 319L319.6 318L318.7 317L318 316L317.3 314L317 312.3L316.9 311L317 309.9L318 308L319 307L320 306.1L321 305.1L322 304.4L324 304L325 303.8L326.6 303ZM324.7 351L326 350.3L327 351.4L327.2 353L327 354.8L326.1 356L325 356.6L323 356.5L321.8 356L321.2 354L322.3 353L323.6 352L324.7 351ZM314.2 365L316 364.4L316.9 366L316.9 368L316.5 370L315.7 371L314 371.7L312.6 371L311 370.2L310.2 369L310.7 367L311.8 366L313 365.4L314.2 365ZM313.7 374L314 373.5L315 373.6L315.2 374L315 374.9L314.9 375L314 375.2L313.6 375L313.7 374ZM306.6 381L308 380.3L310 380.9L311 381.6L312 382.1L314 382.7L315.3 383L316.3 384L316 385.8L315 386L314 385.7L312.4 385L311 385L310 385.4L308.7 386L307 386.8L306 387.4L305 388.2L303 389L302.9 389L301.9 388L302.1 387L303 385.6L304 384.5L304.9 383L305.6 382L306.6 381ZM299.7 391L301 390.5L301.7 392L301.5 394L300.8 395L299 395.3L298 394.2L298 393L298.6 392L299.7 391ZM346.5 434L348 433.7L350 433.8L350.8 435L351 436L351.2 438L351 439L350 440L348 440.8L347.2 442L347.5 444L347.3 446L347 447.1L346.5 449L346.5 451L346.4 453L346 454.1L345.2 456L344.8 457L344 459L343.6 460L343 461.2L342.2 463L341.6 464L341 465.2L340 467L339.3 468L338 468.9L337 469.2L335.5 470L334.4 471L333.3 472L332 472.7L330.6 472L329 471L328 470.3L327 469.3L326.3 468L325.8 467L325 465L324.9 464L325 462.7L325.3 461L325.6 459L325.4 457L325.4 455L326 453.8L327 452.4L327.9 451L328.4 450L329 448.7L330 447.3L331 446.6L332.6 446L334 445.6L336 445L337 444.6L338.3 444L339.5 443L340.6 442L342 441.2L343 441L345 440.7L346.1 440L345.9 439L345.1 437L344.5 436L345 434.8L346.5 434ZM218 470L220 469.5L222 469.6L224 469.4L226 469.2L227.7 470L227.5 472L226.3 473L225.1 474L224.4 475L223.6 476L222.5 477L221 477.8L220 478L219 478L217.2 477L216.7 476L216.2 474L216.3 472L217 471L218 470ZM325.9 478L327 477.4L329 477.2L330.9 478L332 478.5L333.3 479L335 479.6L336 480.6L336.6 482L336.7 484L336.2 486L335.9 487L335.8 489L335.8 491L335.9 493L336 494L335.9 495L335 496.4L334 497.4L333 498.7L332.3 500L331.9 501L331.2 503L330.7 504L330 505.1L329 506.5L328.6 508L328.7 510L328.7 512L329 513.4L329.9 515L330.3 516L330 517.3L329 518.5L328 520L327.7 521L327.8 523L328 524L328.2 526L328.1 528L328 529L328 530.5L328.2 532L328.2 534L327.9 535L327 536.5L326 537.4L325 538.3L324 539.6L323.3 541L322.8 542L322 543.3L321 544.3L320 545L318 545.9L317 546.1L315 547L314 548L313.2 549L312.6 550L312 551L311 552.9L310.7 554L310.4 556L310 557.1L309.7 559L310 560.3L310.4 562L310 563.2L309.2 565L308.8 566L308 567.4L307 568.3L306 569L304.6 570L303 571L302 571.4L300 571.4L298.9 571L297.5 570L296.5 569L295.8 568L295.6 566L296 564L296.2 563L297 561.2L297.7 560L298 558L297.6 556L297.2 554L297 552.5L297 551.1L297.3 550L298 548.7L299 547.5L300 546.5L301 545.1L301.3 544L301.2 542L301.2 540L301.3 538L301.6 536L302.1 535L303 533.7L304 532.4L304.7 531L304.9 529L304.9 527L304.7 525L304 523.6L303 522.4L302.2 521L302.1 519L302.5 517L302.6 515L302.5 513L303 511.3L303.5 510L304 508.1L304.3 507L304.6 505L304.8 503L305 501.8L305.4 500L306 498.6L306.8 497L307.2 496L307.3 494L307.1 492L307.7 490L308.6 489L309.6 488L310.5 487L311.5 486L312.4 485L313.3 484L314.3 483L315.4 482L316.3 481L317 479.9L318 478.7L320 478.8L321 479.3L323 479.7L324.5 479L325.9 478ZM277 576L278 575.9L279 576.1L280.4 577L281.2 578L282 579.5L282.5 581L282.6 583L282 584.5L281 585.9L280 586.7L279 587.1L277.4 587L276 586.3L275 585.5L274 584.6L273 583.2L272.6 582L272.7 580L273.1 579L274 577.8L275 576.9L277 576ZM327 305L329 304.6L330.4 305L332 305.8L333 306.4L334 307L336 307.3L337.8 307L338.2 307L340 307.2L342 307.3L343.4 307L345 306.6L347 306.2L349 306.2L351 306.7L353 306.7L355 306L356 305.7L358 305.3L359.6 305L361 304.9L362 305.1L363.2 306L364 307L365 308.4L366 309.4L367 310.1L369 311L370 311.3L372 311.3L373 310.8L374.8 310L376 309.7L378 309.3L379.8 309L381 308.9L383 309L384 309.2L386 309.7L387.3 310L389 310.3L391 310.2L393 310.2L394.7 311L396 311.9L397 312.5L398 313.2L399.2 314L400.3 315L401 316.8L401.1 318L400.9 319L399.8 320L398 320.3L396.1 320L395 319.8L393 319.4L391.3 320L390.5 321L390 322.4L389.7 324L389.2 326L388.7 327L387.9 328L386.8 329L385.4 330L384 330.8L383 331L382 331L380 330.4L378.5 330L377.8 330L376 330.7L375 331.4L374 332L372 332.9L371 333.3L370 334.1L369 335.3L368 336.7L367 337.9L366 338.7L365 339.4L364 340.2L363 341.4L362.5 343L362.3 345L362 346L361 347.7L360 348.9L359 349.8L358 350.4L356 350.9L355 351L354 351L352 350.7L350 350.2L348 350.1L346 350.1L345 350L343 349.7L341 349.7L339 349.1L338 348.3L337 347.5L336 346.8L334.6 346L333 345.3L332 344.9L330.8 344L330 342.9L329.7 341L329.8 339L330 337.6L330.4 336L330.5 334L330 332.6L329.1 331L328.5 330L327.9 329L327 327.4L326.4 326L326 325L325 323.4L324 322.4L323 321.2L322.4 320L322 319L321.1 317L320.6 316L320.1 314L320 313L320 311.1L320.3 310L321 308.9L322 307.9L323.3 307L325 306.3L326 305.7L327 305ZM341.8 444L343 443.4L345 443.8L345.5 445L345 447L344.6 448L344.6 450L344.8 452L344.2 454L343.8 455L343.1 457L342.9 458L342.2 460L341.8 461L341 462.8L340.4 464L339.7 465L338.9 466L337 467L336 467.3L334.5 468L333 469L332 469.3L330.1 469L329 468.3L328 467L327.4 466L326.8 465L326.4 463L326.6 461L326.9 459L327 458L327.1 456L327.6 454L328.2 453L329 451.8L330 450L330.6 449L331.7 448L333 447.5L334.5 447L336 446.5L337.5 446L339 445.6L340.4 445L341.8 444ZM221 473L221 473L222.1 474L221.7 475L220 475.4L219.7 474L221 473ZM327.8 479L328.2 479L330 479.7L331 480.4L332.1 481L333.8 482L334.4 483L334.3 485L334 486.1L333.8 488L333.9 490L334 491L334 493L333.9 494L333 495.9L332.2 497L331.5 498L331 499.2L330.6 501L330 502.5L329 504L328.1 505L327.3 506L326.9 507L326.7 509L326.5 511L326.2 513L326.6 515L326.9 517L326.3 519L325.9 520L325.8 522L326 523.7L326.2 525L326.1 527L326 528L326 529.3L326.3 531L326.6 533L326 535L325 535.9L324 536.4L322.8 537L322 538L321.7 540L321 541.6L320 542.6L319 543.3L317.5 544L316 544.6L315 545.1L314 546L313 547.1L312 548.4L311 549.7L310.1 551L309.5 552L309 553.2L308.6 555L308.1 557L307.8 558L307.6 560L307.6 562L307.3 564L307 565.1L306 566.7L305 567.4L304 568.1L302.8 569L301 569.8L299 569.1L298.2 568L297.9 567L298 565L298.2 564L299 562.4L300 561.4L301 560.8L302.2 560L302 558.3L301 557.4L300 556.5L299.1 555L298.7 554L298.3 552L298.7 550L299.4 549L300.7 548L302 547L303 546L303.7 545L304 544L304.2 542L304.2 540L304 538.6L303.9 537L304 536L304.9 534L305.5 533L306 531.7L306.4 530L306.9 528L307.5 527L308.1 526L308.4 524L307.5 523L306.2 522L305.1 521L304.3 520L304 519L304 517L304 516L304.1 514L304.3 512L304.9 510L305.1 509L305.5 507L305.6 505L305.7 503L306 501.8L306.8 500L307.3 499L308 497.6L308.6 496L308.8 494L308.8 492L309.1 491L310 489.7L311 488.4L312 487.4L313 486.5L314 485.7L315.1 485L317 484.2L318 484L320 483.4L321.4 483L323 482.3L324 481.6L325 480.7L326 479.7L327.8 479ZM275.3 578L277 577.3L279 577.6L280 578.3L281 579.8L281.4 581L281.4 583L281 584.1L280 585.3L278 585.9L276 585.1L275 584.3L274 583L273.6 582L273.7 580L274.3 579L275.3 578ZM328.2 307L330 306.7L331 307.2L332 308.7L332 310L331.9 311L332.2 312L334 312.7L336 312.5L337.1 312L338.1 311L339 309.9L341 309.4L342.7 309L344 308.6L345.7 308L347 307.7L349 307.6L350.2 308L352 308.5L354 308.2L355 307.8L357 307.4L359 307.6L360.8 308L362 308.5L363 309.3L364 310.2L365.2 311L367 311.9L368 312.4L369.3 313L371 313.4L372.5 313L374 312.1L375 311.5L376 311L378 310.4L380 310.4L382 310.9L383 311.1L385 311.3L387 311.9L388 312.5L389 313.1L391 313.6L393 313.8L394 314.2L396 314.8L397 315.3L397.9 317L396 317.8L394 317.4L392.9 317L391 316.2L389.1 317L388.3 318L387.9 319L387.3 321L387 323L387.1 325L386.8 326L386 327.2L385 328.2L383.2 329L382.7 329L381 328.5L379 328L377 328.3L375.3 329L374 329.9L373 330.4L371.3 331L370 331.5L369 332.3L368 333.7L367.1 335L366.3 336L365.3 337L364 337.9L363 338.4L362 339L360.8 340L360 341.3L359.5 343L359.4 345L359 346.5L358 347.9L357 348.6L355.6 349L354.8 349L353 348.7L351 348L350 347.8L348 347.8L346 347.6L344.3 347L343 346.4L342 345.9L340.6 345L339 344L338 343.5L337 343L335 342.7L333 342.4L332 341.7L331.3 340L331.3 338L331.9 336L332 335L331.9 334L331.1 332L330.6 331L330 329.9L329 328.3L328.2 327L327.7 326L327 324.2L326.4 323L325.5 322L324.6 321L324 320L323.1 318L322.8 317L322.3 315L322 313L322.3 311L323 309.9L325 309L326 308.8L327.2 308L328.2 307ZM335.7 448L337 447.5L339 447.3L341 447.8L342 448.7L342.7 450L343 451.8L343 452.1L342.6 454L342 456L341.7 457L341.1 459L340.7 460L340 462L339.5 463L338.7 464L337.1 465L336 465.2L334 465.9L333 466.4L331 466.8L329.8 466L329 464.8L328.3 463L328.1 461L328.3 459L328.5 457L328.8 455L329.2 454L330 452.7L331 451.3L332 450.1L333 449.3L334 448.8L335.7 448ZM326.8 481L328 480.6L329.3 481L330.7 482L331.6 483L331.9 485L331.2 487L330.5 488L329.9 489L330.1 490L331.1 491L332 492.6L332 493.7L331.5 495L330.6 496L329.6 497L329.1 499L329 500.5L328.6 502L327.9 503L327 504.1L326 505.4L325.3 507L325 508.4L324.7 510L324.3 512L324.4 514L324.8 516L324.6 518L324 519.9L323.7 521L323.8 523L323.9 525L323.3 527L322.9 528L322.5 530L323 531.6L323 532.5L322 533.1L320.3 534L319 535L318.1 536L317.8 537L317.6 539L317 540.6L316 541.7L315 542.6L314 543.5L313 544.7L312 545.9L311 546.9L310 547.6L309 548.5L308.2 550L307.8 551L307.1 553L306.7 554L306.2 556L305 556.9L303.1 556L302 555.3L301 554.5L300.1 553L299.8 552L300 550.7L301 549.6L302 548.9L303.4 548L305 547L305.9 546L306.2 545L306.5 543L306.9 541L307.2 540L307 538L306.8 537L306.8 535L307.1 534L307.9 532L308.3 531L309 529.4L309.8 528L310.4 527L311 525.8L311.5 524L311 522.9L310 521.8L309 521L307.6 520L306.4 519L305.7 518L305.4 516L305.5 514L306 512L306.4 511L307 509.1L307.1 508L307 507L306.7 505L306.8 503L307.1 502L308 500.5L309 499L309.5 498L310 496.9L310.5 495L310.6 493L311 491.1L311.6 490L312.4 489L313.5 488L315 487.3L316.4 487L318 486.8L320 486.8L322 486.6L323.8 486L324.8 485L325.1 484L326 482L326.8 481ZM275.9 579L277 578.6L278.7 579L279.7 580L280.2 581L280.1 583L279.4 584L278 584.6L276.3 584L275.3 583L274.8 582L275 580L275.9 579ZM347.5 310L349 309.9L350 310.2L352 310.5L354 310.2L355 310L357 310L358 310.2L360 310.8L361 311.1L362 312L362 313.5L361.7 315L362 316.2L363 317.3L364.7 318L365.9 318L367 317L367.8 316L369 315.6L371 315.4L372.1 315L374 314.1L375 313.5L376 312.7L377.4 312L379 311.9L380 312.4L381 313.1L383 313.9L384 314.3L384.7 316L384.4 318L384.1 320L383.9 321L383.5 323L383.5 325L382.2 326L382 326L380 326L379 326.1L377 326.6L375.4 327L374 327.7L373 328.3L371 329L370 329.1L368 329.9L367.3 331L366.8 332L366 333.2L365 334.3L364 335.3L363 336.2L361.8 337L360.3 338L359.2 339L358.4 340L357.6 341L356.7 342L356 343L355 344.4L354 345.3L352 345.4L350.3 345L349 344.9L347 344.7L345 344.1L344 343.8L342 343.1L341 342.7L339.8 342L338.4 341L337 340.1L336 339.8L334.4 339L334.1 337L334 335.7L333.5 334L333 332.9L332 331L331.5 330L331 328.9L330 327.3L329.2 326L328.8 325L328.1 323L327.7 322L327 320.9L326 319.4L325.3 318L324.9 317L325 315.7L326.3 315L328 314.9L330 314.8L332 314.7L334 314.5L336 314.3L337.4 314L339 313.4L340 313L342 312L343 311.7L345 311.3L346 311L347.5 310ZM337 449L339 449L340 449.4L341 450.7L341.3 452L341 454L340.8 455L340.2 457L339.7 458L339 459.5L338.3 461L337.6 462L336 462.7L334 462.7L332 462.4L331 461.8L330 460L329.9 459L330 457.7L330.2 456L331 454L331.8 453L332.7 452L333.7 451L334.9 450L336 449.4L337 449ZM314.8 490L316 490L317 490.4L319 490.7L320.5 490L322 489.4L324 489.1L325.4 490L326.3 491L327.1 492L328 494L328 494L327 496L326.8 497L327 498.7L327.2 500L327 501.3L326 503L325.1 504L324.1 505L323.4 506L323 507.1L322.2 509L321.7 510L321 511.2L321 513L321.7 514L322.4 515L322.8 517L322 518.8L321 519.7L320 520.1L318 520.7L317 521.3L315.8 522L314 522.4L313 521.8L312 521L310.9 520L309.7 519L308.3 518L307.3 517L306.9 516L306.9 514L307.3 513L308 511.9L309 510L309.3 509L309 507L308.5 506L308 504.3L308 503.9L309 502L310 501L310.9 500L311.5 499L312.1 498L313 496.2L313.5 495L313.5 493L313.6 491L314.8 490ZM313.5 527L315 526.2L316.1 527L316 528.5L315 529.7L313 529L312.9 528L313.5 527ZM355.9 314L356.1 314L357.9 315L358.6 316L359.1 317L360 318.7L361 319.6L362 320.1L363.3 321L364.2 322L365 323L366.7 323L367.9 322L369 321.4L370 320.9L371.5 320L372.1 319L373 317.6L374 316.8L375.5 316L377 315.2L378 314.8L379.2 315L380.5 316L380.6 318L380 319L379 321L378.7 322L378 323.1L376 323.4L375 322.9L373 322.5L372 323.6L371 324.7L370 325.2L368 325L367 324.4L365.9 325L365.5 327L365 328.6L364.5 330L364 331L363 332.2L362 333.3L361 334.3L360 335.2L359 336.1L358 337.3L357 338.9L356 339.9L355 340.7L354 341.4L353 342L351 342.2L349 342.1L347 342.3L345 342.3L343 342L342 341.7L340.7 341L339.7 340L339 339L338 337.6L337 336.4L336 335.2L335.2 334L334.6 333L334 332L333 330.1L332.6 329L332 327.7L331 326L330.6 325L330.1 323L329.9 322L329.2 320L328.9 319L329 318L331 317L333 317.3L335 317L336 316.7L338 316L339 315.7L341 315.3L343 315.3L345 315.1L346 314.9L348 314.9L349 315L351 315.2L352.9 315L354 314.6L355.9 314ZM335.8 452L337 451.2L338.8 452L338.5 454L338 455L336.4 456L335 456.7L334 457.2L333.6 456L334 454.8L335 453L335.8 452ZM317.3 496L319 496L320 496.2L322 496.7L323 497.2L324 498.1L325 499.9L325 500.6L324.3 502L323 502.7L322 503L320 503.5L319 504L318 505L317 506.9L316.5 508L316 509.7L316 510.9L316.3 512L316.9 514L317.1 515L317.1 517L316.4 518L315 518.9L314 519L313 518.7L311.8 518L310.2 517L309.1 516L308.7 515L309 513.7L310 512.1L310.6 511L311 510L311.6 508L311.5 506L311.6 504L312.2 503L313 501.7L313.8 500L314.1 499L315 497.3L316 496.4L317.3 496ZM347 317L348 317L349 317L351 317.1L353 317.1L355 317.4L356.1 318L357 319.5L357.3 321L357.7 323L359 323.8L360 324L362 324.7L362.9 326L363.1 327L362.9 328L362 329.4L361 330.2L359 330.5L357 330.4L355.3 331L354.7 332L354.5 334L354.7 336L354 338L353 338.9L352 339.4L350 340L349 340.1L347 340.7L345.1 341L344.5 341L343 340.8L341.5 340L340.7 339L340 337.4L339.2 336L338.1 335L337.1 334L336.3 333L335.6 332L335 330.9L334.4 329L334 327.8L333 326L332.6 325L332.6 323L333.3 322L334.9 321L336 320.3L337 319.6L338 318.9L340 318.1L342 318.4L344 318.1L345 317.7L347 317ZM317 499L317 499L318 498.9L318.3 499L318.4 500L318 500.3L317 500.3L316.9 500L317 499ZM312.4 514L313 513.6L313.5 514L313.6 515L313 515.3L312.4 515L312.4 514ZM346.4 321L348 320.5L350 320.5L352 320.1L353.2 321L353.8 323L354.6 324L355.5 325L356.4 326L357 327L356 327.7L355 328.4L354 329.3L353 330.6L352.4 332L352 333.6L351.6 335L351 336.3L350 337.5L349 338.2L347.6 339L346 339.6L344 339.7L342.6 339L341.9 338L341.3 336L340.9 335L339.9 334L338.6 333L337.7 332L337 330.8L336.8 329L336.7 327L336 325.7L335.3 324L336.1 323L338 322.1L339 321.8L341 321.8L342.4 322L344 322.1L345 321.8L346.4 321ZM340.1 325L342 324.9L343 325.2L345 325.7L347 325.5L349 325L351 325.4L352.1 326L352.3 328L351.7 329L350.9 330L350 331.6L349.3 333L348.9 334L348 336L347.3 337L346 337.9L345 338.1L344 337.7L343.5 336L343.5 334L343 333L341.8 332L340.4 331L339.6 330L339.1 328L339.3 326L340.1 325ZM608.7 93.4L609.3 97.9L610.2 101.4L610.8 104.7L609.7 109.9L608.5 110.8L611.1 112.6L613.5 114.7L617.3 116.8L620.4 118.8L622.7 121.8L624.1 123.5L624.8 126.9L627.1 129.3L626.9 132.9L627.6 135L630.4 138.4L631.8 141.4L631.8 144.5L634.7 145.7L637.3 150L638.4 151.6L640.2 154.9L642.6 158.1L643.4 161L644.8 162.4L646.8 166L647.9 167.9L649.7 169.6L652.5 173.2L653.7 174.7L656.6 176.9L658.5 177.7L662.6 180.7L663.5 181.4L667.5 183L670.8 184.3L672.6 186.1L675.8 188.3L677.3 189L680.1 191.7M635.9 95.2L637 98.6L638.4 101.3L639.4 104.5L641.7 107.9L642.5 111.8L644.3 115.7L645.6 117.9L647.8 121.9L649.9 124.6L651.3 128.2L653.1 131.9L654.7 135.2L654.7 138.4L654.5 142.1L654.6 144.7L654.6 147L656.3 150.3L656.9 153.5L660.5 155.3L662.3 158.2L665.1 161.4L668.2 163.8L670.8 165.8L674.1 167.8L677 168.9L678.7 170.8L681 172.9M642 95.1L643 97.6L644.8 100.5L645.9 103.8L648.7 106.4L649.4 109.7L650.9 113.9L653.9 116L656 118.2L658.2 119.9L660.2 122.7L662.8 126.1L665.4 129.7L664.7 132.4L663 135.5L662 138.5L659.7 140.9L662 144.2L664.2 148.1L666.1 151.4L668.7 153.6L670.5 156.4L672.7 159.3L676 161.4L678.3 162.6L681 164.8M647.9 95.2L649.4 98.3L651.4 102.1L653 105.2L654.2 107.4L655.4 110.3L656.9 114.1L659.5 115.7L662.7 117.4L664.9 119L666.9 121.2L668.1 124.1L669.9 127.2L671.1 129.5L669.1 132.6L666.8 135.8L664.8 138.7L665.4 141.7L665.9 144.7L667.1 148.2L670.3 149.5L672.4 152.5L674.3 155.1L677.7 157L681 160.3M656.7 94.8L657.2 97.9L657.7 102L657.5 104.9L658.2 108.3L659.2 112L660 114.8L662.2 119L663 115.1L664.1 111.9L664.2 108.2L663.3 104.9L665.5 101.7L668.1 99.4L671.1 100L674.4 101.4L675.9 104.1L676.9 106.8L673.5 108.6L670.7 110.1L667.8 112.3L668.2 114.8L669 118.6L669.2 120.9L671.1 124L672.3 126.4L675.1 128.6L677 131.8L678.6 132.6L681 133.4M670.6 140.4L674.4 139.8L677.1 139.7L677.7 142.9L677.5 145.8L677.5 149.1L676 153.2L673.6 149.9L670.9 148.1L670.9 144.5L671.1 140.6M416.3 373L416.8 373.8L420.1 377.2L422.8 378.7L424.7 380.2L426.8 382.5L428.4 384.3L431.2 387.4L433.1 391.5L435.9 396L434.7 395.7L432.6 398.9L429.5 401.8L427.4 401.1L424.6 401.2L421.1 399.5L415.5 402.9L412 403.6L410.7 402.4L406.3 401.3L403.8 399.5L400.5 399.4L397.3 398.5L391.2 398.6M442.5 405.6L446.3 403.7L450.1 402.9L453.7 402.6L456.5 402.7L462 403.7L462.7 404.1L462 408.3L459.1 411.9L457.5 410.5L454.2 409.8L452.3 406.9L450 410.6L449.4 414.4L449.8 418.2L450.2 421.6L449.4 422.8L449.8 428L446.3 429.2L442.3 429.8L438.5 432.4L436.7 427.8L433 424.9L432.7 423.1L428.8 421.5L428.1 418.9L425.3 416.8L422.7 414.2L420 411.4M405 414.9L403 418.1L398.5 419.9L401.9 422L402.6 425.7L403.8 427.6L404.4 431.7L406.6 433.9L407.8 436.1L410.6 437.3L411 440.3L410.1 443L409.9 447L408 450.4L404.3 450.5L401.2 449.5L399.7 450.5L395.4 450.7L393.1 451.4L390.4 454.5L388 456M439.9 236.4h1v1h-1ZM447.4 239.4h1v1h-1ZM475.4 232.4h1v1h-1ZM484.4 231.4h1v1h-1ZM446.4 244.4h1v1h-1ZM456.4 248.4h1v1h-1ZM399.4 251.4h1v1h-1ZM403.4 253.4h1v1h-1ZM394.4 253.4h1v1h-1ZM411.4 245.4h1v1h-1ZM470.4 276.4h1v1h-1ZM484.4 289.4h1v1h-1ZM473.4 103.4h1v1h-1ZM476.4 118.4h1v1h-1ZM475.4 131.4h1v1h-1ZM471.4 148.4h1v1h-1ZM470.4 142.4h1v1h-1ZM449.4 552.4h1v1h-1ZM455.4 565.4h1v1h-1ZM442.4 571.4h1v1h-1ZM446.4 584.4h1v1h-1ZM458.4 593.4h1v1h-1ZM461.4 607.4h1v1h-1ZM453.4 614.4h1v1h-1ZM472.4 584.4h1v1h-1ZM494.4 568.4h1v1h-1ZM530.4 584.4h1v1h-1ZM471.4 577.4h1v1h-1ZM479.4 579.4h1v1h-1ZM609.4 585.4h1v1h-1ZM459.4 603.4h1v1h-1ZM465.4 609.4h1v1h-1ZM289.4 703.4h1v1h-1ZM283.4 709.4h1v1h-1ZM654.4 686.4h1v1h-1ZM414.4 807.4h1v1h-1ZM397.4 794.4h1v1h-1ZM379.4 225.4h1v1h-1ZM398.4 231.4h1v1h-1Z" fill="none" stroke="#000" stroke-opacity="0.58" stroke-width="0.68" stroke-linejoin="round"/></g>
<path d="M485.1 94.5 L489 119.7 L488 149.4 L486.8 167.9 L479.4 185 L470.6 205.7 L464 215 L454.5 224.6 L445.3 226.2 L433.7 225.9 L431.7 225 L418 212.5 L415.4 214.7 L431 234.6 L433.6 232.2 L431.7 225 L433.6 232.2 L425.6 240.8 L409 224M398.4 196.7 L385.6 200.2 L375.4 203.3 L372.3 206.4 L366.1 204.3 L364.1 201.3 L360 199.7 L358.3 199.6 L349.1 201.1 L338.4 203.4 L336.1 205 L335.3 215.7 L331.5 220.3 L323.6 224.2 L318.4 231.1 L314.6 237.2 L309.2 242.6 L301.5 248 L299.2 252.6 L301.5 255.7 L296.9 261.8 L296.6 269.5 L299.9 270 L301.4 277.7 L299.1 284.6 L294.5 286.9 L296.4 292.6 L299.9 297.6 L302.2 303 L300.7 309.9 L296.8 313.8 L298.4 319.2 L302.2 322.2 L295.3 326.1 L293 333 L295.3 336 L293.7 340.7 L292.2 348.3 L291.4 354.5 L287.6 360 L275.4 370 L256.7 383.5 L247.7 391.2 L245.9 405.3 L243.9 418.1 L238.8 419.4 L241.3 425.8 L233.6 430.9 L231.1 438.6 L227.2 459.1 L218.3 461.6 L190.4 467.8 L199.1 473.1 L197.4 480.7 L194.3 486 L185.1 492 L188.7 498.7 L200 503.8 L210.8 508.4 L214.6 516.1 L218.4 522.3 L227.6 529.2 L235.3 533.8 L245.3 536.1 L252.2 531.5 L255.3 525.3 L257.1 520.7 L253 517.6 L253 513 L257.6 506.9 L267.6 504.1 L276.8 506.1 L280.6 511.5 L282.2 520.7 L286 528.4 L290.6 535.3 L290.9 543 L288.3 551.4 L283.7 557.6 L276.8 562.2 L269.9 566 L269.9 570 L270.7 577.7 L266.8 585.4 L269.1 588.4 L262.2 596.9 L266.1 603.8 L266.4 619.2 L267.3 631.4 L265.3 646.8 L264.5 650 L258.4 664.6 L252.2 670.7 L243 669.7 L239.2 675.3 L231.5 687.6 L220.7 691.2 L214.6 696.1 L214.3 699.2 L217.6 701.5 L216.1 704.5 L210.7 709.1 L211.2 719.1 L220.7 732.9 L247.6 774.2 L261.4 772.6 L281.4 781.9 L294.5 798 L300.6 824M375.4 203.3 L384.1 205.4 L375.4 212 L385.6 223.8 L408.2 242.8 L412.5 239 L392 217 L396 212.5 L389 208.5 L381.5 214M694 562 L683.7 562.6 L539.4 596.1 L449.9 655 L433.7 665.4 L429.9 680.3 L417.9 675.3 L401.5 692.9 L417.9 717.7 L404.6 734.9 L398.9 766.1 L404.6 799.1 L436 805.7 L446.8 824" fill="none" stroke="#000" stroke-width="2.1" stroke-linejoin="round" stroke-linecap="butt"/>
<path d="M81.3 94L95.9 824.5M166.8 94L181.2 824.5M252.2 94L266.5 824.5M337.7 94L351.8 824.5M423.1 94L437.1 824.5M508.6 94L522.4 824.5M594.1 94L607.7 824.5M679.5 94L693 824.5M80 105.2L694 92.7M80 207.8L694 195.3M80 310.4L694 297.9M80 413L694 400.5M80 515.6L694 503.1M80 618.2L694 605.7M80 720.8L694 708.3M80 823.4L694 810.9" fill="none" stroke="#fff" stroke-opacity="0.52" stroke-width="0.6"/>
<g fill="#000" stroke="#fff" stroke-width="0.9"><circle cx="323.5" cy="224.6" r="3.4"/><circle cx="344.5" cy="239.5" r="3.4"/><circle cx="321.5" cy="281.8" r="3.4"/><circle cx="296.4" cy="293" r="3.4"/><circle cx="427.6" cy="305.5" r="3.4"/><circle cx="352.5" cy="326.5" r="3.4"/><circle cx="362.4" cy="329.4" r="3.4"/><circle cx="369.1" cy="390.6" r="3.4"/><circle cx="325.2" cy="520.3" r="3.4"/><circle cx="314.4" cy="547.3" r="3.4"/><circle cx="313.3" cy="560.3" r="3.4"/><circle cx="225.6" cy="696.6" r="3.4"/><circle cx="233.5" cy="734.3" r="3.4"/></g></g>
<g font-size="11.05" font-weight="bold" fill="#fff" stroke="#000" stroke-width="2.3" stroke-linejoin="round" paint-order="stroke fill">
<text x="329.6" y="224.4">SHL: 0.8 m/s</text>
<text x="350.6" y="239.1">SHT: 2.0 m/s</text>
<text x="327.7" y="280.9">LHT: 1.3 m/s</text>
<text x="303.5" y="291.8">LHL: 0.1 m/s</text>
<text x="434.6" y="305.3">BTO: 1.5 m/s</text>
<text x="358.8" y="325.8">GUT: 1.1 m/s</text>
<text x="368.6" y="350.3">TMT: 1.1 m/s</text>
<text x="376.5" y="390.4">OHT: 1.6 m/s</text>
<text x="332.3" y="520.1">CBT: 1.3 m/s</text>
<text x="321.1" y="546.8">FWT: 1.3 m/s</text>
<text x="320.1" y="559.8">NHT: 1.4 m/s</text>
<text x="232" y="695.9">KOL: 1.8 m/s</text>
<text x="240" y="733.7">KRT: 1.1 m/s</text>
</g>
<rect x="80.5" y="94.4" width="613" height="729.9" fill="none" stroke="#000" stroke-width="1.07"/>
<g font-size="10.9" text-anchor="end" fill="#000">
<text x="73.4" y="109.7">33.85°S</text>
<text x="73.4" y="212.3">33.9°S</text>
<text x="73.4" y="314.9">33.95°S</text>
<text x="73.4" y="417.5">34°S</text>
<text x="73.4" y="520.1">34.05°S</text>
<text x="73.4" y="622.7">34.1°S</text>
<text x="73.4" y="725.3">34.15°S</text>
</g>
<g font-size="10.9" text-anchor="end" fill="#000">
<text transform="translate(100,833.6) rotate(-90)" x="0" y="0">18.25°E</text>
<text transform="translate(185.3,833.6) rotate(-90)" x="0" y="0">18.3°E</text>
<text transform="translate(270.6,833.6) rotate(-90)" x="0" y="0">18.35°E</text>
<text transform="translate(355.9,833.6) rotate(-90)" x="0" y="0">18.4°E</text>
<text transform="translate(441.2,833.6) rotate(-90)" x="0" y="0">18.45°E</text>
<text transform="translate(526.5,833.6) rotate(-90)" x="0" y="0">18.5°E</text>
<text transform="translate(611.8,833.6) rotate(-90)" x="0" y="0">18.55°E</text>
</g>
<g shape-rendering="crispEdges">
<rect x="14" y="879.4" width="29" height="29.9" fill="#0000f0"/>
<rect x="43" y="879.4" width="29" height="29.9" fill="#0030e8"/>
<rect x="72" y="879.4" width="28" height="29.9" fill="#0068e8"/>
<rect x="100" y="879.4" width="29" height="29.9" fill="#00a0e8"/>
<rect x="129" y="879.4" width="29" height="29.9" fill="#00c8e8"/>
<rect x="158" y="879.4" width="28" height="29.9" fill="#00e0d8"/>
<rect x="186" y="879.4" width="29" height="29.9" fill="#00d8b0"/>
<rect x="215" y="879.4" width="28" height="29.9" fill="#00c880"/>
<rect x="243" y="879.4" width="29" height="29.9" fill="#00b850"/>
<rect x="272" y="879.4" width="29" height="29.9" fill="#08b018"/>
<rect x="301" y="879.4" width="28" height="29.9" fill="#28b008"/>
<rect x="329" y="879.4" width="29" height="29.9" fill="#58bc00"/>
<rect x="358" y="879.4" width="28" height="29.9" fill="#88cc00"/>
<rect x="386" y="879.4" width="29" height="29.9" fill="#b8dc00"/>
<rect x="415" y="879.4" width="29" height="29.9" fill="#dce400"/>
<rect x="444" y="879.4" width="28" height="29.9" fill="#ecdc00"/>
<rect x="472" y="879.4" width="29" height="29.9" fill="#eccc00"/>
<rect x="501" y="879.4" width="28" height="29.9" fill="#ecb800"/>
<rect x="529" y="879.4" width="29" height="29.9" fill="#eca400"/>
<rect x="558" y="879.4" width="29" height="29.9" fill="#ec9400"/>
<rect x="587" y="879.4" width="28" height="29.9" fill="#ec7c00"/>
<rect x="615" y="879.4" width="29" height="29.9" fill="#ec5800"/>
<rect x="644" y="879.4" width="28" height="29.9" fill="#ec3400"/>
<rect x="672" y="879.4" width="29" height="29.9" fill="#e81c04"/>
<rect x="701" y="879.4" width="29" height="29.9" fill="#e00c0c"/>
<rect x="730" y="879.4" width="28" height="29.9" fill="#b80020"/>
</g>
<rect x="14.5" y="879.4" width="743.8" height="29.9" fill="none" stroke="#000" stroke-width="1.07"/>
<path d="M14.5 909.3v5.4M43.11 909.3v3.3M71.72 909.3v5.4M100.32 909.3v3.3M128.93 909.3v5.4M157.54 909.3v3.3M186.15 909.3v5.4M214.75 909.3v3.3M243.36 909.3v5.4M271.97 909.3v3.3M300.58 909.3v5.4M329.18 909.3v3.3M357.79 909.3v5.4M386.4 909.3v3.3M415.01 909.3v5.4M443.62 909.3v3.3M472.22 909.3v5.4M500.83 909.3v3.3M529.44 909.3v5.4M558.05 909.3v3.3M586.65 909.3v5.4M615.26 909.3v3.3M643.87 909.3v5.4M672.48 909.3v3.3M701.08 909.3v5.4M729.69 909.3v3.3M758.3 909.3v5.4" stroke="#000" stroke-width="1.07" fill="none"/>
<g font-size="13.89" text-anchor="middle" fill="#000">
<text x="14.6" y="929.6" font-size="13.3">0</text>
<text x="71.82" y="929.6" font-size="13.3">40</text>
<text x="129.03" y="929.6" font-size="13.3">80</text>
<text x="186.25" y="929.6" font-size="13.3">120</text>
<text x="243.46" y="929.6" font-size="13.3">160</text>
<text x="300.68" y="929.6" font-size="13.3">200</text>
<text x="357.89" y="929.6" font-size="13.3">240</text>
<text x="415.11" y="929.6" font-size="13.3">280</text>
<text x="472.32" y="929.6" font-size="13.3">320</text>
<text x="529.54" y="929.6" font-size="13.3">360</text>
<text x="586.75" y="929.6" font-size="13.3">400</text>
<text x="643.97" y="929.6" font-size="13.3">440</text>
<text x="701.18" y="929.6" font-size="13.3">480</text>
<text x="758.4" y="929.6" font-size="13.3">520</text>
<text x="386.5" y="949.5">wstar [ft/min]</text>
</g>
</svg></body></html>
